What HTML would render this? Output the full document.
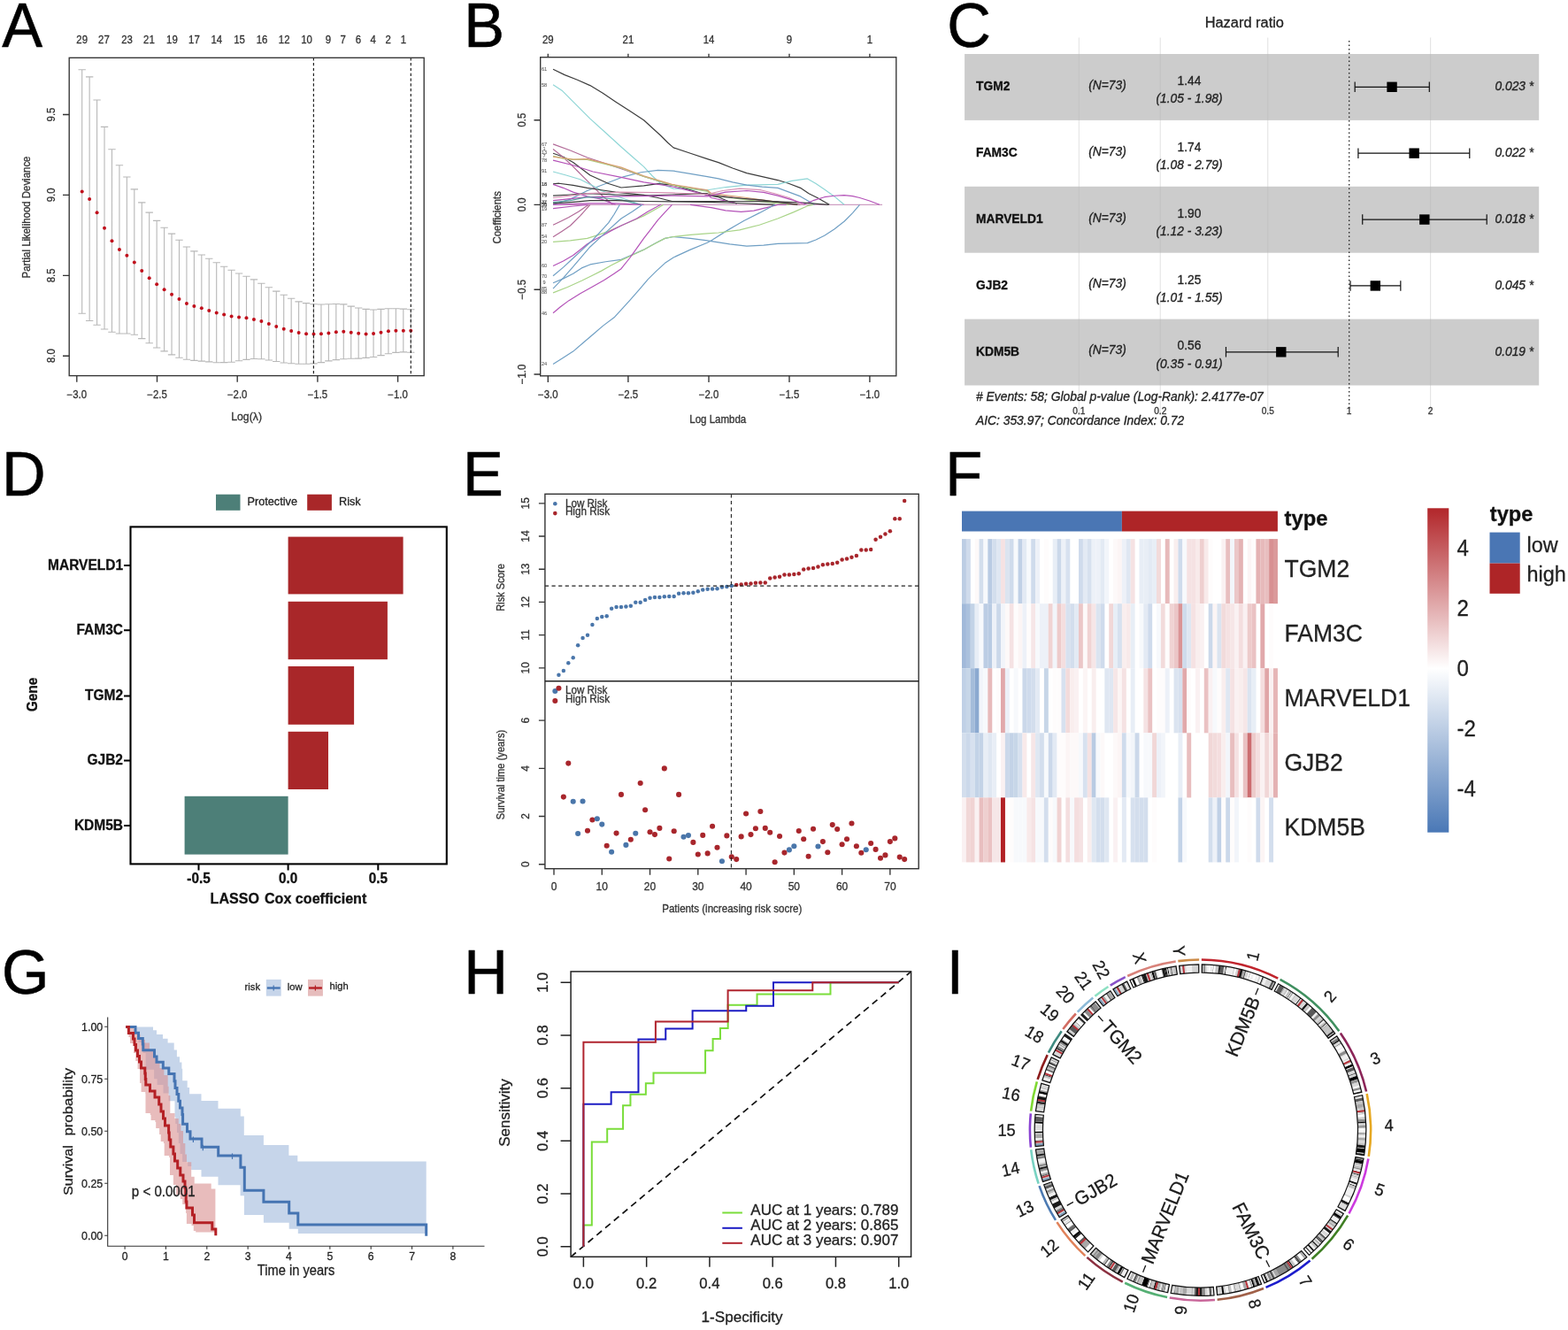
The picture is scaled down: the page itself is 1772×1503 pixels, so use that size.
<!DOCTYPE html>
<html lang="en">
<head>
<meta charset="utf-8">
<title>Figure: LASSO Cox risk model</title>
<style>
html,body{margin:0;padding:0;background:#fff;}
body{width:1772px;height:1503px;overflow:hidden;}
svg{display:block;font-family:'Liberation Sans', Arial, Helvetica, sans-serif;}
</style>
</head>
<body>
<svg width="1772" height="1503" viewBox="0 0 1772 1503">
<rect x="0" y="0" width="1772" height="1503" fill="#ffffff"/>
<g id="panel-a">
<text font-size="70.51" transform="translate(2.2 52.7) scale(0.975 1)" fill="#000" stroke="#000" stroke-width="0.5">A</text>
<path d="M92.7 78.8V354.3M88.5 78.8h8.4M88.5 354.3h8.4M101.15 86.9V362.5M96.95 86.9h8.4M96.95 362.5h8.4M109.59 113V367.3M105.39 113h8.4M105.39 367.3h8.4M118.03 143.4V372M113.83 143.4h8.4M113.83 372h8.4M126.48 168.7V375.2M122.28 168.7h8.4M122.28 375.2h8.4M134.93 186.8V377M130.73 186.8h8.4M130.73 377h8.4M143.37 200V377M139.17 200h8.4M139.17 377h8.4M151.81 213.9V378.3M147.62 213.9h8.4M147.62 378.3h8.4M160.26 228.9V382.6M156.06 228.9h8.4M156.06 382.6h8.4M168.7 240.1V387.8M164.5 240.1h8.4M164.5 387.8h8.4M177.15 249.4V393M172.95 249.4h8.4M172.95 393h8.4M185.6 257.3V396.9M181.4 257.3h8.4M181.4 396.9h8.4M194.04 264.1V400.9M189.84 264.1h8.4M189.84 400.9h8.4M202.49 271.2V404.2M198.29 271.2h8.4M198.29 404.2h8.4M210.93 279V406.3M206.73 279h8.4M206.73 406.3h8.4M219.38 283.9V407.4M215.18 283.9h8.4M215.18 407.4h8.4M227.82 288V408.1M223.62 288h8.4M223.62 408.1h8.4M236.26 292.3V408.9M232.06 292.3h8.4M232.06 408.9h8.4M244.71 296.7V409.8M240.51 296.7h8.4M240.51 409.8h8.4M253.16 301.2V409.6M248.96 301.2h8.4M248.96 409.6h8.4M261.6 305.3V409.2M257.4 305.3h8.4M257.4 409.2h8.4M270.05 309V407.7M265.85 309h8.4M265.85 407.7h8.4M278.49 312.2V406.4M274.29 312.2h8.4M274.29 406.4h8.4M286.94 315.9V405.5M282.74 315.9h8.4M282.74 405.5h8.4M295.38 320.2V405.7M291.18 320.2h8.4M291.18 405.7h8.4M303.82 324.7V407M299.62 324.7h8.4M299.62 407h8.4M312.27 329.1V408.5M308.07 329.1h8.4M308.07 408.5h8.4M320.72 333.2V410M316.52 333.2h8.4M316.52 410h8.4M329.16 337.3V410.7M324.96 337.3h8.4M324.96 410.7h8.4M337.61 340.9V411.3M333.41 340.9h8.4M333.41 411.3h8.4M346.05 342.6V411.3M341.85 342.6h8.4M341.85 411.3h8.4M354.5 343.7V410.9M350.3 343.7h8.4M350.3 410.9h8.4M362.94 344V409.6M358.74 344h8.4M358.74 409.6h8.4M371.38 343.7V407.9M367.19 343.7h8.4M367.19 407.9h8.4M379.83 343.5V406.6M375.63 343.5h8.4M375.63 406.6h8.4M388.27 343.9V405.7M384.07 343.9h8.4M384.07 405.7h8.4M396.72 346.1V405.3M392.52 346.1h8.4M392.52 405.3h8.4M405.17 348V405.1M400.97 348h8.4M400.97 405.1h8.4M413.61 349.4V404.4M409.41 349.4h8.4M409.41 404.4h8.4M422.06 350V403.5M417.86 350h8.4M417.86 403.5h8.4M430.5 349.4V401.6M426.3 349.4h8.4M426.3 401.6h8.4M438.94 348.7V399.7M434.75 348.7h8.4M434.75 399.7h8.4M447.39 348.7V398.4M443.19 348.7h8.4M443.19 398.4h8.4M455.83 349.1V397.9M451.63 349.1h8.4M451.63 397.9h8.4M464.28 349.8V398.2M460.08 349.8h8.4M460.08 398.2h8.4" fill="none" stroke="#b8b8b8" stroke-width="1.1" />
<circle cx="92.7" cy="216.6" r="2" fill="#c0101c"/>
<circle cx="101.15" cy="225" r="2" fill="#c0101c"/>
<circle cx="109.59" cy="240.3" r="2" fill="#c0101c"/>
<circle cx="118.03" cy="257.8" r="2" fill="#c0101c"/>
<circle cx="126.48" cy="272.2" r="2" fill="#c0101c"/>
<circle cx="134.93" cy="282" r="2" fill="#c0101c"/>
<circle cx="143.37" cy="288.7" r="2" fill="#c0101c"/>
<circle cx="151.81" cy="296.4" r="2" fill="#c0101c"/>
<circle cx="160.26" cy="306" r="2" fill="#c0101c"/>
<circle cx="168.7" cy="314.2" r="2" fill="#c0101c"/>
<circle cx="177.15" cy="321.3" r="2" fill="#c0101c"/>
<circle cx="185.6" cy="327.3" r="2" fill="#c0101c"/>
<circle cx="194.04" cy="332.7" r="2" fill="#c0101c"/>
<circle cx="202.49" cy="338.1" r="2" fill="#c0101c"/>
<circle cx="210.93" cy="342.9" r="2" fill="#c0101c"/>
<circle cx="219.38" cy="345.9" r="2" fill="#c0101c"/>
<circle cx="227.82" cy="348.3" r="2" fill="#c0101c"/>
<circle cx="236.26" cy="351.1" r="2" fill="#c0101c"/>
<circle cx="244.71" cy="353.5" r="2" fill="#c0101c"/>
<circle cx="253.16" cy="355.6" r="2" fill="#c0101c"/>
<circle cx="261.6" cy="357.5" r="2" fill="#c0101c"/>
<circle cx="270.05" cy="358.4" r="2" fill="#c0101c"/>
<circle cx="278.49" cy="359.3" r="2" fill="#c0101c"/>
<circle cx="286.94" cy="361" r="2" fill="#c0101c"/>
<circle cx="295.38" cy="363" r="2" fill="#c0101c"/>
<circle cx="303.82" cy="366" r="2" fill="#c0101c"/>
<circle cx="312.27" cy="369" r="2" fill="#c0101c"/>
<circle cx="320.72" cy="371.8" r="2" fill="#c0101c"/>
<circle cx="329.16" cy="374" r="2" fill="#c0101c"/>
<circle cx="337.61" cy="376.1" r="2" fill="#c0101c"/>
<circle cx="346.05" cy="377.2" r="2" fill="#c0101c"/>
<circle cx="354.5" cy="377.6" r="2" fill="#c0101c"/>
<circle cx="362.94" cy="377.2" r="2" fill="#c0101c"/>
<circle cx="371.38" cy="376.5" r="2" fill="#c0101c"/>
<circle cx="379.83" cy="375.3" r="2" fill="#c0101c"/>
<circle cx="388.27" cy="374.8" r="2" fill="#c0101c"/>
<circle cx="396.72" cy="375.7" r="2" fill="#c0101c"/>
<circle cx="405.17" cy="376.8" r="2" fill="#c0101c"/>
<circle cx="413.61" cy="377.4" r="2" fill="#c0101c"/>
<circle cx="422.06" cy="377" r="2" fill="#c0101c"/>
<circle cx="430.5" cy="375.7" r="2" fill="#c0101c"/>
<circle cx="438.94" cy="374.2" r="2" fill="#c0101c"/>
<circle cx="447.39" cy="373.8" r="2" fill="#c0101c"/>
<circle cx="455.83" cy="373.7" r="2" fill="#c0101c"/>
<circle cx="464.28" cy="373.8" r="2" fill="#c0101c"/>
<line x1="354.4" y1="65.3" x2="354.4" y2="424.6" stroke="#222" stroke-width="1.2" stroke-dasharray="3.2 2.6"/>
<line x1="464.3" y1="65.3" x2="464.3" y2="424.6" stroke="#222" stroke-width="1.2" stroke-dasharray="3.2 2.6"/>
<rect x="78.2" y="65.3" width="401" height="359.3" fill="none" stroke="#333" stroke-width="1.35"/>
<text font-size="11.86" transform="translate(86.8 449.68) scale(0.962 1)" text-anchor="middle" fill="#333" stroke="#333" stroke-width="0.3">−3.0</text>
<text font-size="11.86" transform="translate(177.5 449.68) scale(0.962 1)" text-anchor="middle" fill="#333" stroke="#333" stroke-width="0.3">−2.5</text>
<text font-size="11.86" transform="translate(268.2 449.68) scale(0.962 1)" text-anchor="middle" fill="#333" stroke="#333" stroke-width="0.3">−2.0</text>
<text font-size="11.86" transform="translate(358.9 449.68) scale(0.962 1)" text-anchor="middle" fill="#333" stroke="#333" stroke-width="0.3">−1.5</text>
<text font-size="11.86" transform="translate(449.6 449.68) scale(0.962 1)" text-anchor="middle" fill="#333" stroke="#333" stroke-width="0.3">−1.0</text>
<text font-size="11.86" transform="translate(61.78 129.5) rotate(-90) scale(0.962 1)" text-anchor="middle" fill="#333" stroke="#333" stroke-width="0.3">9.5</text>
<text font-size="11.86" transform="translate(61.78 220.4) rotate(-90) scale(0.962 1)" text-anchor="middle" fill="#333" stroke="#333" stroke-width="0.3">9.0</text>
<text font-size="11.86" transform="translate(61.78 311.3) rotate(-90) scale(0.962 1)" text-anchor="middle" fill="#333" stroke="#333" stroke-width="0.3">8.5</text>
<text font-size="11.86" transform="translate(61.78 402.2) rotate(-90) scale(0.962 1)" text-anchor="middle" fill="#333" stroke="#333" stroke-width="0.3">8.0</text>
<path d="M86.8 424.6v7.2M177.5 424.6v7.2M268.2 424.6v7.2M358.9 424.6v7.2M449.6 424.6v7.2M78.2 129.5h-7.2M78.2 220.4h-7.2M78.2 311.3h-7.2M78.2 402.2h-7.2" fill="none" stroke="#333" stroke-width="1.35" />
<text font-size="11.86" transform="translate(92.7 48.88) scale(0.962 1)" text-anchor="middle" fill="#333" stroke="#333" stroke-width="0.3">29</text>
<text font-size="11.86" transform="translate(117.4 48.88) scale(0.962 1)" text-anchor="middle" fill="#333" stroke="#333" stroke-width="0.3">27</text>
<text font-size="11.86" transform="translate(143.5 48.88) scale(0.962 1)" text-anchor="middle" fill="#333" stroke="#333" stroke-width="0.3">23</text>
<text font-size="11.86" transform="translate(168.4 48.88) scale(0.962 1)" text-anchor="middle" fill="#333" stroke="#333" stroke-width="0.3">21</text>
<text font-size="11.86" transform="translate(194.4 48.88) scale(0.962 1)" text-anchor="middle" fill="#333" stroke="#333" stroke-width="0.3">19</text>
<text font-size="11.86" transform="translate(219.4 48.88) scale(0.962 1)" text-anchor="middle" fill="#333" stroke="#333" stroke-width="0.3">17</text>
<text font-size="11.86" transform="translate(244.8 48.88) scale(0.962 1)" text-anchor="middle" fill="#333" stroke="#333" stroke-width="0.3">14</text>
<text font-size="11.86" transform="translate(270.6 48.88) scale(0.962 1)" text-anchor="middle" fill="#333" stroke="#333" stroke-width="0.3">15</text>
<text font-size="11.86" transform="translate(296 48.88) scale(0.962 1)" text-anchor="middle" fill="#333" stroke="#333" stroke-width="0.3">16</text>
<text font-size="11.86" transform="translate(321.2 48.88) scale(0.962 1)" text-anchor="middle" fill="#333" stroke="#333" stroke-width="0.3">12</text>
<text font-size="11.86" transform="translate(346.6 48.88) scale(0.962 1)" text-anchor="middle" fill="#333" stroke="#333" stroke-width="0.3">10</text>
<text font-size="11.86" transform="translate(371 48.88) scale(0.962 1)" text-anchor="middle" fill="#333" stroke="#333" stroke-width="0.3">9</text>
<text font-size="11.86" transform="translate(387.7 48.88) scale(0.962 1)" text-anchor="middle" fill="#333" stroke="#333" stroke-width="0.3">7</text>
<text font-size="11.86" transform="translate(404.8 48.88) scale(0.962 1)" text-anchor="middle" fill="#333" stroke="#333" stroke-width="0.3">6</text>
<text font-size="11.86" transform="translate(421.7 48.88) scale(0.962 1)" text-anchor="middle" fill="#333" stroke="#333" stroke-width="0.3">4</text>
<text font-size="11.86" transform="translate(438.6 48.88) scale(0.962 1)" text-anchor="middle" fill="#333" stroke="#333" stroke-width="0.3">2</text>
<text font-size="11.86" transform="translate(455.9 48.88) scale(0.962 1)" text-anchor="middle" fill="#333" stroke="#333" stroke-width="0.3">1</text>
<text font-size="11.86" transform="translate(278.6 475.08) scale(1.035 1)" text-anchor="middle" fill="#333" stroke="#333" stroke-width="0.3">Log(λ)</text>
<text font-size="11.86" transform="translate(33.88 245.5) rotate(-90) scale(0.965 1)" text-anchor="middle" fill="#333" stroke="#333" stroke-width="0.3">Partial Likelihood Deviance</text>
</g>
<g id="panel-b">
<text font-size="70.51" transform="translate(524.3 52.6) scale(0.975 1)" fill="#000" stroke="#000" stroke-width="0.5">B</text>
<line x1="625" y1="231.3" x2="997.1" y2="231.3" stroke="#c288b4" stroke-width="1" />
<path d="M625.04 78.22 L638.14 84.61 L652.5 90.2 L666.87 96.58 L681.24 105.36 L695.61 114.94 L711.57 125.32 L727.54 135.7 L737.11 144.48 L746.69 153.26 L754.67 161.24 L761.06 166.83 L780.22 173.21 L799.37 179.6 L811.93 183.59 L827.89 189.97 L843.86 195.56 L861.42 199.55 L878.98 203.54 L891.75 207.54 L904.52 212.32 L914.1 218.71 L923.68 223.5 L937.25 231.3" fill="none" stroke="#3c3c3c" stroke-width="1.2" stroke-linejoin="round"/>
<path d="M625.04 95.79 L634.94 102.17 L650.91 118.14 L666.87 134.1 L684.43 150.06 L701.99 166.03 L714.76 177.2 L727.54 188.38 L737.11 198.75 L746.69 207.54 L761.06 213.12 L780.22 213.92 L799.37 214.72 L819.91 211.53 L843.86 209.13 L878.98 208.33 L894.94 204.34 L912.5 201.95 L922.08 207.54 L931.66 213.92 L942.84 221.9 L954.01 231.3" fill="none" stroke="#8fd6d6" stroke-width="1.2" stroke-linejoin="round"/>
<path d="M625.04 231.3 L644.52 225.1 L663.68 215.52 L684.43 207.54 L705.19 199.55 L724.34 194.76 L743.5 192.37 L761.06 193.17 L780.22 196.36 L799.37 199.55 L811.93 201.95 L827.89 205.94 L843.86 209.13 L861.42 211.05 L878.98 212.32 L891.75 217.11 L904.52 221.9 L920.49 231.3" fill="none" stroke="#6f9fc4" stroke-width="1.2" stroke-linejoin="round"/>
<path d="M907.71 231.3 L918.89 226.69 L931.66 222.7 L942.84 221.26 L954.01 220.63 L963.59 221.58 L971.57 223.5 L982.75 227.01 L993.92 231.3" fill="none" stroke="#b452b8" stroke-width="1.2" stroke-linejoin="round"/>
<path d="M625.04 162.84 L644.52 170.02 L663.68 178 L682.84 184.39 L701.99 190.77 L727.54 199.55 L759.46 209.13 L799.37 215.52 L803.95 219.51 L843.86 225.1 L878.98 228.29 L904.52 231.3" fill="none" stroke="#b26a98" stroke-width="1.2" stroke-linejoin="round"/>
<path d="M625.04 173.21 L636.54 177.2 L647.71 183.59 L657.29 190.77 L666.87 197.96 L687.62 207.54 L701.99 212.01 L727.54 209.93 L743.5 207.54 L761.06 209.13 L780.22 214.72 L799.37 220.31 L811.93 222.7 L823.1 227.49 L832.68 229.89" fill="none" stroke="#3c3c3c" stroke-width="1.2" stroke-linejoin="round"/>
<path d="M625.04 168.42 L634.94 176.4 L644.52 185.19 L654.1 194.76 L663.68 204.34 L671.66 212.32 L679.64 220.31 L692.41 231.3" fill="none" stroke="#b26a98" stroke-width="1.2" stroke-linejoin="round"/>
<path d="M625.04 176.4 L636.54 179.12 L647.71 180.4 L663.68 180.4 L682.84 185.19 L701.99 189.97 L727.54 199.55 L759.46 209.13 L799.37 216.32 L803.95 220.31 L843.86 225.89 L891.75 231.3" fill="none" stroke="#a9d488" stroke-width="1.2" stroke-linejoin="round"/>
<path d="M625.04 177.2 L647.71 180.08 L663.68 179.6 L701.99 189.18 L727.54 198.75 L759.46 208.33 L799.37 214.72 L803.95 218.71 L843.86 223.5 L901.33 231.3" fill="none" stroke="#d8a070" stroke-width="1.2" stroke-linejoin="round"/>
<path d="M625.04 181.19 L647.71 186.78 L670.06 193.97 L701.99 200.35 L727.54 205.94 L759.46 210.73 L799.37 220.31 L803.95 223.5 L832.68 229.89" fill="none" stroke="#b452b8" stroke-width="1.2" stroke-linejoin="round"/>
<path d="M625.04 193.97 L639.73 197.96 L655.7 202.75 L668.47 209.13 L679.64 215.52 L701.99 223.5 L724.34 231.3" fill="none" stroke="#8fd6d6" stroke-width="1.2" stroke-linejoin="round"/>
<path d="M625.04 207.85 L631.75 207.22 L647.71 209.45 L663.68 212.32 L679.64 214.72 L695.61 217.11 L727.54 220.31 L743.5 223.5 L759.46 227.49 L799.37 227.49 L827.89 227.49 L878.98 227.97 L907.71 229.09 L936.45 231.3" fill="none" stroke="#3c3c3c" stroke-width="1.2" stroke-linejoin="round"/>
<path d="M625.04 208.33 L636.54 212.32 L647.71 217.11 L663.68 221.9 L679.64 225.1 L695.61 231.3" fill="none" stroke="#b452b8" stroke-width="1.2" stroke-linejoin="round"/>
<path d="M625.04 221.1 L644.52 219.99 L663.68 218.71 L695.61 219.99 L727.54 221.1 L759.46 219.99 L799.37 218.71 L803.95 221.1 L827.89 223.5 L859.82 225.89 L901.33 231.3" fill="none" stroke="#3c3c3c" stroke-width="1.2" stroke-linejoin="round"/>
<path d="M625.04 223.5 L644.52 221.1 L663.68 218.71 L701.99 217.11 L759.46 217.91 L799.37 219.51 L816.72 215.52 L835.87 213.12 L859.82 214.72 L875.79 218.71 L891.75 223.5 L907.71 231.3" fill="none" stroke="#d892b4" stroke-width="1.2" stroke-linejoin="round"/>
<path d="M625.04 226.69 L663.68 222.7 L701.99 221.9 L759.46 221.1 L799.37 221.9 L819.91 217.11 L843.86 215.52 L863.01 217.43 L878.98 221.1 L894.94 225.89 L907.71 229.89" fill="none" stroke="#b452b8" stroke-width="1.2" stroke-linejoin="round"/>
<path d="M625.04 228.61 L644.52 226.69 L663.68 222.7 L679.64 223.5 L701.99 225.89 L724.34 231.3" fill="none" stroke="#5aa0a0" stroke-width="1.2" stroke-linejoin="round"/>
<path d="M625.04 229.89 L647.71 228.29 L666.87 226.69 L695.61 226.69 L727.54 227.49 L759.46 227.97 L799.37 228.29 L827.89 229.25 L875.79 231.3" fill="none" stroke="#3c3c3c" stroke-width="1.2" stroke-linejoin="round"/>
<path d="M625.04 231.3 L663.68 229.89 L695.61 229.89 L727.54 231.3" fill="none" stroke="#b452b8" stroke-width="1.2" stroke-linejoin="round"/>
<path d="M780 231.3 L803.95 234.67 L819.91 237.87 L837.47 239.46 L851.84 238.19 L866.21 234.67 L878.98 231.3 L888.56 231.3" fill="none" stroke="#b452b8" stroke-width="1.2" stroke-linejoin="round"/>
<path d="M625.04 411.48 L636.54 404.3 L647.71 397.11 L658.89 387.54 L670.06 377.96 L681.24 368.38 L694.01 358.8 L703.59 348.42 L711.57 339.64 L722.75 326.87 L732.32 315.7 L741.9 306.12 L751.48 297.34 L761.06 290.95 L780.22 282.17 L799.37 274.19 L803.95 271.79 L821.51 260.62 L840.66 249.44 L858.22 240.66 L875.79 231.3" fill="none" stroke="#6f9fc4" stroke-width="1.2" stroke-linejoin="round"/>
<path d="M625.04 319.69 L636.54 314.9 L647.71 309.31 L657.29 302.92 L666.87 298.93 L684.43 295.74 L701.99 293.35 L714.76 287.76 L727.54 282.17 L740.31 274.99 L751.48 269.4 L761.06 267.48 L780.22 269.4 L799.37 271.79 L803.95 272.59 L824.7 275.79 L843.86 278.18 L863.01 277.06 L878.98 275.31 L912.5 274.67 L922.08 271 L931.66 266.21 L942.84 259.02 L954.01 250.24 L963.59 240.66 L971.57 231.3" fill="none" stroke="#6f9fc4" stroke-width="1.2" stroke-linejoin="round"/>
<path d="M625.04 330.86 L641.33 324.48 L657.29 317.29 L668.47 311.7 L679.64 306.12 L690.82 299.73 L701.99 294.14 L714.76 288.24 L727.54 282.17 L740.31 275.31 L751.48 269.4 L761.06 267.48 L780.22 265.41 L799.37 263.81 L811.93 263.01 L835.87 259.82 L858.22 254.23 L878.98 247.05 L896.54 239.87 L912.5 232.68 L918.89 231.3" fill="none" stroke="#a9d488" stroke-width="1.2" stroke-linejoin="round"/>
<path d="M625.04 273.39 L644.52 271.79 L663.68 269.4 L676.45 265.41 L687.62 261.42 L701.99 255.03 L714.76 249.44 L727.54 243.86 L743.5 235.08 L749.89 231.3" fill="none" stroke="#a9d488" stroke-width="1.2" stroke-linejoin="round"/>
<path d="M625.04 353.69 L633.35 346.83 L642.92 339.64 L655.7 331.66 L670.06 323.68 L682.84 316.49 L694.01 309.31 L701.99 303.72 L711.57 291.75 L719.55 280.57 L727.54 269.4 L735.52 259.02 L743.5 248.65 L751.48 239.87 L759.46 231.3" fill="none" stroke="#b452b8" stroke-width="1.2" stroke-linejoin="round"/>
<path d="M625.04 300.53 L636.54 294.94 L647.71 288.56 L655.7 282.17 L663.68 275.79 L671.66 271 L679.64 267.01 L690.82 260.62 L701.99 255.03 L719.55 247.05 L732.32 239.07 L746.69 231.3" fill="none" stroke="#b452b8" stroke-width="1.2" stroke-linejoin="round"/>
<path d="M625.04 311.7 L636.54 302.13 L647.71 291.75 L658.89 281.37 L670.06 271 L679.64 260.62 L687.62 251.84 L694.01 242.26 L700.4 231.3" fill="none" stroke="#6f9fc4" stroke-width="1.2" stroke-linejoin="round"/>
<path d="M625.04 326.07 L636.54 314.1 L647.71 301.33 L657.29 290.15 L666.87 278.98 L678.05 268.6 L687.62 259.82 L701.99 247.05 L714.76 239.07 L725.94 231.3" fill="none" stroke="#6f9fc4" stroke-width="1.2" stroke-linejoin="round"/>
<path d="M625.04 254.23 L634.94 249.44 L642.92 245.45 L654.1 239.07 L665.27 231.3" fill="none" stroke="#b26a98" stroke-width="1.2" stroke-linejoin="round"/>
<path d="M625.04 267.8 L634.94 261.42 L644.52 255.03 L655.7 243.86 L666.87 231.3" fill="none" stroke="#b26a98" stroke-width="1.2" stroke-linejoin="round"/>
<path d="M625.04 235.56 L647.71 233 L663.68 231.3" fill="none" stroke="#b452b8" stroke-width="1.2" stroke-linejoin="round"/>
<text font-size="5.82" transform="translate(614.99 80.23) scale(0.962 1)" text-anchor="middle" fill="#444">61</text>
<text font-size="5.82" transform="translate(614.99 97.79) scale(0.962 1)" text-anchor="middle" fill="#444">58</text>
<text font-size="5.82" transform="translate(614.99 164.84) scale(0.962 1)" text-anchor="middle" fill="#444">67</text>
<text font-size="5.82" transform="translate(614.99 169.63) scale(0.962 1)" text-anchor="middle" fill="#444">1</text>
<text font-size="5.82" transform="translate(614.99 174.1) scale(0.962 1)" text-anchor="middle" fill="#444">13</text>
<text font-size="5.82" transform="translate(614.99 178.41) scale(0.962 1)" text-anchor="middle" fill="#444">7</text>
<text font-size="5.82" transform="translate(614.99 183.2) scale(0.962 1)" text-anchor="middle" fill="#444">78</text>
<text font-size="5.82" transform="translate(614.99 195.49) scale(0.962 1)" text-anchor="middle" fill="#444">91</text>
<text font-size="5.82" transform="translate(614.99 209.54) scale(0.962 1)" text-anchor="middle" fill="#444">16</text>
<text font-size="5.82" transform="translate(614.99 210.18) scale(0.962 1)" text-anchor="middle" fill="#444">18</text>
<text font-size="5.82" transform="translate(614.99 222.31) scale(0.962 1)" text-anchor="middle" fill="#444">74</text>
<text font-size="5.82" transform="translate(614.99 223.27) scale(0.962 1)" text-anchor="middle" fill="#444">79</text>
<text font-size="5.82" transform="translate(614.99 229.5) scale(0.962 1)" text-anchor="middle" fill="#444">32</text>
<text font-size="5.82" transform="translate(614.99 231.41) scale(0.962 1)" text-anchor="middle" fill="#444">41</text>
<text font-size="5.82" transform="translate(614.99 232.85) scale(0.962 1)" text-anchor="middle" fill="#444">55</text>
<text font-size="5.82" transform="translate(614.99 233.81) scale(0.962 1)" text-anchor="middle" fill="#444">29</text>
<text font-size="5.82" transform="translate(614.99 237.56) scale(0.962 1)" text-anchor="middle" fill="#444">19</text>
<text font-size="5.82" transform="translate(614.99 255.92) scale(0.962 1)" text-anchor="middle" fill="#444">87</text>
<text font-size="5.82" transform="translate(614.99 269.49) scale(0.962 1)" text-anchor="middle" fill="#444">54</text>
<text font-size="5.82" transform="translate(614.99 275.08) scale(0.962 1)" text-anchor="middle" fill="#444">20</text>
<text font-size="5.82" transform="translate(614.99 302.22) scale(0.962 1)" text-anchor="middle" fill="#444">60</text>
<text font-size="5.82" transform="translate(614.99 313.71) scale(0.962 1)" text-anchor="middle" fill="#444">70</text>
<text font-size="5.82" transform="translate(614.99 321.37) scale(0.962 1)" text-anchor="middle" fill="#444">9</text>
<text font-size="5.82" transform="translate(614.99 327.6) scale(0.962 1)" text-anchor="middle" fill="#444">85</text>
<text font-size="5.82" transform="translate(614.99 332.39) scale(0.962 1)" text-anchor="middle" fill="#444">88</text>
<text font-size="5.82" transform="translate(614.99 355.54) scale(0.962 1)" text-anchor="middle" fill="#444">46</text>
<text font-size="5.82" transform="translate(614.99 413.49) scale(0.962 1)" text-anchor="middle" fill="#444">24</text>
<rect x="610.7" y="64.7" width="402.1" height="360.1" fill="none" stroke="#333" stroke-width="1.35"/>
<text font-size="11.86" transform="translate(619.3 48.68) scale(0.962 1)" text-anchor="middle" fill="#333" stroke="#333" stroke-width="0.3">29</text>
<text font-size="11.86" transform="translate(709.9 48.68) scale(0.962 1)" text-anchor="middle" fill="#333" stroke="#333" stroke-width="0.3">21</text>
<text font-size="11.86" transform="translate(801 48.68) scale(0.962 1)" text-anchor="middle" fill="#333" stroke="#333" stroke-width="0.3">14</text>
<text font-size="11.86" transform="translate(892 48.68) scale(0.962 1)" text-anchor="middle" fill="#333" stroke="#333" stroke-width="0.3">9</text>
<text font-size="11.86" transform="translate(982.9 48.68) scale(0.962 1)" text-anchor="middle" fill="#333" stroke="#333" stroke-width="0.3">1</text>
<text font-size="11.86" transform="translate(619.3 450.08) scale(0.962 1)" text-anchor="middle" fill="#333" stroke="#333" stroke-width="0.3">−3.0</text>
<text font-size="11.86" transform="translate(709.9 450.08) scale(0.962 1)" text-anchor="middle" fill="#333" stroke="#333" stroke-width="0.3">−2.5</text>
<text font-size="11.86" transform="translate(801 450.08) scale(0.962 1)" text-anchor="middle" fill="#333" stroke="#333" stroke-width="0.3">−2.0</text>
<text font-size="11.86" transform="translate(892 450.08) scale(0.962 1)" text-anchor="middle" fill="#333" stroke="#333" stroke-width="0.3">−1.5</text>
<text font-size="11.86" transform="translate(982.9 450.08) scale(0.962 1)" text-anchor="middle" fill="#333" stroke="#333" stroke-width="0.3">−1.0</text>
<text font-size="11.86" transform="translate(593.58 135.7) rotate(-90) scale(0.962 1)" text-anchor="middle" fill="#333" stroke="#333" stroke-width="0.3">0.5</text>
<text font-size="11.86" transform="translate(593.58 231.4) rotate(-90) scale(0.962 1)" text-anchor="middle" fill="#333" stroke="#333" stroke-width="0.3">0.0</text>
<text font-size="11.86" transform="translate(593.58 327.2) rotate(-90) scale(0.962 1)" text-anchor="middle" fill="#333" stroke="#333" stroke-width="0.3">−0.5</text>
<text font-size="11.86" transform="translate(593.58 423) rotate(-90) scale(0.962 1)" text-anchor="middle" fill="#333" stroke="#333" stroke-width="0.3">−1.0</text>
<path d="M619.3 64.7v-4M709.9 64.7v-4M801 64.7v-4M892 64.7v-4M982.9 64.7v-4M619.3 424.8v7.2M709.9 424.8v7.2M801 424.8v7.2M892 424.8v7.2M982.9 424.8v7.2M610.7 135.7h-7.2M610.7 231.4h-7.2M610.7 327.2h-7.2M610.7 423h-7.2" fill="none" stroke="#333" stroke-width="1.35" />
<text font-size="11.86" transform="translate(811.3 477.88) scale(0.971 1)" text-anchor="middle" fill="#333" stroke="#333" stroke-width="0.3">Log Lambda</text>
<text font-size="11.86" transform="translate(565.68 245.8) rotate(-90) scale(0.964 1)" text-anchor="middle" fill="#333" stroke="#333" stroke-width="0.3">Coefficients</text>
</g>
<g id="panel-c">
<text font-size="70.51" transform="translate(1070.3 52.7) scale(0.975 1)" fill="#000" stroke="#000" stroke-width="0.5">C</text>
<text font-size="17.06" transform="translate(1406.3 30.67) scale(0.962 1)" text-anchor="middle" fill="#222" stroke="#222" stroke-width="0.3">Hazard ratio</text>
<rect x="1090.1" y="61" width="649.1" height="74.9" fill="#cccccc"/>
<rect x="1090.1" y="210.8" width="649.1" height="74.9" fill="#cccccc"/>
<rect x="1090.1" y="360.6" width="649.1" height="74.9" fill="#cccccc"/>
<line x1="1219.3" y1="42.5" x2="1219.3" y2="469" stroke="#b5b5b5" stroke-width="0.7" stroke-opacity="0.6"/>
<line x1="1311.23" y1="42.5" x2="1311.23" y2="469" stroke="#b5b5b5" stroke-width="0.7" stroke-opacity="0.6"/>
<line x1="1432.77" y1="42.5" x2="1432.77" y2="469" stroke="#b5b5b5" stroke-width="0.7" stroke-opacity="0.6"/>
<line x1="1616.63" y1="42.5" x2="1616.63" y2="469" stroke="#b5b5b5" stroke-width="0.7" stroke-opacity="0.6"/>
<line x1="1524.7" y1="46" x2="1524.7" y2="462" stroke="#222" stroke-width="1.3" stroke-dasharray="1.4 3.1"/>
<text font-size="14.35" transform="translate(1103 102.04) scale(0.962 1)" font-weight="bold" fill="#111" stroke="#111" stroke-width="0.3">TGM2</text>
<text font-size="14.35" transform="translate(1230.2 100.84) scale(0.962 1)" font-style="italic" fill="#222" stroke="#222" stroke-width="0.3">(N=73)</text>
<text font-size="14.35" transform="translate(1344 95.94) scale(0.962 1)" text-anchor="middle" fill="#222" stroke="#222" stroke-width="0.3">1.44</text>
<text font-size="14.35" transform="translate(1344 116.24) scale(0.962 1)" text-anchor="middle" font-style="italic" fill="#222" stroke="#222" stroke-width="0.3">(1.05 - 1.98)</text>
<text font-size="14.35" transform="translate(1733.2 102.34) scale(0.962 1)" text-anchor="end" font-style="italic" fill="#222" stroke="#222" stroke-width="0.3">0.023 *</text>
<path d="M1531.17 98.3H1615.3M1531.17 92.5v11.6M1615.3 92.5v11.6" fill="none" stroke="#111" stroke-width="1.2" />
<rect x="1567.36" y="92.6" width="11.4" height="11.4" fill="#000"/>
<text font-size="14.35" transform="translate(1103 176.92) scale(0.962 1)" font-weight="bold" fill="#111" stroke="#111" stroke-width="0.3">FAM3C</text>
<text font-size="14.35" transform="translate(1230.2 175.72) scale(0.962 1)" font-style="italic" fill="#222" stroke="#222" stroke-width="0.3">(N=73)</text>
<text font-size="14.35" transform="translate(1344 170.82) scale(0.962 1)" text-anchor="middle" fill="#222" stroke="#222" stroke-width="0.3">1.74</text>
<text font-size="14.35" transform="translate(1344 191.12) scale(0.962 1)" text-anchor="middle" font-style="italic" fill="#222" stroke="#222" stroke-width="0.3">(1.08 - 2.79)</text>
<text font-size="14.35" transform="translate(1733.2 177.22) scale(0.962 1)" text-anchor="end" font-style="italic" fill="#222" stroke="#222" stroke-width="0.3">0.022 *</text>
<path d="M1534.91 173.18H1660.79M1534.91 167.38v11.6M1660.79 167.38v11.6" fill="none" stroke="#111" stroke-width="1.2" />
<rect x="1592.46" y="167.48" width="11.4" height="11.4" fill="#000"/>
<text font-size="14.35" transform="translate(1103 251.8) scale(0.962 1)" font-weight="bold" fill="#111" stroke="#111" stroke-width="0.3">MARVELD1</text>
<text font-size="14.35" transform="translate(1230.2 250.6) scale(0.962 1)" font-style="italic" fill="#222" stroke="#222" stroke-width="0.3">(N=73)</text>
<text font-size="14.35" transform="translate(1344 245.7) scale(0.962 1)" text-anchor="middle" fill="#222" stroke="#222" stroke-width="0.3">1.90</text>
<text font-size="14.35" transform="translate(1344 266) scale(0.962 1)" text-anchor="middle" font-style="italic" fill="#222" stroke="#222" stroke-width="0.3">(1.12 - 3.23)</text>
<text font-size="14.35" transform="translate(1733.2 252.1) scale(0.962 1)" text-anchor="end" font-style="italic" fill="#222" stroke="#222" stroke-width="0.3">0.018 *</text>
<path d="M1539.73 248.06H1680.21M1539.73 242.26v11.6M1680.21 242.26v11.6" fill="none" stroke="#111" stroke-width="1.2" />
<rect x="1604.13" y="242.36" width="11.4" height="11.4" fill="#000"/>
<text font-size="14.35" transform="translate(1103 326.68) scale(0.962 1)" font-weight="bold" fill="#111" stroke="#111" stroke-width="0.3">GJB2</text>
<text font-size="14.35" transform="translate(1230.2 325.48) scale(0.962 1)" font-style="italic" fill="#222" stroke="#222" stroke-width="0.3">(N=73)</text>
<text font-size="14.35" transform="translate(1344 320.58) scale(0.962 1)" text-anchor="middle" fill="#222" stroke="#222" stroke-width="0.3">1.25</text>
<text font-size="14.35" transform="translate(1344 340.88) scale(0.962 1)" text-anchor="middle" font-style="italic" fill="#222" stroke="#222" stroke-width="0.3">(1.01 - 1.55)</text>
<text font-size="14.35" transform="translate(1733.2 326.98) scale(0.962 1)" text-anchor="end" font-style="italic" fill="#222" stroke="#222" stroke-width="0.3">0.045 *</text>
<path d="M1526.02 322.94H1582.83M1526.02 317.14v11.6M1582.83 317.14v11.6" fill="none" stroke="#111" stroke-width="1.2" />
<rect x="1548.6" y="317.24" width="11.4" height="11.4" fill="#000"/>
<text font-size="14.35" transform="translate(1103 401.56) scale(0.962 1)" font-weight="bold" fill="#111" stroke="#111" stroke-width="0.3">KDM5B</text>
<text font-size="14.35" transform="translate(1230.2 400.36) scale(0.962 1)" font-style="italic" fill="#222" stroke="#222" stroke-width="0.3">(N=73)</text>
<text font-size="14.35" transform="translate(1344 395.46) scale(0.962 1)" text-anchor="middle" fill="#222" stroke="#222" stroke-width="0.3">0.56</text>
<text font-size="14.35" transform="translate(1344 415.76) scale(0.962 1)" text-anchor="middle" font-style="italic" fill="#222" stroke="#222" stroke-width="0.3">(0.35 - 0.91)</text>
<text font-size="14.35" transform="translate(1733.2 401.86) scale(0.962 1)" text-anchor="end" font-style="italic" fill="#222" stroke="#222" stroke-width="0.3">0.019 *</text>
<path d="M1385.46 397.82H1512.19M1385.46 392.02v11.6M1512.19 392.02v11.6" fill="none" stroke="#111" stroke-width="1.2" />
<rect x="1442.1" y="392.12" width="11.4" height="11.4" fill="#000"/>
<text font-size="10.61" transform="translate(1219.3 467.85) scale(0.962 1)" text-anchor="middle" fill="#333" stroke="#333" stroke-width="0.3">0.1</text>
<text font-size="10.61" transform="translate(1311.23 467.85) scale(0.962 1)" text-anchor="middle" fill="#333" stroke="#333" stroke-width="0.3">0.2</text>
<text font-size="10.61" transform="translate(1432.77 467.85) scale(0.962 1)" text-anchor="middle" fill="#333" stroke="#333" stroke-width="0.3">0.5</text>
<text font-size="10.61" transform="translate(1524.7 467.85) scale(0.962 1)" text-anchor="middle" fill="#333" stroke="#333" stroke-width="0.3">1</text>
<text font-size="10.61" transform="translate(1616.63 467.85) scale(0.962 1)" text-anchor="middle" fill="#333" stroke="#333" stroke-width="0.3">2</text>
<text font-size="14.25" transform="translate(1103 453.47) scale(0.972 1)" font-style="italic" fill="#222" stroke="#222" stroke-width="0.3"># Events: 58; Global p-value (Log-Rank): 2.4177e-07</text>
<text font-size="14.25" transform="translate(1103 480.37) scale(0.971 1)" font-style="italic" fill="#222" stroke="#222" stroke-width="0.3">AIC: 353.97; Concordance Index: 0.72</text>
</g>
<g id="panel-d">
<text font-size="70.51" transform="translate(2 560) scale(0.975 1)" fill="#000" stroke="#000" stroke-width="0.5">D</text>
<rect x="244" y="558.7" width="27.5" height="18.1" fill="#4d7f78"/>
<text font-size="13.21" transform="translate(279.5 570.75) scale(0.962 1)" fill="#222" stroke="#222" stroke-width="0.3">Protective</text>
<rect x="347.2" y="558.7" width="27.7" height="18.1" fill="#a92729"/>
<text font-size="13.21" transform="translate(383 570.75) scale(0.962 1)" fill="#222" stroke="#222" stroke-width="0.3">Risk</text>
<rect x="325.6" y="606.6" width="130" height="64.8" fill="#a92729"/>
<text font-size="16.12" transform="translate(139 643.65) scale(0.962 1)" text-anchor="end" font-weight="bold" fill="#111" stroke="#111" stroke-width="0.3">MARVELD1</text>
<rect x="325.6" y="679.8" width="112.3" height="65.4" fill="#a92729"/>
<text font-size="16.12" transform="translate(139 716.95) scale(0.962 1)" text-anchor="end" font-weight="bold" fill="#111" stroke="#111" stroke-width="0.3">FAM3C</text>
<rect x="325.6" y="753" width="74.5" height="65.8" fill="#a92729"/>
<text font-size="16.12" transform="translate(139 791.15) scale(0.962 1)" text-anchor="end" font-weight="bold" fill="#111" stroke="#111" stroke-width="0.3">TGM2</text>
<rect x="325.6" y="826.8" width="45.4" height="65.2" fill="#a92729"/>
<text font-size="16.12" transform="translate(139 864.15) scale(0.962 1)" text-anchor="end" font-weight="bold" fill="#111" stroke="#111" stroke-width="0.3">GJB2</text>
<rect x="208.6" y="899.8" width="117" height="65.8" fill="#4d7f78"/>
<text font-size="16.12" transform="translate(139 937.75) scale(0.962 1)" text-anchor="end" font-weight="bold" fill="#111" stroke="#111" stroke-width="0.3">KDM5B</text>
<text font-size="15.91" transform="translate(224.5 998.28) scale(0.962 1)" text-anchor="middle" font-weight="bold" fill="#111" stroke="#111" stroke-width="0.3">-0.5</text>
<text font-size="15.91" transform="translate(325.6 998.28) scale(0.962 1)" text-anchor="middle" font-weight="bold" fill="#111" stroke="#111" stroke-width="0.3">0.0</text>
<text font-size="15.91" transform="translate(427.3 998.28) scale(0.962 1)" text-anchor="middle" font-weight="bold" fill="#111" stroke="#111" stroke-width="0.3">0.5</text>
<path d="M147.5 638.9h-7.5M147.5 712.2h-7.5M147.5 786.4h-7.5M147.5 859.4h-7.5M147.5 933h-7.5M224.5 976.4v7M325.6 976.4v7M427.3 976.4v7" fill="none" stroke="#000" stroke-width="2" />
<rect x="147.5" y="595.4" width="357.3" height="381" fill="none" stroke="#000" stroke-width="2.1"/>
<text font-size="16.74" transform="translate(237.6 1021.26) scale(0.962 1)" font-weight="bold" fill="#111" stroke="#111" stroke-width="0.3">LASSO</text>
<text font-size="16.74" transform="translate(299 1021.26) scale(0.962 1)" font-weight="bold" fill="#111" stroke="#111" stroke-width="0.3">Cox coefficient</text>
<text font-size="16.12" transform="translate(41.85 785) rotate(-90) scale(0.962 1)" text-anchor="middle" font-weight="bold" fill="#111" stroke="#111" stroke-width="0.3">Gene</text>
</g>
<g id="panel-e">
<text font-size="70.51" transform="translate(523 560) scale(0.975 1)" fill="#000" stroke="#000" stroke-width="0.5">E</text>
<circle cx="631.43" cy="762.7" r="2.25" fill="#4a76aa"/>
<circle cx="636.85" cy="758" r="2.25" fill="#4a76aa"/>
<circle cx="642.28" cy="749.3" r="2.25" fill="#4a76aa"/>
<circle cx="647.71" cy="743.3" r="2.25" fill="#4a76aa"/>
<circle cx="653.13" cy="729.3" r="2.25" fill="#4a76aa"/>
<circle cx="658.56" cy="721.1" r="2.25" fill="#4a76aa"/>
<circle cx="663.99" cy="717.8" r="2.25" fill="#4a76aa"/>
<circle cx="669.41" cy="706" r="2.25" fill="#4a76aa"/>
<circle cx="674.84" cy="699.1" r="2.25" fill="#4a76aa"/>
<circle cx="680.27" cy="696.9" r="2.25" fill="#4a76aa"/>
<circle cx="685.69" cy="696.2" r="2.25" fill="#4a76aa"/>
<circle cx="691.12" cy="687.8" r="2.25" fill="#4a76aa"/>
<circle cx="696.55" cy="685.9" r="2.25" fill="#4a76aa"/>
<circle cx="701.97" cy="685.9" r="2.25" fill="#4a76aa"/>
<circle cx="707.4" cy="685.5" r="2.25" fill="#4a76aa"/>
<circle cx="712.83" cy="684.8" r="2.25" fill="#4a76aa"/>
<circle cx="718.25" cy="680.7" r="2.25" fill="#4a76aa"/>
<circle cx="723.68" cy="680.7" r="2.25" fill="#4a76aa"/>
<circle cx="729.11" cy="677.9" r="2.25" fill="#4a76aa"/>
<circle cx="734.53" cy="675.7" r="2.25" fill="#4a76aa"/>
<circle cx="739.96" cy="675.1" r="2.25" fill="#4a76aa"/>
<circle cx="745.39" cy="674.9" r="2.25" fill="#4a76aa"/>
<circle cx="750.81" cy="674.2" r="2.25" fill="#4a76aa"/>
<circle cx="756.24" cy="674" r="2.25" fill="#4a76aa"/>
<circle cx="761.67" cy="674" r="2.25" fill="#4a76aa"/>
<circle cx="767.09" cy="670.8" r="2.25" fill="#4a76aa"/>
<circle cx="772.52" cy="670.3" r="2.25" fill="#4a76aa"/>
<circle cx="777.95" cy="670.3" r="2.25" fill="#4a76aa"/>
<circle cx="783.37" cy="669.7" r="2.25" fill="#4a76aa"/>
<circle cx="788.8" cy="668.2" r="2.25" fill="#4a76aa"/>
<circle cx="794.23" cy="666.6" r="2.25" fill="#4a76aa"/>
<circle cx="799.65" cy="665.8" r="2.25" fill="#4a76aa"/>
<circle cx="805.08" cy="665.4" r="2.25" fill="#4a76aa"/>
<circle cx="810.51" cy="665.2" r="2.25" fill="#4a76aa"/>
<circle cx="815.93" cy="663.4" r="2.25" fill="#4a76aa"/>
<circle cx="821.36" cy="663" r="2.25" fill="#4a76aa"/>
<circle cx="826.79" cy="662.1" r="2.25" fill="#4a76aa"/>
<circle cx="832.21" cy="661" r="2.25" fill="#a8262c"/>
<circle cx="837.64" cy="660.4" r="2.25" fill="#a8262c"/>
<circle cx="843.07" cy="659.8" r="2.25" fill="#a8262c"/>
<circle cx="848.49" cy="659.6" r="2.25" fill="#a8262c"/>
<circle cx="853.92" cy="658.7" r="2.25" fill="#a8262c"/>
<circle cx="859.35" cy="658.5" r="2.25" fill="#a8262c"/>
<circle cx="864.77" cy="658.5" r="2.25" fill="#a8262c"/>
<circle cx="870.2" cy="653.5" r="2.25" fill="#a8262c"/>
<circle cx="875.63" cy="652.6" r="2.25" fill="#a8262c"/>
<circle cx="881.05" cy="651.8" r="2.25" fill="#a8262c"/>
<circle cx="886.48" cy="649.6" r="2.25" fill="#a8262c"/>
<circle cx="891.91" cy="649.4" r="2.25" fill="#a8262c"/>
<circle cx="897.34" cy="649" r="2.25" fill="#a8262c"/>
<circle cx="902.76" cy="648.3" r="2.25" fill="#a8262c"/>
<circle cx="908.19" cy="643.6" r="2.25" fill="#a8262c"/>
<circle cx="913.62" cy="642.5" r="2.25" fill="#a8262c"/>
<circle cx="919.04" cy="641.9" r="2.25" fill="#a8262c"/>
<circle cx="924.47" cy="640.6" r="2.25" fill="#a8262c"/>
<circle cx="929.9" cy="638.2" r="2.25" fill="#a8262c"/>
<circle cx="935.32" cy="637.5" r="2.25" fill="#a8262c"/>
<circle cx="940.75" cy="637.1" r="2.25" fill="#a8262c"/>
<circle cx="946.18" cy="635.8" r="2.25" fill="#a8262c"/>
<circle cx="951.6" cy="632.6" r="2.25" fill="#a8262c"/>
<circle cx="957.03" cy="631.5" r="2.25" fill="#a8262c"/>
<circle cx="962.46" cy="629.8" r="2.25" fill="#a8262c"/>
<circle cx="967.88" cy="628" r="2.25" fill="#a8262c"/>
<circle cx="973.31" cy="621.6" r="2.25" fill="#a8262c"/>
<circle cx="978.74" cy="621.6" r="2.25" fill="#a8262c"/>
<circle cx="984.16" cy="620.9" r="2.25" fill="#a8262c"/>
<circle cx="989.59" cy="609.7" r="2.25" fill="#a8262c"/>
<circle cx="995.02" cy="606.7" r="2.25" fill="#a8262c"/>
<circle cx="1000.44" cy="603.6" r="2.25" fill="#a8262c"/>
<circle cx="1005.87" cy="600.2" r="2.25" fill="#a8262c"/>
<circle cx="1011.3" cy="586.3" r="2.25" fill="#a8262c"/>
<circle cx="1016.72" cy="586.3" r="2.25" fill="#a8262c"/>
<circle cx="1022.15" cy="566.1" r="2.25" fill="#a8262c"/>
<circle cx="627.3" cy="569.3" r="2.3" fill="#4a76aa"/>
<circle cx="627.3" cy="580.1" r="2.3" fill="#a8262c"/>
<text font-size="12.17" transform="translate(638.9 572.59) scale(0.962 1)" fill="#333" stroke="#333" stroke-width="0.3">Low Risk</text>
<text font-size="12.17" transform="translate(638.9 582.39) scale(0.962 1)" fill="#333" stroke="#333" stroke-width="0.3">High Risk</text>
<circle cx="627.3" cy="780.9" r="3" fill="#4a76aa"/>
<circle cx="627.3" cy="792" r="3" fill="#a8262c"/>
<text font-size="12.17" transform="translate(638.9 784.09) scale(0.962 1)" fill="#333" stroke="#333" stroke-width="0.3">Low Risk</text>
<text font-size="12.17" transform="translate(638.9 793.99) scale(0.962 1)" fill="#333" stroke="#333" stroke-width="0.3">High Risk</text>
<circle cx="631.43" cy="777.7" r="3.05" fill="#a8262c"/>
<circle cx="636.85" cy="900.6" r="3.05" fill="#a8262c"/>
<circle cx="642.28" cy="862.6" r="3.05" fill="#a8262c"/>
<circle cx="647.71" cy="905.7" r="3.05" fill="#4a76aa"/>
<circle cx="653.13" cy="942" r="3.05" fill="#4a76aa"/>
<circle cx="658.56" cy="905.5" r="3.05" fill="#4a76aa"/>
<circle cx="663.99" cy="938.8" r="3.05" fill="#a8262c"/>
<circle cx="669.41" cy="926.5" r="3.05" fill="#a8262c"/>
<circle cx="674.84" cy="925.2" r="3.05" fill="#4a76aa"/>
<circle cx="680.27" cy="931.6" r="3.05" fill="#4a76aa"/>
<circle cx="685.69" cy="955.8" r="3.05" fill="#a8262c"/>
<circle cx="691.12" cy="962.7" r="3.05" fill="#4a76aa"/>
<circle cx="696.55" cy="941.6" r="3.05" fill="#a8262c"/>
<circle cx="701.97" cy="897.9" r="3.05" fill="#a8262c"/>
<circle cx="707.4" cy="954.9" r="3.05" fill="#4a76aa"/>
<circle cx="712.83" cy="948.7" r="3.05" fill="#a8262c"/>
<circle cx="718.25" cy="941.8" r="3.05" fill="#4a76aa"/>
<circle cx="723.68" cy="885" r="3.05" fill="#a8262c"/>
<circle cx="729.11" cy="915.2" r="3.05" fill="#a8262c"/>
<circle cx="734.53" cy="940.3" r="3.05" fill="#a8262c"/>
<circle cx="739.96" cy="943.1" r="3.05" fill="#a8262c"/>
<circle cx="745.39" cy="935.9" r="3.05" fill="#a8262c"/>
<circle cx="750.81" cy="868.4" r="3.05" fill="#a8262c"/>
<circle cx="756.24" cy="970.5" r="3.05" fill="#a8262c"/>
<circle cx="761.67" cy="939.2" r="3.05" fill="#a8262c"/>
<circle cx="767.09" cy="897.9" r="3.05" fill="#a8262c"/>
<circle cx="772.52" cy="945.7" r="3.05" fill="#4a76aa"/>
<circle cx="777.95" cy="944.1" r="3.05" fill="#4a76aa"/>
<circle cx="783.37" cy="951.9" r="3.05" fill="#a8262c"/>
<circle cx="788.8" cy="965.5" r="3.05" fill="#a8262c"/>
<circle cx="794.23" cy="943.9" r="3.05" fill="#a8262c"/>
<circle cx="799.65" cy="964.4" r="3.05" fill="#a8262c"/>
<circle cx="805.08" cy="933.8" r="3.05" fill="#a8262c"/>
<circle cx="810.51" cy="957.7" r="3.05" fill="#a8262c"/>
<circle cx="815.93" cy="973.3" r="3.05" fill="#4a76aa"/>
<circle cx="821.36" cy="944.4" r="3.05" fill="#a8262c"/>
<circle cx="826.79" cy="968.3" r="3.05" fill="#a8262c"/>
<circle cx="832.21" cy="971.1" r="3.05" fill="#a8262c"/>
<circle cx="837.64" cy="945.4" r="3.05" fill="#a8262c"/>
<circle cx="843.07" cy="919.5" r="3.05" fill="#a8262c"/>
<circle cx="848.49" cy="943.1" r="3.05" fill="#a8262c"/>
<circle cx="853.92" cy="936.2" r="3.05" fill="#a8262c"/>
<circle cx="859.35" cy="917" r="3.05" fill="#a8262c"/>
<circle cx="864.77" cy="935.9" r="3.05" fill="#a8262c"/>
<circle cx="870.2" cy="940.7" r="3.05" fill="#a8262c"/>
<circle cx="875.63" cy="974.2" r="3.05" fill="#a8262c"/>
<circle cx="881.05" cy="945" r="3.05" fill="#a8262c"/>
<circle cx="886.48" cy="963.6" r="3.05" fill="#a8262c"/>
<circle cx="891.91" cy="960.4" r="3.05" fill="#4a76aa"/>
<circle cx="897.34" cy="956.3" r="3.05" fill="#4a76aa"/>
<circle cx="902.76" cy="939" r="3.05" fill="#a8262c"/>
<circle cx="908.19" cy="948.2" r="3.05" fill="#a8262c"/>
<circle cx="913.62" cy="967.7" r="3.05" fill="#a8262c"/>
<circle cx="919.04" cy="936.8" r="3.05" fill="#a8262c"/>
<circle cx="924.47" cy="956.5" r="3.05" fill="#4a76aa"/>
<circle cx="929.9" cy="951.1" r="3.05" fill="#a8262c"/>
<circle cx="935.32" cy="963.2" r="3.05" fill="#a8262c"/>
<circle cx="940.75" cy="932.1" r="3.05" fill="#a8262c"/>
<circle cx="946.18" cy="937" r="3.05" fill="#a8262c"/>
<circle cx="951.6" cy="954.3" r="3.05" fill="#a8262c"/>
<circle cx="957.03" cy="948.2" r="3.05" fill="#a8262c"/>
<circle cx="962.46" cy="930.5" r="3.05" fill="#a8262c"/>
<circle cx="967.88" cy="956.3" r="3.05" fill="#a8262c"/>
<circle cx="973.31" cy="963.8" r="3.05" fill="#a8262c"/>
<circle cx="978.74" cy="960.3" r="3.05" fill="#4a76aa"/>
<circle cx="984.16" cy="953" r="3.05" fill="#a8262c"/>
<circle cx="989.59" cy="959.9" r="3.05" fill="#a8262c"/>
<circle cx="995.02" cy="969.8" r="3.05" fill="#a8262c"/>
<circle cx="1000.44" cy="966.4" r="3.05" fill="#a8262c"/>
<circle cx="1005.87" cy="951.1" r="3.05" fill="#a8262c"/>
<circle cx="1011.3" cy="947.4" r="3.05" fill="#a8262c"/>
<circle cx="1016.72" cy="968.6" r="3.05" fill="#a8262c"/>
<circle cx="1022.15" cy="971.1" r="3.05" fill="#a8262c"/>
<line x1="615.9" y1="662.1" x2="1038.2" y2="662.1" stroke="#222" stroke-width="1.1" stroke-dasharray="4.2 3.4"/>
<line x1="826.4" y1="558.3" x2="826.4" y2="981.7" stroke="#222" stroke-width="1.1" stroke-dasharray="4.2 3.4"/>
<rect x="615.9" y="558.3" width="422.3" height="423.4" fill="none" stroke="#333" stroke-width="1.4"/>
<line x1="615.9" y1="769.7" x2="1038.2" y2="769.7" stroke="#222" stroke-width="1.5" />
<text font-size="12.48" transform="translate(598.4 754.8) rotate(-90) scale(0.962 1)" text-anchor="middle" fill="#333" stroke="#333" stroke-width="0.3">10</text>
<text font-size="12.48" transform="translate(598.4 717.6) rotate(-90) scale(0.962 1)" text-anchor="middle" fill="#333" stroke="#333" stroke-width="0.3">11</text>
<text font-size="12.48" transform="translate(598.4 680.4) rotate(-90) scale(0.962 1)" text-anchor="middle" fill="#333" stroke="#333" stroke-width="0.3">12</text>
<text font-size="12.48" transform="translate(598.4 643.2) rotate(-90) scale(0.962 1)" text-anchor="middle" fill="#333" stroke="#333" stroke-width="0.3">13</text>
<text font-size="12.48" transform="translate(598.4 606) rotate(-90) scale(0.962 1)" text-anchor="middle" fill="#333" stroke="#333" stroke-width="0.3">14</text>
<text font-size="12.48" transform="translate(598.4 568.8) rotate(-90) scale(0.962 1)" text-anchor="middle" fill="#333" stroke="#333" stroke-width="0.3">15</text>
<text font-size="12.48" transform="translate(598.4 976.7) rotate(-90) scale(0.962 1)" text-anchor="middle" fill="#333" stroke="#333" stroke-width="0.3">0</text>
<text font-size="12.48" transform="translate(598.4 922.5) rotate(-90) scale(0.962 1)" text-anchor="middle" fill="#333" stroke="#333" stroke-width="0.3">2</text>
<text font-size="12.48" transform="translate(598.4 868.3) rotate(-90) scale(0.962 1)" text-anchor="middle" fill="#333" stroke="#333" stroke-width="0.3">4</text>
<text font-size="12.48" transform="translate(598.4 814.1) rotate(-90) scale(0.962 1)" text-anchor="middle" fill="#333" stroke="#333" stroke-width="0.3">6</text>
<text font-size="12.48" transform="translate(626 1005.5) scale(0.962 1)" text-anchor="middle" fill="#333" stroke="#333" stroke-width="0.3">0</text>
<text font-size="12.48" transform="translate(680.27 1005.5) scale(0.962 1)" text-anchor="middle" fill="#333" stroke="#333" stroke-width="0.3">10</text>
<text font-size="12.48" transform="translate(734.53 1005.5) scale(0.962 1)" text-anchor="middle" fill="#333" stroke="#333" stroke-width="0.3">20</text>
<text font-size="12.48" transform="translate(788.8 1005.5) scale(0.962 1)" text-anchor="middle" fill="#333" stroke="#333" stroke-width="0.3">30</text>
<text font-size="12.48" transform="translate(843.07 1005.5) scale(0.962 1)" text-anchor="middle" fill="#333" stroke="#333" stroke-width="0.3">40</text>
<text font-size="12.48" transform="translate(897.34 1005.5) scale(0.962 1)" text-anchor="middle" fill="#333" stroke="#333" stroke-width="0.3">50</text>
<text font-size="12.48" transform="translate(951.6 1005.5) scale(0.962 1)" text-anchor="middle" fill="#333" stroke="#333" stroke-width="0.3">60</text>
<text font-size="12.48" transform="translate(1005.87 1005.5) scale(0.962 1)" text-anchor="middle" fill="#333" stroke="#333" stroke-width="0.3">70</text>
<path d="M615.9 754.8h-7M615.9 717.6h-7M615.9 680.4h-7M615.9 643.2h-7M615.9 606h-7M615.9 568.8h-7M615.9 976.7h-7M615.9 922.5h-7M615.9 868.3h-7M615.9 814.1h-7M626 981.7v7M680.27 981.7v7M734.53 981.7v7M788.8 981.7v7M843.07 981.7v7M897.34 981.7v7M951.6 981.7v7M1005.87 981.7v7" fill="none" stroke="#333" stroke-width="1.35" />
<text font-size="12.06" transform="translate(569.95 664) rotate(-90) scale(0.921 1)" text-anchor="middle" fill="#333" stroke="#333" stroke-width="0.3">Risk Score</text>
<text font-size="12.06" transform="translate(569.95 875.5) rotate(-90) scale(0.925 1)" text-anchor="middle" fill="#333" stroke="#333" stroke-width="0.3">Survival time (years)</text>
<text font-size="12.06" transform="translate(827.3 1031.15) scale(0.960 1)" text-anchor="middle" fill="#333" stroke="#333" stroke-width="0.3">Patients (increasing risk socre)</text>
</g>
<g id="panel-f">
<text font-size="70.51" transform="translate(1068.2 560.1) scale(0.975 1)" fill="#000" stroke="#000" stroke-width="0.5">F</text>
<rect x="1087" y="577.6" width="180.89" height="22.9" fill="#4a76b4"/>
<rect x="1267.89" y="577.6" width="176.01" height="22.9" fill="#ae2527"/>
<text font-size="24.75" transform="translate(1451.5 594.14) scale(0.962 1)" font-weight="bold" fill="#111" stroke="#111" stroke-width="0.3">type</text>
<rect x="1087" y="609.1" width="4.94" height="73.11" fill="#bccde4"/>
<rect x="1091.89" y="609.1" width="4.94" height="73.11" fill="#cfdbec"/>
<rect x="1101.67" y="609.1" width="4.94" height="73.11" fill="#fdf9f9"/>
<rect x="1106.56" y="609.1" width="4.94" height="73.11" fill="#d3deed"/>
<rect x="1111.45" y="609.1" width="4.94" height="73.11" fill="#f7f9fc"/>
<rect x="1116.33" y="609.1" width="4.94" height="73.11" fill="#b9cbe3"/>
<rect x="1121.22" y="609.1" width="4.94" height="73.11" fill="#d3deed"/>
<rect x="1126.11" y="609.1" width="4.94" height="73.11" fill="#dfe7f2"/>
<rect x="1131" y="609.1" width="4.94" height="73.11" fill="#f5e2e3"/>
<rect x="1135.89" y="609.1" width="4.94" height="73.11" fill="#dbe4f0"/>
<rect x="1140.78" y="609.1" width="4.94" height="73.11" fill="#cfdbec"/>
<rect x="1145.67" y="609.1" width="4.94" height="73.11" fill="#f7f9fc"/>
<rect x="1150.56" y="609.1" width="4.94" height="73.11" fill="#c0d0e6"/>
<rect x="1155.45" y="609.1" width="4.94" height="73.11" fill="#e3eaf4"/>
<rect x="1160.34" y="609.1" width="4.94" height="73.11" fill="#f7f9fc"/>
<rect x="1165.22" y="609.1" width="4.94" height="73.11" fill="#cfdbec"/>
<rect x="1170.11" y="609.1" width="4.94" height="73.11" fill="#edf1f8"/>
<rect x="1179.89" y="609.1" width="4.94" height="73.11" fill="#fefcfc"/>
<rect x="1189.67" y="609.1" width="4.94" height="73.11" fill="#e8eef6"/>
<rect x="1194.56" y="609.1" width="4.94" height="73.11" fill="#cbd8ea"/>
<rect x="1199.45" y="609.1" width="4.94" height="73.11" fill="#edf1f8"/>
<rect x="1204.34" y="609.1" width="4.94" height="73.11" fill="#d7e1ef"/>
<rect x="1219" y="609.1" width="4.94" height="73.11" fill="#cfdbec"/>
<rect x="1223.89" y="609.1" width="4.94" height="73.11" fill="#e3eaf4"/>
<rect x="1228.78" y="609.1" width="4.94" height="73.11" fill="#d7e1ef"/>
<rect x="1233.67" y="609.1" width="4.94" height="73.11" fill="#edf1f8"/>
<rect x="1238.56" y="609.1" width="4.94" height="73.11" fill="#edf1f8"/>
<rect x="1243.45" y="609.1" width="4.94" height="73.11" fill="#e3eaf4"/>
<rect x="1248.34" y="609.1" width="4.94" height="73.11" fill="#f2f5fa"/>
<rect x="1258.12" y="609.1" width="4.94" height="73.11" fill="#fdf9f9"/>
<rect x="1263.01" y="609.1" width="4.94" height="73.11" fill="#fcf5f5"/>
<rect x="1267.89" y="609.1" width="4.94" height="73.11" fill="#edf1f8"/>
<rect x="1272.78" y="609.1" width="4.94" height="73.11" fill="#dfe7f2"/>
<rect x="1277.67" y="609.1" width="4.94" height="73.11" fill="#f5e2e3"/>
<rect x="1287.45" y="609.1" width="4.94" height="73.11" fill="#e8eef6"/>
<rect x="1292.34" y="609.1" width="4.94" height="73.11" fill="#e8eef6"/>
<rect x="1297.23" y="609.1" width="4.94" height="73.11" fill="#e3eaf4"/>
<rect x="1302.12" y="609.1" width="4.94" height="73.11" fill="#e8eef6"/>
<rect x="1307.01" y="609.1" width="4.94" height="73.11" fill="#f2dbdb"/>
<rect x="1316.78" y="609.1" width="4.94" height="73.11" fill="#e7babb"/>
<rect x="1326.56" y="609.1" width="4.94" height="73.11" fill="#f9eeee"/>
<rect x="1331.45" y="609.1" width="4.94" height="73.11" fill="#cfdbec"/>
<rect x="1336.34" y="609.1" width="4.94" height="73.11" fill="#f7f9fc"/>
<rect x="1341.23" y="609.1" width="4.94" height="73.11" fill="#f5e2e3"/>
<rect x="1346.12" y="609.1" width="4.94" height="73.11" fill="#f5e2e3"/>
<rect x="1351.01" y="609.1" width="4.94" height="73.11" fill="#f8eaea"/>
<rect x="1355.9" y="609.1" width="4.94" height="73.11" fill="#eecfcf"/>
<rect x="1360.79" y="609.1" width="4.94" height="73.11" fill="#f8eaea"/>
<rect x="1365.68" y="609.1" width="4.94" height="73.11" fill="#fefcfc"/>
<rect x="1380.34" y="609.1" width="4.94" height="73.11" fill="#faf1f2"/>
<rect x="1385.23" y="609.1" width="4.94" height="73.11" fill="#e8bebf"/>
<rect x="1390.12" y="609.1" width="4.94" height="73.11" fill="#f2f5fa"/>
<rect x="1395.01" y="609.1" width="4.94" height="73.11" fill="#ebc6c7"/>
<rect x="1399.9" y="609.1" width="4.94" height="73.11" fill="#e4b2b3"/>
<rect x="1409.68" y="609.1" width="4.94" height="73.11" fill="#fcf5f5"/>
<rect x="1414.57" y="609.1" width="4.94" height="73.11" fill="#fefcfc"/>
<rect x="1419.45" y="609.1" width="4.94" height="73.11" fill="#e4b2b3"/>
<rect x="1424.34" y="609.1" width="4.94" height="73.11" fill="#e7babb"/>
<rect x="1429.23" y="609.1" width="4.94" height="73.11" fill="#e8bebf"/>
<rect x="1434.12" y="609.1" width="4.94" height="73.11" fill="#d89092"/>
<rect x="1439.01" y="609.1" width="4.94" height="73.11" fill="#db999a"/>
<text font-size="27.56" transform="translate(1451.5 651.92) scale(0.962 1)" fill="#222" stroke="#222" stroke-width="0.3">TGM2</text>
<rect x="1087" y="682.16" width="4.94" height="73.11" fill="#a1b9d9"/>
<rect x="1091.89" y="682.16" width="4.94" height="73.11" fill="#abc1dd"/>
<rect x="1096.78" y="682.16" width="4.94" height="73.11" fill="#c3d3e7"/>
<rect x="1101.67" y="682.16" width="4.94" height="73.11" fill="#e8eef6"/>
<rect x="1106.56" y="682.16" width="4.94" height="73.11" fill="#f7f9fc"/>
<rect x="1111.45" y="682.16" width="4.94" height="73.11" fill="#bccde4"/>
<rect x="1116.33" y="682.16" width="4.94" height="73.11" fill="#b9cbe3"/>
<rect x="1121.22" y="682.16" width="4.94" height="73.11" fill="#edf1f8"/>
<rect x="1126.11" y="682.16" width="4.94" height="73.11" fill="#cbd8ea"/>
<rect x="1131" y="682.16" width="4.94" height="73.11" fill="#f2f5fa"/>
<rect x="1135.89" y="682.16" width="4.94" height="73.11" fill="#fdf9f9"/>
<rect x="1140.78" y="682.16" width="4.94" height="73.11" fill="#f5e2e3"/>
<rect x="1145.67" y="682.16" width="4.94" height="73.11" fill="#fefcfc"/>
<rect x="1150.56" y="682.16" width="4.94" height="73.11" fill="#fcf5f5"/>
<rect x="1155.45" y="682.16" width="4.94" height="73.11" fill="#edf1f8"/>
<rect x="1160.34" y="682.16" width="4.94" height="73.11" fill="#fefcfc"/>
<rect x="1165.22" y="682.16" width="4.94" height="73.11" fill="#f6e6e7"/>
<rect x="1170.11" y="682.16" width="4.94" height="73.11" fill="#f7f9fc"/>
<rect x="1175" y="682.16" width="4.94" height="73.11" fill="#edf1f8"/>
<rect x="1179.89" y="682.16" width="4.94" height="73.11" fill="#edf1f8"/>
<rect x="1184.78" y="682.16" width="4.94" height="73.11" fill="#f0d3d3"/>
<rect x="1189.67" y="682.16" width="4.94" height="73.11" fill="#f2f5fa"/>
<rect x="1194.56" y="682.16" width="4.94" height="73.11" fill="#edcbcb"/>
<rect x="1199.45" y="682.16" width="4.94" height="73.11" fill="#f4dedf"/>
<rect x="1204.34" y="682.16" width="4.94" height="73.11" fill="#d7e1ef"/>
<rect x="1209.23" y="682.16" width="4.94" height="73.11" fill="#d3deed"/>
<rect x="1214.12" y="682.16" width="4.94" height="73.11" fill="#e3eaf4"/>
<rect x="1219" y="682.16" width="4.94" height="73.11" fill="#ebc6c7"/>
<rect x="1223.89" y="682.16" width="4.94" height="73.11" fill="#fdf9f9"/>
<rect x="1228.78" y="682.16" width="4.94" height="73.11" fill="#f0d3d3"/>
<rect x="1233.67" y="682.16" width="4.94" height="73.11" fill="#f6e6e7"/>
<rect x="1238.56" y="682.16" width="4.94" height="73.11" fill="#dbe4f0"/>
<rect x="1243.45" y="682.16" width="4.94" height="73.11" fill="#cfdbec"/>
<rect x="1253.23" y="682.16" width="4.94" height="73.11" fill="#f1d7d7"/>
<rect x="1258.12" y="682.16" width="4.94" height="73.11" fill="#e8eef6"/>
<rect x="1263.01" y="682.16" width="4.94" height="73.11" fill="#d7e1ef"/>
<rect x="1267.89" y="682.16" width="4.94" height="73.11" fill="#f9eeee"/>
<rect x="1272.78" y="682.16" width="4.94" height="73.11" fill="#f8eaea"/>
<rect x="1277.67" y="682.16" width="4.94" height="73.11" fill="#e8eef6"/>
<rect x="1287.45" y="682.16" width="4.94" height="73.11" fill="#f7f9fc"/>
<rect x="1292.34" y="682.16" width="4.94" height="73.11" fill="#e3eaf4"/>
<rect x="1297.23" y="682.16" width="4.94" height="73.11" fill="#cfdbec"/>
<rect x="1307.01" y="682.16" width="4.94" height="73.11" fill="#f7f9fc"/>
<rect x="1311.9" y="682.16" width="4.94" height="73.11" fill="#f2dbdb"/>
<rect x="1316.78" y="682.16" width="4.94" height="73.11" fill="#fefcfc"/>
<rect x="1321.67" y="682.16" width="4.94" height="73.11" fill="#f0d3d3"/>
<rect x="1326.56" y="682.16" width="4.94" height="73.11" fill="#ebc6c7"/>
<rect x="1331.45" y="682.16" width="4.94" height="73.11" fill="#da9496"/>
<rect x="1336.34" y="682.16" width="4.94" height="73.11" fill="#cfdbec"/>
<rect x="1341.23" y="682.16" width="4.94" height="73.11" fill="#dfe7f2"/>
<rect x="1346.12" y="682.16" width="4.94" height="73.11" fill="#f5e2e3"/>
<rect x="1351.01" y="682.16" width="4.94" height="73.11" fill="#f9eeee"/>
<rect x="1355.9" y="682.16" width="4.94" height="73.11" fill="#faf1f2"/>
<rect x="1365.68" y="682.16" width="4.94" height="73.11" fill="#cbd8ea"/>
<rect x="1370.56" y="682.16" width="4.94" height="73.11" fill="#fcf5f5"/>
<rect x="1375.45" y="682.16" width="4.94" height="73.11" fill="#dbe4f0"/>
<rect x="1380.34" y="682.16" width="4.94" height="73.11" fill="#f2dbdb"/>
<rect x="1385.23" y="682.16" width="4.94" height="73.11" fill="#f5e2e3"/>
<rect x="1390.12" y="682.16" width="4.94" height="73.11" fill="#f6e6e7"/>
<rect x="1395.01" y="682.16" width="4.94" height="73.11" fill="#faf1f2"/>
<rect x="1399.9" y="682.16" width="4.94" height="73.11" fill="#f4dedf"/>
<rect x="1404.79" y="682.16" width="4.94" height="73.11" fill="#faf1f2"/>
<rect x="1409.68" y="682.16" width="4.94" height="73.11" fill="#edcbcb"/>
<rect x="1414.57" y="682.16" width="4.94" height="73.11" fill="#eac2c3"/>
<rect x="1424.34" y="682.16" width="4.94" height="73.11" fill="#e1a9ab"/>
<rect x="1434.12" y="682.16" width="4.94" height="73.11" fill="#fefcfc"/>
<text font-size="27.56" transform="translate(1451.5 724.98) scale(0.962 1)" fill="#222" stroke="#222" stroke-width="0.3">FAM3C</text>
<rect x="1087" y="755.22" width="4.94" height="73.11" fill="#c0d0e6"/>
<rect x="1091.89" y="755.22" width="4.94" height="73.11" fill="#c7d6e8"/>
<rect x="1096.78" y="755.22" width="4.94" height="73.11" fill="#a4bcda"/>
<rect x="1101.67" y="755.22" width="4.94" height="73.11" fill="#8ba9d0"/>
<rect x="1106.56" y="755.22" width="4.94" height="73.11" fill="#f2f5fa"/>
<rect x="1111.45" y="755.22" width="4.94" height="73.11" fill="#f7f9fc"/>
<rect x="1116.33" y="755.22" width="4.94" height="73.11" fill="#e7babb"/>
<rect x="1126.11" y="755.22" width="4.94" height="73.11" fill="#fefcfc"/>
<rect x="1131" y="755.22" width="4.94" height="73.11" fill="#e1a9ab"/>
<rect x="1135.89" y="755.22" width="4.94" height="73.11" fill="#edf1f8"/>
<rect x="1145.67" y="755.22" width="4.94" height="73.11" fill="#f7f9fc"/>
<rect x="1155.45" y="755.22" width="4.94" height="73.11" fill="#cbd8ea"/>
<rect x="1160.34" y="755.22" width="4.94" height="73.11" fill="#cfdbec"/>
<rect x="1165.22" y="755.22" width="4.94" height="73.11" fill="#d3deed"/>
<rect x="1170.11" y="755.22" width="4.94" height="73.11" fill="#e3eaf4"/>
<rect x="1179.89" y="755.22" width="4.94" height="73.11" fill="#c7d6e8"/>
<rect x="1189.67" y="755.22" width="4.94" height="73.11" fill="#fefcfc"/>
<rect x="1194.56" y="755.22" width="4.94" height="73.11" fill="#fefcfc"/>
<rect x="1199.45" y="755.22" width="4.94" height="73.11" fill="#d7e1ef"/>
<rect x="1204.34" y="755.22" width="4.94" height="73.11" fill="#f2dbdb"/>
<rect x="1209.23" y="755.22" width="4.94" height="73.11" fill="#f9eeee"/>
<rect x="1214.12" y="755.22" width="4.94" height="73.11" fill="#faf1f2"/>
<rect x="1223.89" y="755.22" width="4.94" height="73.11" fill="#fcf5f5"/>
<rect x="1233.67" y="755.22" width="4.94" height="73.11" fill="#f9eeee"/>
<rect x="1248.34" y="755.22" width="4.94" height="73.11" fill="#dfe7f2"/>
<rect x="1253.23" y="755.22" width="4.94" height="73.11" fill="#dfe7f2"/>
<rect x="1258.12" y="755.22" width="4.94" height="73.11" fill="#f6e6e7"/>
<rect x="1263.01" y="755.22" width="4.94" height="73.11" fill="#fcf5f5"/>
<rect x="1267.89" y="755.22" width="4.94" height="73.11" fill="#f5e2e3"/>
<rect x="1277.67" y="755.22" width="4.94" height="73.11" fill="#e8eef6"/>
<rect x="1292.34" y="755.22" width="4.94" height="73.11" fill="#f5e2e3"/>
<rect x="1297.23" y="755.22" width="4.94" height="73.11" fill="#eac2c3"/>
<rect x="1307.01" y="755.22" width="4.94" height="73.11" fill="#fefcfc"/>
<rect x="1311.9" y="755.22" width="4.94" height="73.11" fill="#fefcfc"/>
<rect x="1316.78" y="755.22" width="4.94" height="73.11" fill="#edf1f8"/>
<rect x="1326.56" y="755.22" width="4.94" height="73.11" fill="#dbe4f0"/>
<rect x="1331.45" y="755.22" width="4.94" height="73.11" fill="#d7e1ef"/>
<rect x="1336.34" y="755.22" width="4.94" height="73.11" fill="#e1a9ab"/>
<rect x="1341.23" y="755.22" width="4.94" height="73.11" fill="#fefcfc"/>
<rect x="1351.01" y="755.22" width="4.94" height="73.11" fill="#faf1f2"/>
<rect x="1360.79" y="755.22" width="4.94" height="73.11" fill="#eac2c3"/>
<rect x="1365.68" y="755.22" width="4.94" height="73.11" fill="#faf1f2"/>
<rect x="1370.56" y="755.22" width="4.94" height="73.11" fill="#f7f9fc"/>
<rect x="1375.45" y="755.22" width="4.94" height="73.11" fill="#fefcfc"/>
<rect x="1380.34" y="755.22" width="4.94" height="73.11" fill="#f9eeee"/>
<rect x="1385.23" y="755.22" width="4.94" height="73.11" fill="#dfe7f2"/>
<rect x="1390.12" y="755.22" width="4.94" height="73.11" fill="#f5e2e3"/>
<rect x="1395.01" y="755.22" width="4.94" height="73.11" fill="#faf1f2"/>
<rect x="1399.9" y="755.22" width="4.94" height="73.11" fill="#f9eeee"/>
<rect x="1404.79" y="755.22" width="4.94" height="73.11" fill="#f6e6e7"/>
<rect x="1409.68" y="755.22" width="4.94" height="73.11" fill="#dbe4f0"/>
<rect x="1414.57" y="755.22" width="4.94" height="73.11" fill="#e8eef6"/>
<rect x="1424.34" y="755.22" width="4.94" height="73.11" fill="#f4dedf"/>
<rect x="1429.23" y="755.22" width="4.94" height="73.11" fill="#e0a5a7"/>
<rect x="1434.12" y="755.22" width="4.94" height="73.11" fill="#faf1f2"/>
<rect x="1439.01" y="755.22" width="4.94" height="73.11" fill="#e6b6b7"/>
<text font-size="27.56" transform="translate(1451.5 798.04) scale(0.962 1)" fill="#222" stroke="#222" stroke-width="0.3">MARVELD1</text>
<rect x="1087" y="828.28" width="4.94" height="73.11" fill="#d3deed"/>
<rect x="1091.89" y="828.28" width="4.94" height="73.11" fill="#cbd8ea"/>
<rect x="1096.78" y="828.28" width="4.94" height="73.11" fill="#d7e1ef"/>
<rect x="1101.67" y="828.28" width="4.94" height="73.11" fill="#c3d3e7"/>
<rect x="1106.56" y="828.28" width="4.94" height="73.11" fill="#c3d3e7"/>
<rect x="1111.45" y="828.28" width="4.94" height="73.11" fill="#e8eef6"/>
<rect x="1116.33" y="828.28" width="4.94" height="73.11" fill="#dfe7f2"/>
<rect x="1121.22" y="828.28" width="4.94" height="73.11" fill="#e8eef6"/>
<rect x="1131" y="828.28" width="4.94" height="73.11" fill="#faf1f2"/>
<rect x="1135.89" y="828.28" width="4.94" height="73.11" fill="#cbd8ea"/>
<rect x="1140.78" y="828.28" width="4.94" height="73.11" fill="#c3d3e7"/>
<rect x="1145.67" y="828.28" width="4.94" height="73.11" fill="#c7d6e8"/>
<rect x="1150.56" y="828.28" width="4.94" height="73.11" fill="#d7e1ef"/>
<rect x="1155.45" y="828.28" width="4.94" height="73.11" fill="#f8eaea"/>
<rect x="1165.22" y="828.28" width="4.94" height="73.11" fill="#f6e6e7"/>
<rect x="1170.11" y="828.28" width="4.94" height="73.11" fill="#dfe7f2"/>
<rect x="1175" y="828.28" width="4.94" height="73.11" fill="#d3deed"/>
<rect x="1179.89" y="828.28" width="4.94" height="73.11" fill="#f7f9fc"/>
<rect x="1184.78" y="828.28" width="4.94" height="73.11" fill="#cbd8ea"/>
<rect x="1189.67" y="828.28" width="4.94" height="73.11" fill="#e3eaf4"/>
<rect x="1194.56" y="828.28" width="4.94" height="73.11" fill="#fefcfc"/>
<rect x="1199.45" y="828.28" width="4.94" height="73.11" fill="#fefcfc"/>
<rect x="1204.34" y="828.28" width="4.94" height="73.11" fill="#fcf5f5"/>
<rect x="1209.23" y="828.28" width="4.94" height="73.11" fill="#fdf9f9"/>
<rect x="1214.12" y="828.28" width="4.94" height="73.11" fill="#fdf9f9"/>
<rect x="1219" y="828.28" width="4.94" height="73.11" fill="#f7f9fc"/>
<rect x="1223.89" y="828.28" width="4.94" height="73.11" fill="#d7e1ef"/>
<rect x="1228.78" y="828.28" width="4.94" height="73.11" fill="#f5e2e3"/>
<rect x="1233.67" y="828.28" width="4.94" height="73.11" fill="#b9cbe3"/>
<rect x="1238.56" y="828.28" width="4.94" height="73.11" fill="#f7f9fc"/>
<rect x="1243.45" y="828.28" width="4.94" height="73.11" fill="#fdf9f9"/>
<rect x="1258.12" y="828.28" width="4.94" height="73.11" fill="#fdf9f9"/>
<rect x="1263.01" y="828.28" width="4.94" height="73.11" fill="#fcf5f5"/>
<rect x="1267.89" y="828.28" width="4.94" height="73.11" fill="#cfdbec"/>
<rect x="1272.78" y="828.28" width="4.94" height="73.11" fill="#f7f9fc"/>
<rect x="1277.67" y="828.28" width="4.94" height="73.11" fill="#f2f5fa"/>
<rect x="1282.56" y="828.28" width="4.94" height="73.11" fill="#cbd8ea"/>
<rect x="1292.34" y="828.28" width="4.94" height="73.11" fill="#f7f9fc"/>
<rect x="1297.23" y="828.28" width="4.94" height="73.11" fill="#f7f9fc"/>
<rect x="1302.12" y="828.28" width="4.94" height="73.11" fill="#f1d7d7"/>
<rect x="1307.01" y="828.28" width="4.94" height="73.11" fill="#edf1f8"/>
<rect x="1311.9" y="828.28" width="4.94" height="73.11" fill="#f2f5fa"/>
<rect x="1331.45" y="828.28" width="4.94" height="73.11" fill="#e8eef6"/>
<rect x="1341.23" y="828.28" width="4.94" height="73.11" fill="#e8bebf"/>
<rect x="1365.68" y="828.28" width="4.94" height="73.11" fill="#f1d7d7"/>
<rect x="1370.56" y="828.28" width="4.94" height="73.11" fill="#f2dbdb"/>
<rect x="1375.45" y="828.28" width="4.94" height="73.11" fill="#f4dedf"/>
<rect x="1380.34" y="828.28" width="4.94" height="73.11" fill="#f9eeee"/>
<rect x="1385.23" y="828.28" width="4.94" height="73.11" fill="#f2f5fa"/>
<rect x="1390.12" y="828.28" width="4.94" height="73.11" fill="#e8bebf"/>
<rect x="1395.01" y="828.28" width="4.94" height="73.11" fill="#f5e2e3"/>
<rect x="1399.9" y="828.28" width="4.94" height="73.11" fill="#fdf9f9"/>
<rect x="1404.79" y="828.28" width="4.94" height="73.11" fill="#eac2c3"/>
<rect x="1409.68" y="828.28" width="4.94" height="73.11" fill="#cc6d70"/>
<rect x="1414.57" y="828.28" width="4.94" height="73.11" fill="#edcbcb"/>
<rect x="1419.45" y="828.28" width="4.94" height="73.11" fill="#f4dedf"/>
<rect x="1424.34" y="828.28" width="4.94" height="73.11" fill="#faf1f2"/>
<rect x="1429.23" y="828.28" width="4.94" height="73.11" fill="#f1d7d7"/>
<rect x="1434.12" y="828.28" width="4.94" height="73.11" fill="#f9eeee"/>
<rect x="1439.01" y="828.28" width="4.94" height="73.11" fill="#e4b2b3"/>
<text font-size="27.56" transform="translate(1451.5 871.1) scale(0.962 1)" fill="#222" stroke="#222" stroke-width="0.3">GJB2</text>
<rect x="1087" y="901.34" width="4.94" height="73.11" fill="#faf1f2"/>
<rect x="1091.89" y="901.34" width="4.94" height="73.11" fill="#f1d7d7"/>
<rect x="1096.78" y="901.34" width="4.94" height="73.11" fill="#f0d3d3"/>
<rect x="1101.67" y="901.34" width="4.94" height="73.11" fill="#faf1f2"/>
<rect x="1106.56" y="901.34" width="4.94" height="73.11" fill="#e8bebf"/>
<rect x="1111.45" y="901.34" width="4.94" height="73.11" fill="#eecfcf"/>
<rect x="1116.33" y="901.34" width="4.94" height="73.11" fill="#eac2c3"/>
<rect x="1121.22" y="901.34" width="4.94" height="73.11" fill="#f6e6e7"/>
<rect x="1126.11" y="901.34" width="4.94" height="73.11" fill="#f6e6e7"/>
<rect x="1131" y="901.34" width="4.94" height="73.11" fill="#b22226"/>
<rect x="1140.78" y="901.34" width="4.94" height="73.11" fill="#fefcfc"/>
<rect x="1145.67" y="901.34" width="4.94" height="73.11" fill="#f7f9fc"/>
<rect x="1150.56" y="901.34" width="4.94" height="73.11" fill="#f7f9fc"/>
<rect x="1155.45" y="901.34" width="4.94" height="73.11" fill="#f7f9fc"/>
<rect x="1160.34" y="901.34" width="4.94" height="73.11" fill="#f8eaea"/>
<rect x="1165.22" y="901.34" width="4.94" height="73.11" fill="#f5e2e3"/>
<rect x="1170.11" y="901.34" width="4.94" height="73.11" fill="#f7f9fc"/>
<rect x="1175" y="901.34" width="4.94" height="73.11" fill="#f7f9fc"/>
<rect x="1179.89" y="901.34" width="4.94" height="73.11" fill="#d3deed"/>
<rect x="1184.78" y="901.34" width="4.94" height="73.11" fill="#fefcfc"/>
<rect x="1189.67" y="901.34" width="4.94" height="73.11" fill="#f7f9fc"/>
<rect x="1194.56" y="901.34" width="4.94" height="73.11" fill="#f0d3d3"/>
<rect x="1204.34" y="901.34" width="4.94" height="73.11" fill="#f4dedf"/>
<rect x="1209.23" y="901.34" width="4.94" height="73.11" fill="#f7f9fc"/>
<rect x="1214.12" y="901.34" width="4.94" height="73.11" fill="#f4dedf"/>
<rect x="1219" y="901.34" width="4.94" height="73.11" fill="#f5e2e3"/>
<rect x="1228.78" y="901.34" width="4.94" height="73.11" fill="#f9eeee"/>
<rect x="1233.67" y="901.34" width="4.94" height="73.11" fill="#dfe7f2"/>
<rect x="1238.56" y="901.34" width="4.94" height="73.11" fill="#d3deed"/>
<rect x="1243.45" y="901.34" width="4.94" height="73.11" fill="#d3deed"/>
<rect x="1248.34" y="901.34" width="4.94" height="73.11" fill="#dfe7f2"/>
<rect x="1258.12" y="901.34" width="4.94" height="73.11" fill="#faf1f2"/>
<rect x="1267.89" y="901.34" width="4.94" height="73.11" fill="#e3eaf4"/>
<rect x="1277.67" y="901.34" width="4.94" height="73.11" fill="#d7e1ef"/>
<rect x="1282.56" y="901.34" width="4.94" height="73.11" fill="#d3deed"/>
<rect x="1287.45" y="901.34" width="4.94" height="73.11" fill="#d3deed"/>
<rect x="1292.34" y="901.34" width="4.94" height="73.11" fill="#d3deed"/>
<rect x="1302.12" y="901.34" width="4.94" height="73.11" fill="#fefcfc"/>
<rect x="1331.45" y="901.34" width="4.94" height="73.11" fill="#c3d3e7"/>
<rect x="1336.34" y="901.34" width="4.94" height="73.11" fill="#f7f9fc"/>
<rect x="1365.68" y="901.34" width="4.94" height="73.11" fill="#d3deed"/>
<rect x="1370.56" y="901.34" width="4.94" height="73.11" fill="#edf1f8"/>
<rect x="1375.45" y="901.34" width="4.94" height="73.11" fill="#c0d0e6"/>
<rect x="1380.34" y="901.34" width="4.94" height="73.11" fill="#fefcfc"/>
<rect x="1385.23" y="901.34" width="4.94" height="73.11" fill="#cbd8ea"/>
<rect x="1390.12" y="901.34" width="4.94" height="73.11" fill="#fefcfc"/>
<rect x="1395.01" y="901.34" width="4.94" height="73.11" fill="#f2f5fa"/>
<rect x="1409.68" y="901.34" width="4.94" height="73.11" fill="#fefcfc"/>
<rect x="1419.45" y="901.34" width="4.94" height="73.11" fill="#cfdbec"/>
<rect x="1424.34" y="901.34" width="4.94" height="73.11" fill="#fcf5f5"/>
<rect x="1434.12" y="901.34" width="4.94" height="73.11" fill="#d3deed"/>
<text font-size="27.56" transform="translate(1451.5 944.16) scale(0.962 1)" fill="#222" stroke="#222" stroke-width="0.3">KDM5B</text>
<defs><linearGradient id="cb" x1="0" y1="0" x2="0" y2="1"><stop offset="0" stop-color="#b2262a"/><stop offset="0.494" stop-color="#ffffff"/><stop offset="1" stop-color="#4a78b6"/></linearGradient></defs>
<rect x="1613.2" y="574.3" width="24.1" height="366.4" fill="url(#cb)"/>
<text font-size="24.96" transform="translate(1646.5 628.29) scale(0.962 1)" fill="#222" stroke="#222" stroke-width="0.3">4</text>
<text font-size="24.96" transform="translate(1646.5 696.19) scale(0.962 1)" fill="#222" stroke="#222" stroke-width="0.3">2</text>
<text font-size="24.96" transform="translate(1646.5 763.69) scale(0.962 1)" fill="#222" stroke="#222" stroke-width="0.3">0</text>
<text font-size="24.96" transform="translate(1646.5 831.99) scale(0.962 1)" fill="#222" stroke="#222" stroke-width="0.3">-2</text>
<text font-size="24.96" transform="translate(1646.5 900.29) scale(0.962 1)" fill="#222" stroke="#222" stroke-width="0.3">-4</text>
<text font-size="24.54" transform="translate(1683.8 588.88) scale(0.962 1)" font-weight="bold" fill="#111" stroke="#111" stroke-width="0.3">type</text>
<rect x="1683.5" y="601.6" width="34.2" height="35" fill="#4a76b4"/>
<rect x="1683.5" y="636.6" width="34.2" height="34.2" fill="#ae2527"/>
<text font-size="24.34" transform="translate(1725.6 624.32) scale(0.962 1)" fill="#222" stroke="#222" stroke-width="0.3">low</text>
<text font-size="24.34" transform="translate(1725.6 657.32) scale(0.962 1)" fill="#222" stroke="#222" stroke-width="0.3">high</text>
</g>
<g id="panel-g">
<text font-size="70.51" transform="translate(2 1122.9) scale(0.975 1)" fill="#000" stroke="#000" stroke-width="0.5">G</text>
<text font-size="11.65" transform="translate(276.6 1118.96) scale(0.962 1)" fill="#222" stroke="#222" stroke-width="0.3">risk</text>
<rect x="300.8" y="1106.9" width="16.9" height="18.7" fill="#c6d5ea"/>
<path d="M301.8 1116.5h14.9" fill="none" stroke="#4574b2" stroke-width="2.4" />
<path d="M309.2 1113.6v5.8" fill="none" stroke="#4574b2" stroke-width="1.2" />
<text font-size="11.65" transform="translate(324.8 1118.96) scale(0.962 1)" fill="#222" stroke="#222" stroke-width="0.3">low</text>
<rect x="348" y="1106.9" width="16.9" height="18.7" fill="#e6bcbc"/>
<path d="M349 1116.5h14.9" fill="none" stroke="#b42025" stroke-width="2.4" />
<path d="M356.4 1113.6v5.8" fill="none" stroke="#b42025" stroke-width="1.2" />
<text font-size="11.65" transform="translate(372.5 1118.16) scale(0.962 1)" fill="#222" stroke="#222" stroke-width="0.3">high</text>
<path d="M153 1160.6 L173 1160.6 L173 1164.3 L177 1164.3 L177 1169 L184 1169 L184 1173.8 L189.6 1173.8 L189.6 1178.5 L196.7 1178.5 L196.7 1186.4 L199.9 1186.4 L199.9 1194.3 L203 1194.3 L203 1200.6 L205.4 1200.6 L205.4 1207.7 L206.2 1207.7 L206.2 1221.2 L211.7 1221.2 L211.7 1229.1 L214.1 1229.1 L214.1 1236.2 L227.5 1236.2 L227.5 1244.1 L246.5 1244.1 L246.5 1252.8 L271.8 1252.8 L271.8 1261.5 L275.8 1261.5 L275.8 1282.9 L297.9 1282.9 L297.9 1294 L326.4 1294 L326.4 1305.8 L336.3 1305.8 L336.3 1312.6 L481.7 1312.6 L481.7 1312.6 L481.7 1394 L481.7 1394 L336.8 1394 L336.8 1388.8 L326.7 1388.8 L326.7 1381.7 L297.9 1381.7 L297.9 1372.9 L275.9 1372.9 L275.9 1351.3 L271.6 1351.3 L271.6 1339.2 L246.5 1339.2 L246.5 1329.7 L227.5 1329.7 L227.5 1321.9 L216.2 1321.9 L216.2 1318 L212.2 1318 L212.2 1313 L206.1 1313 L206.1 1304 L203.5 1304 L203.5 1292 L201.8 1292 L201.8 1280 L200 1280 L200 1270 L198.3 1270 L198.3 1262 L197.5 1262 L197.5 1244.3 L190.6 1244.3 L190.6 1235.6 L184.5 1235.6 L184.5 1226.1 L177.6 1226.1 L177.6 1219.2 L174.1 1219.2 L174.1 1208.8 L164.6 1208.8 L164.6 1190 L161.5 1190 L161.5 1178 L156.5 1178 L156.5 1168 L153 1168 L153 1160.6 L153 1160.6" fill="#c6d5ea" stroke="none" stroke-width="0" fill-opacity="1"/>
<path d="M145.4 1160.6 L151 1160.6 L151 1163 L153.4 1163 L153.4 1166 L156 1166 L156 1169 L158.5 1169 L158.5 1172 L161 1172 L161 1175 L164 1175 L164 1178.5 L169 1178.5 L169 1186 L173.3 1186 L173.3 1193.3 L177 1193.3 L177 1200 L180.5 1200 L180.5 1207 L185.4 1207 L185.4 1214.9 L189.7 1214.9 L189.7 1227.8 L190.6 1227.8 L190.6 1238 L192.3 1238 L192.3 1258 L197.5 1258 L197.5 1264 L201.8 1264 L201.8 1270 L204.4 1270 L204.4 1278 L207 1278 L207 1292 L209.3 1292 L209.3 1304.6 L211 1304.6 L211 1313.3 L216.2 1313.3 L216.2 1329.7 L219.7 1329.7 L219.7 1337.5 L238.7 1337.5 L238.7 1343.5 L243.4 1343.5 L243.4 1343.5 L243.4 1392.5 L243.4 1392.5 L221.2 1392.5 L221.2 1391 L218.8 1391 L218.8 1385 L216.5 1385 L216.5 1383 L210.9 1383 L210.9 1371 L210.1 1371 L210.1 1361 L206.2 1361 L206.2 1355 L203.8 1355 L203.8 1350 L199.1 1350 L199.1 1339 L195.9 1339 L195.9 1328 L192 1328 L192 1308 L191.2 1308 L191.2 1306 L185.7 1306 L185.7 1292 L184.9 1292 L184.9 1290 L181.7 1290 L181.7 1282 L180.1 1282 L180.1 1275 L176.2 1275 L176.2 1268 L175.4 1268 L175.4 1266 L170.6 1266 L170.6 1260 L169.8 1260 L169.8 1258 L164.5 1258 L164.5 1236 L164.3 1236 L164.3 1234 L159.6 1234 L159.6 1224 L158 1224 L158 1208 L155.6 1208 L155.6 1199 L153.3 1199 L153.3 1190 L151 1190 L151 1179 L147 1179 L147 1172 L145.4 1172 L145.4 1160.6 L145.4 1160.6" fill="#d88f8f" stroke="none" stroke-width="0" fill-opacity="0.6"/>
<path d="M142.2 1160.6 L153 1160.6 L153 1167.3 L156.5 1167.3 L156.5 1173.4 L161.3 1173.4 L161.3 1180 L161.8 1180 L161.8 1186.8 L174.5 1186.8 L174.5 1194 L177 1194 L177 1200.2 L184.3 1200.2 L184.3 1207.1 L190.8 1207.1 L190.8 1213.5 L197 1213.5 L197 1221.8 L198 1221.8 L198 1229.6 L200 1229.6 L200 1236.5 L201.8 1236.5 L201.8 1244.3 L203.5 1244.3 L203.5 1252.1 L206 1252.1 L206 1259.5 L206.6 1259.5 L206.6 1270.2 L211.5 1270.2 L211.5 1278.7 L215 1278.7 L215 1286.9 L228 1286.9 L228 1296.3 L246.7 1296.3 L246.7 1306.1 L271.9 1306.1 L271.9 1319.3 L276.3 1319.3 L276.3 1345.3 L297.9 1345.3 L297.9 1358.3 L326.7 1358.3 L326.7 1371.1 L336.8 1371.1 L336.8 1384 L481.7 1384 L481.7 1396.7" fill="none" stroke="#4574b2" stroke-width="3" stroke-linejoin="miter"/>
<path d="M142.2 1160.6 L145.4 1160.6 L145.4 1167.4 L150.5 1167.4 L150.5 1174 L152 1174 L152 1180.5 L153.5 1180.5 L153.5 1187 L155.5 1187 L155.5 1193.5 L157.5 1193.5 L157.5 1200 L159.5 1200 L159.5 1206.9 L163.8 1206.9 L163.8 1213 L164.3 1213 L164.3 1219.5 L164.8 1219.5 L164.8 1226 L169.5 1226 L169.5 1233 L175 1233 L175 1240 L179.7 1240 L179.7 1248 L182 1248 L182 1256 L184.5 1256 L184.5 1264 L186.5 1264 L186.5 1272 L190.6 1272 L190.6 1280 L191.2 1280 L191.2 1288 L192.8 1288 L192.8 1296 L195.9 1296 L195.9 1304 L197.5 1304 L197.5 1312 L200.7 1312 L200.7 1320 L203.8 1320 L203.8 1328 L207 1328 L207 1335 L209 1335 L209 1342 L209.8 1342 L209.8 1350 L210.2 1350 L210.2 1358 L210.9 1358 L210.9 1365.1 L217.5 1365.1 L217.5 1373 L219.5 1373 L219.5 1381.7 L239.8 1381.7 L239.8 1389 L243.8 1389 L243.8 1396.2" fill="none" stroke="#b42025" stroke-width="3" stroke-linejoin="miter"/>
<line x1="218.4" y1="1284.4" x2="218.4" y2="1290.9" stroke="#4574b2" stroke-width="1.2" />
<line x1="229.3" y1="1293.8" x2="229.3" y2="1300.3" stroke="#4574b2" stroke-width="1.2" />
<line x1="262.5" y1="1303.4" x2="262.5" y2="1309.9" stroke="#4574b2" stroke-width="1.2" />
<text font-size="13.62" transform="translate(116.3 1400.89) scale(0.916 1)" text-anchor="end" fill="#222" stroke="#222" stroke-width="0.3">0.00</text>
<text font-size="13.62" transform="translate(116.3 1341.89) scale(0.916 1)" text-anchor="end" fill="#222" stroke="#222" stroke-width="0.3">0.25</text>
<text font-size="13.62" transform="translate(116.3 1282.89) scale(0.916 1)" text-anchor="end" fill="#222" stroke="#222" stroke-width="0.3">0.50</text>
<text font-size="13.62" transform="translate(116.3 1223.89) scale(0.916 1)" text-anchor="end" fill="#222" stroke="#222" stroke-width="0.3">0.75</text>
<text font-size="13.62" transform="translate(116.3 1164.89) scale(0.916 1)" text-anchor="end" fill="#222" stroke="#222" stroke-width="0.3">1.00</text>
<text font-size="13.62" transform="translate(141.1 1424.09) scale(0.897 1)" text-anchor="middle" fill="#222" stroke="#222" stroke-width="0.3">0</text>
<text font-size="13.62" transform="translate(187.45 1424.09) scale(0.897 1)" text-anchor="middle" fill="#222" stroke="#222" stroke-width="0.3">1</text>
<text font-size="13.62" transform="translate(233.8 1424.09) scale(0.897 1)" text-anchor="middle" fill="#222" stroke="#222" stroke-width="0.3">2</text>
<text font-size="13.62" transform="translate(280.15 1424.09) scale(0.897 1)" text-anchor="middle" fill="#222" stroke="#222" stroke-width="0.3">3</text>
<text font-size="13.62" transform="translate(326.5 1424.09) scale(0.897 1)" text-anchor="middle" fill="#222" stroke="#222" stroke-width="0.3">4</text>
<text font-size="13.62" transform="translate(372.85 1424.09) scale(0.897 1)" text-anchor="middle" fill="#222" stroke="#222" stroke-width="0.3">5</text>
<text font-size="13.62" transform="translate(419.2 1424.09) scale(0.897 1)" text-anchor="middle" fill="#222" stroke="#222" stroke-width="0.3">6</text>
<text font-size="13.62" transform="translate(465.55 1424.09) scale(0.897 1)" text-anchor="middle" fill="#222" stroke="#222" stroke-width="0.3">7</text>
<text font-size="13.62" transform="translate(511.9 1424.09) scale(0.897 1)" text-anchor="middle" fill="#222" stroke="#222" stroke-width="0.3">8</text>
<path d="M121.7 1149.5V1408.2H547.5M121.7 1396.2h-3.5M121.7 1337.2h-3.5M121.7 1278.2h-3.5M121.7 1219.2h-3.5M121.7 1160.2h-3.5M141.1 1408.2v3.5M187.45 1408.2v3.5M233.8 1408.2v3.5M280.15 1408.2v3.5M326.5 1408.2v3.5M372.85 1408.2v3.5M419.2 1408.2v3.5M465.55 1408.2v3.5M511.9 1408.2v3.5" fill="none" stroke="#333" stroke-width="1.1" />
<text font-size="15.81" transform="translate(290.8 1440.96) scale(0.928 1)" fill="#222" stroke="#222" stroke-width="0.3">Time in years</text>
<text font-size="15.18" transform="translate(82.23 1350.8) rotate(-90) scale(1.048 1)" fill="#222" stroke="#222" stroke-width="0.3">Survival</text>
<text font-size="15.18" transform="translate(82.23 1283.6) rotate(-90) scale(1.110 1)" fill="#222" stroke="#222" stroke-width="0.3">probability</text>
<text font-size="16.64" transform="translate(148.8 1351.7) scale(0.908 1)" fill="#222" stroke="#222" stroke-width="0.3">p &lt; 0.0001</text>
</g>
<g id="panel-h">
<text font-size="70.51" transform="translate(524.3 1123) scale(0.975 1)" fill="#000" stroke="#000" stroke-width="0.5">H</text>
<line x1="645.1" y1="1420.3" x2="1029.6" y2="1097.9" stroke="#111" stroke-width="1.7" stroke-dasharray="7.5 5.2"/>
<path d="M659.4 1408.8 L659.4 1384.61 L668.81 1384.61 L668.81 1290.61 L686.19 1290.61 L686.19 1275.71 L704.08 1275.71 L704.08 1249.35 L712.45 1249.35 L712.45 1236.66 L729.84 1236.66 L729.84 1224.32 L738.5 1224.32 L738.5 1212.47 L797.07 1212.47 L797.07 1187.24 L805.59 1187.24 L805.59 1174.1 L813.96 1174.1 L813.96 1161.92 L822.66 1161.92 L822.66 1135.85 L855.54 1135.85 L855.54 1123.52 L938.49 1123.52 L938.49 1110.2 L1015.7 1110.2" fill="none" stroke="#7add3a" stroke-width="2" stroke-linejoin="miter"/>
<path d="M659.4 1408.8 L659.4 1247.71 L690.65 1247.71 L690.65 1234.27 L721.47 1234.27 L721.47 1174.58 L752.25 1174.58 L752.25 1162.4 L782.61 1162.4 L782.61 1142.15 L843.25 1142.15 L843.25 1136.63 L874 1136.63 L874 1110.2 L1015.7 1110.2" fill="none" stroke="#1c1cc4" stroke-width="2" stroke-linejoin="miter"/>
<path d="M659.4 1408.8 L659.4 1177.68 L740.89 1177.68 L740.89 1154.48 L822.59 1154.48 L822.59 1119.28 L918.29 1119.28 L918.29 1110.2 L1015.7 1110.2" fill="none" stroke="#b0242e" stroke-width="2" stroke-linejoin="miter"/>
<rect x="645.1" y="1097.9" width="384.5" height="322.4" fill="none" stroke="#222" stroke-width="1.5"/>
<text font-size="16.33" transform="translate(659.4 1456.42) scale(1.018 1)" text-anchor="middle" fill="#222" stroke="#222" stroke-width="0.3">0.0</text>
<text font-size="16.33" transform="translate(618.92 1408.8) rotate(-90) scale(1.018 1)" text-anchor="middle" fill="#222" stroke="#222" stroke-width="0.3">0.0</text>
<text font-size="16.33" transform="translate(730.66 1456.42) scale(1.018 1)" text-anchor="middle" fill="#222" stroke="#222" stroke-width="0.3">0.2</text>
<text font-size="16.33" transform="translate(618.92 1349.08) rotate(-90) scale(1.018 1)" text-anchor="middle" fill="#222" stroke="#222" stroke-width="0.3">0.2</text>
<text font-size="16.33" transform="translate(801.92 1456.42) scale(1.018 1)" text-anchor="middle" fill="#222" stroke="#222" stroke-width="0.3">0.4</text>
<text font-size="16.33" transform="translate(618.92 1289.36) rotate(-90) scale(1.018 1)" text-anchor="middle" fill="#222" stroke="#222" stroke-width="0.3">0.4</text>
<text font-size="16.33" transform="translate(873.18 1456.42) scale(1.018 1)" text-anchor="middle" fill="#222" stroke="#222" stroke-width="0.3">0.6</text>
<text font-size="16.33" transform="translate(618.92 1229.64) rotate(-90) scale(1.018 1)" text-anchor="middle" fill="#222" stroke="#222" stroke-width="0.3">0.6</text>
<text font-size="16.33" transform="translate(944.44 1456.42) scale(1.018 1)" text-anchor="middle" fill="#222" stroke="#222" stroke-width="0.3">0.8</text>
<text font-size="16.33" transform="translate(618.92 1169.92) rotate(-90) scale(1.018 1)" text-anchor="middle" fill="#222" stroke="#222" stroke-width="0.3">0.8</text>
<text font-size="16.33" transform="translate(1015.7 1456.42) scale(1.018 1)" text-anchor="middle" fill="#222" stroke="#222" stroke-width="0.3">1.0</text>
<text font-size="16.33" transform="translate(618.92 1110.2) rotate(-90) scale(1.018 1)" text-anchor="middle" fill="#222" stroke="#222" stroke-width="0.3">1.0</text>
<path d="M659.4 1420.3v11.5M645.1 1408.8h-11.5M730.66 1420.3v11.5M645.1 1349.08h-11.5M801.92 1420.3v11.5M645.1 1289.36h-11.5M873.18 1420.3v11.5M645.1 1229.64h-11.5M944.44 1420.3v11.5M645.1 1169.92h-11.5M1015.7 1420.3v11.5M645.1 1110.2h-11.5" fill="none" stroke="#222" stroke-width="1.5" />
<text font-size="16.43" transform="translate(838.6 1493.86) scale(1.039 1)" text-anchor="middle" fill="#222" stroke="#222" stroke-width="0.3">1-Specificity</text>
<text font-size="16.43" transform="translate(576.26 1257.5) rotate(-90) scale(1.034 1)" text-anchor="middle" fill="#222" stroke="#222" stroke-width="0.3">Sensitivity</text>
<line x1="816.3" y1="1370.5" x2="838.9" y2="1370.5" stroke="#7add3a" stroke-width="2" />
<text font-size="16.43" transform="translate(848.3 1373.26) scale(1.034 1)" fill="#222" stroke="#222" stroke-width="0.3">AUC at 1 years: 0.789</text>
<line x1="816.3" y1="1387.8" x2="838.9" y2="1387.8" stroke="#1c1cc4" stroke-width="2" />
<text font-size="16.43" transform="translate(848.3 1390.16) scale(1.034 1)" fill="#222" stroke="#222" stroke-width="0.3">AUC at 2 years: 0.865</text>
<line x1="816.3" y1="1404.8" x2="838.9" y2="1404.8" stroke="#b0242e" stroke-width="2" />
<text font-size="16.43" transform="translate(848.3 1406.86) scale(1.034 1)" fill="#222" stroke="#222" stroke-width="0.3">AUC at 3 years: 0.907</text>
</g>
<g id="panel-i">
<text font-size="70.51" transform="translate(1069.7 1122.8) scale(0.975 1)" fill="#000" stroke="#000" stroke-width="0.5">I</text>
<path d="M1357.84 1084.5A192.6 192.6 0 0 1 1444.24 1105.65" fill="none" stroke="#c0242c" stroke-width="2.6" />
<path d="M1358.3 1089.81A187.3 187.3 0 0 1 1361.63 1089.87L1361.38 1099.17A178 178 0 0 0 1358.21 1099.11ZM1363.44 1089.93A187.3 187.3 0 0 1 1363.63 1089.94L1363.28 1099.23A178 178 0 0 0 1363.1 1099.22ZM1401.64 1095.32A187.3 187.3 0 0 1 1403.22 1095.72L1400.9 1104.73A178 178 0 0 0 1399.4 1104.35ZM1404.02 1095.93A187.3 187.3 0 0 1 1405.1 1096.22L1402.69 1105.2A178 178 0 0 0 1401.66 1104.92ZM1405.01 1096.19A187.3 187.3 0 0 1 1407.21 1096.79L1404.69 1105.75A178 178 0 0 0 1402.6 1105.17ZM1412.56 1098.39A187.3 187.3 0 0 1 1413.65 1098.73L1410.81 1107.59A178 178 0 0 0 1409.78 1107.26ZM1427.81 1103.91A187.3 187.3 0 0 1 1428.95 1104.38L1425.35 1112.95A178 178 0 0 0 1424.27 1112.51Z" fill="#a8a8a8"/>
<path d="M1361.53 1089.87A187.3 187.3 0 0 1 1361.78 1089.87L1361.52 1099.17A178 178 0 0 0 1361.28 1099.16ZM1385.29 1092.03A187.3 187.3 0 0 1 1386.22 1092.17L1384.74 1101.35A178 178 0 0 0 1383.86 1101.22ZM1400.09 1094.94A187.3 187.3 0 0 1 1401.74 1095.34L1399.49 1104.37A178 178 0 0 0 1397.93 1103.99ZM1439.56 1109.22A187.3 187.3 0 0 1 1439.95 1109.42L1435.8 1117.74A178 178 0 0 0 1435.43 1117.56Z" fill="#000000"/>
<path d="M1361.68 1089.87A187.3 187.3 0 0 1 1362.42 1089.89L1362.12 1099.19A178 178 0 0 0 1361.42 1099.17ZM1379.31 1091.19A187.3 187.3 0 0 1 1383.15 1091.71L1381.83 1100.91A178 178 0 0 0 1378.17 1100.42ZM1407.45 1096.86A187.3 187.3 0 0 1 1407.78 1096.96L1405.23 1105.9A178 178 0 0 0 1404.92 1105.81ZM1407.83 1096.97A187.3 187.3 0 0 1 1408.25 1097.09L1405.68 1106.03A178 178 0 0 0 1405.28 1105.91ZM1437.34 1108.14A187.3 187.3 0 0 1 1439.64 1109.27L1435.51 1117.6A178 178 0 0 0 1433.33 1116.53Z" fill="#5a5a5a"/>
<path d="M1362.32 1089.89A187.3 187.3 0 0 1 1363.4 1089.93L1363.06 1099.22A178 178 0 0 0 1362.03 1099.19ZM1363.3 1089.92A187.3 187.3 0 0 1 1363.54 1089.93L1363.19 1099.23A178 178 0 0 0 1362.96 1099.22ZM1370.73 1090.34A187.3 187.3 0 0 1 1371.4 1090.39L1370.66 1099.66A178 178 0 0 0 1370.03 1099.61ZM1383.2 1091.71A187.3 187.3 0 0 1 1384.16 1091.85L1382.79 1101.05A178 178 0 0 0 1381.87 1100.92ZM1384.07 1091.84A187.3 187.3 0 0 1 1384.91 1091.97L1383.5 1101.16A178 178 0 0 0 1382.7 1101.04ZM1384.81 1091.95A187.3 187.3 0 0 1 1385.36 1092.04L1383.92 1101.23A178 178 0 0 0 1383.41 1101.15ZM1394.93 1093.78A187.3 187.3 0 0 1 1395.53 1093.91L1393.59 1103.01A178 178 0 0 0 1393.02 1102.89ZM1397.08 1094.25A187.3 187.3 0 0 1 1397.43 1094.33L1395.4 1103.4A178 178 0 0 0 1395.07 1103.33ZM1397.34 1094.31A187.3 187.3 0 0 1 1398.94 1094.67L1396.83 1103.73A178 178 0 0 0 1395.31 1103.38ZM1408.15 1097.06A187.3 187.3 0 0 1 1408.98 1097.3L1406.37 1106.23A178 178 0 0 0 1405.59 1106ZM1408.88 1097.27A187.3 187.3 0 0 1 1411.71 1098.12L1408.97 1107.01A178 178 0 0 0 1406.28 1106.2ZM1417.19 1099.9A187.3 187.3 0 0 1 1417.58 1100.04L1414.55 1108.83A178 178 0 0 0 1414.17 1108.7ZM1422.81 1101.93A187.3 187.3 0 0 1 1425.3 1102.89L1421.89 1111.54A178 178 0 0 0 1419.52 1110.63ZM1431.65 1105.54A187.3 187.3 0 0 1 1431.76 1105.59L1428.03 1114.1A178 178 0 0 0 1427.91 1114.05ZM1431.67 1105.55A187.3 187.3 0 0 1 1437.19 1108.07L1433.19 1116.47A178 178 0 0 0 1427.94 1114.07Z" fill="#d8d8d8"/>
<path d="M1363.53 1089.93A187.3 187.3 0 0 1 1363.81 1089.94L1363.45 1099.24A178 178 0 0 0 1363.18 1099.23ZM1366.12 1090.05A187.3 187.3 0 0 1 1368.55 1090.19L1367.95 1099.47A178 178 0 0 0 1365.64 1099.34ZM1371.4 1090.39A187.3 187.3 0 0 1 1373.97 1090.62L1373.1 1099.88A178 178 0 0 0 1370.66 1099.66ZM1395.44 1093.89A187.3 187.3 0 0 1 1397.18 1094.27L1395.16 1103.35A178 178 0 0 0 1393.5 1102.99ZM1407.11 1096.77A187.3 187.3 0 0 1 1407.32 1096.83L1404.8 1105.78A178 178 0 0 0 1404.6 1105.72ZM1411.62 1098.09A187.3 187.3 0 0 1 1412.66 1098.42L1409.87 1107.29A178 178 0 0 0 1408.88 1106.98ZM1413.55 1098.7A187.3 187.3 0 0 1 1414.73 1099.08L1411.84 1107.92A178 178 0 0 0 1410.72 1107.56ZM1414.64 1099.05A187.3 187.3 0 0 1 1415.07 1099.19L1412.16 1108.03A178 178 0 0 0 1411.75 1107.89ZM1417.49 1100.01A187.3 187.3 0 0 1 1417.79 1100.11L1414.74 1108.9A178 178 0 0 0 1414.46 1108.8ZM1417.69 1100.08A187.3 187.3 0 0 1 1420.06 1100.91L1416.9 1109.66A178 178 0 0 0 1414.65 1108.87ZM1422.21 1101.71A187.3 187.3 0 0 1 1422.9 1101.97L1419.61 1110.66A178 178 0 0 0 1418.95 1110.41ZM1425.21 1102.86A187.3 187.3 0 0 1 1427.04 1103.59L1423.54 1112.21A178 178 0 0 0 1421.8 1111.51Z" fill="#ffffff"/>
<path d="M1363.71 1089.94A187.3 187.3 0 0 1 1364.42 1089.97L1364.03 1099.26A178 178 0 0 0 1363.36 1099.23ZM1373.87 1090.61A187.3 187.3 0 0 1 1376.13 1090.83L1375.16 1100.08A178 178 0 0 0 1373.01 1099.87ZM1376.04 1090.82A187.3 187.3 0 0 1 1377.62 1090.99L1376.57 1100.23A178 178 0 0 0 1375.07 1100.07ZM1394.12 1093.62A187.3 187.3 0 0 1 1394.76 1093.75L1392.86 1102.85A178 178 0 0 0 1392.26 1102.73ZM1394.67 1093.73A187.3 187.3 0 0 1 1395.02 1093.8L1393.11 1102.91A178 178 0 0 0 1392.77 1102.83ZM1398.84 1094.65A187.3 187.3 0 0 1 1400.19 1094.97L1398.02 1104.01A178 178 0 0 0 1396.74 1103.71ZM1403.13 1095.7A187.3 187.3 0 0 1 1404.12 1095.95L1401.75 1104.95A178 178 0 0 0 1400.81 1104.7ZM1439.86 1109.37A187.3 187.3 0 0 1 1441.47 1110.18L1437.25 1118.47A178 178 0 0 0 1435.72 1117.7Z" fill="#c4c4c4"/>
<path d="M1364.32 1089.96A187.3 187.3 0 0 1 1364.64 1089.98L1364.24 1099.27A178 178 0 0 0 1363.94 1099.26ZM1364.55 1089.97A187.3 187.3 0 0 1 1366.22 1090.05L1365.74 1099.34A178 178 0 0 0 1364.15 1099.26ZM1368.48 1090.18A187.3 187.3 0 0 1 1369.07 1090.22L1368.45 1099.5A178 178 0 0 0 1367.88 1099.46ZM1368.97 1090.22A187.3 187.3 0 0 1 1370.83 1090.35L1370.12 1099.62A178 178 0 0 0 1368.35 1099.5ZM1386.12 1092.16A187.3 187.3 0 0 1 1389.78 1092.78L1388.13 1101.93A178 178 0 0 0 1384.65 1101.34ZM1389.68 1092.76A187.3 187.3 0 0 1 1390.35 1092.88L1388.67 1102.03A178 178 0 0 0 1388.03 1101.92ZM1390.25 1092.87A187.3 187.3 0 0 1 1392.41 1093.27L1390.62 1102.4A178 178 0 0 0 1388.58 1102.01ZM1392.31 1093.26A187.3 187.3 0 0 1 1394.22 1093.64L1392.35 1102.75A178 178 0 0 0 1390.53 1102.38ZM1414.97 1099.16A187.3 187.3 0 0 1 1416.06 1099.52L1413.11 1108.34A178 178 0 0 0 1412.07 1108ZM1415.97 1099.49A187.3 187.3 0 0 1 1417.28 1099.94L1414.26 1108.73A178 178 0 0 0 1413.02 1108.31ZM1419.97 1100.88A187.3 187.3 0 0 1 1422.3 1101.74L1419.04 1110.45A178 178 0 0 0 1416.82 1109.63ZM1428.86 1104.34A187.3 187.3 0 0 1 1430.42 1105L1426.75 1113.55A178 178 0 0 0 1425.26 1112.92ZM1430.33 1104.96A187.3 187.3 0 0 1 1431.74 1105.57L1428 1114.09A178 178 0 0 0 1426.66 1113.51ZM1437.1 1108.03A187.3 187.3 0 0 1 1437.43 1108.19L1433.41 1116.57A178 178 0 0 0 1433.1 1116.43Z" fill="#f0f0f0"/>
<path d="M1368.46 1090.18A187.3 187.3 0 0 1 1368.58 1090.19L1367.98 1099.47A178 178 0 0 0 1367.86 1099.46Z" fill="#8c8c8c"/>
<path d="M1371.3 1090.39A187.3 187.3 0 0 1 1371.5 1090.4L1370.75 1099.67A178 178 0 0 0 1370.57 1099.66ZM1377.52 1090.98A187.3 187.3 0 0 1 1379.4 1091.21L1378.27 1100.44A178 178 0 0 0 1376.48 1100.22ZM1383.06 1091.69A187.3 187.3 0 0 1 1383.3 1091.73L1381.97 1100.93A178 178 0 0 0 1381.74 1100.9ZM1385.26 1092.02A187.3 187.3 0 0 1 1385.39 1092.04L1383.96 1101.23A178 178 0 0 0 1383.83 1101.21ZM1407.23 1096.8A187.3 187.3 0 0 1 1407.55 1096.89L1405.01 1105.84A178 178 0 0 0 1404.71 1105.75ZM1407.68 1096.93A187.3 187.3 0 0 1 1407.92 1097L1405.37 1105.94A178 178 0 0 0 1405.14 1105.88ZM1426.95 1103.56A187.3 187.3 0 0 1 1427.9 1103.94L1424.36 1112.54A178 178 0 0 0 1423.46 1112.17Z" fill="#1a1a1a"/>
<path d="M1400 1094.92A187.3 187.3 0 0 1 1402.03 1095.42L1399.77 1104.44A178 178 0 0 0 1397.84 1103.97Z" fill="#b8323a"/>
<path d="M1402.03 1095.42A187.3 187.3 0 0 1 1404.5 1096.06L1402.12 1105.05A178 178 0 0 0 1399.77 1104.44Z" fill="#111"/>
<path d="M1358.3 1089.81A187.3 187.3 0 0 1 1441.39 1110.14L1437.17 1118.43A178 178 0 0 0 1358.21 1099.11Z" fill="none" stroke="#111" stroke-width="1.25" stroke-linejoin="miter"/>
<text font-size="18.93" transform="translate(1422.2 1082.02) rotate(-76.25) scale(0.962 1)" text-anchor="middle" fill="#1a1a1a" stroke="#1a1a1a" stroke-width="0.3">1</text>
<path d="M1446.62 1106.89A192.6 192.6 0 0 1 1513.3 1165.26" fill="none" stroke="#3f8f5f" stroke-width="2.6" />
<path d="M1444.58 1111.8A187.3 187.3 0 0 1 1446.41 1112.79L1441.95 1120.95A178 178 0 0 0 1440.2 1120.01ZM1446.69 1112.94A187.3 187.3 0 0 1 1446.85 1113.03L1442.37 1121.18A178 178 0 0 0 1442.21 1121.09ZM1455.49 1118.1A187.3 187.3 0 0 1 1456.66 1118.83L1451.68 1126.69A178 178 0 0 0 1450.58 1125.99ZM1461.27 1121.85A187.3 187.3 0 0 1 1461.36 1121.91L1456.15 1129.61A178 178 0 0 0 1456.07 1129.55ZM1461.28 1121.85A187.3 187.3 0 0 1 1463.65 1123.48L1458.33 1131.11A178 178 0 0 0 1456.08 1129.56ZM1463.71 1123.52A187.3 187.3 0 0 1 1464.05 1123.75L1458.71 1131.37A178 178 0 0 0 1458.39 1131.14ZM1468.68 1127.11A187.3 187.3 0 0 1 1469.46 1127.7L1463.85 1135.11A178 178 0 0 0 1463.11 1134.56ZM1481.69 1137.78A187.3 187.3 0 0 1 1482.04 1138.1L1475.81 1145A178 178 0 0 0 1475.47 1144.7ZM1487.69 1143.42A187.3 187.3 0 0 1 1489.53 1145.25L1482.92 1151.79A178 178 0 0 0 1481.18 1150.06ZM1497.05 1153.3A187.3 187.3 0 0 1 1497.5 1153.81L1490.5 1159.93A178 178 0 0 0 1490.07 1159.44Z" fill="#f0f0f0"/>
<path d="M1446.32 1112.74A187.3 187.3 0 0 1 1446.71 1112.95L1442.23 1121.1A178 178 0 0 0 1441.86 1120.9ZM1460.82 1121.54A187.3 187.3 0 0 1 1461.09 1121.72L1455.9 1129.44A178 178 0 0 0 1455.64 1129.27ZM1469.38 1127.64A187.3 187.3 0 0 1 1470.34 1128.37L1464.69 1135.75A178 178 0 0 0 1463.78 1135.06ZM1473 1130.44A187.3 187.3 0 0 1 1473.45 1130.8L1467.64 1138.06A178 178 0 0 0 1467.21 1137.72ZM1476.42 1133.23A187.3 187.3 0 0 1 1478.52 1135L1472.46 1142.06A178 178 0 0 0 1470.47 1140.37ZM1499.08 1155.64A187.3 187.3 0 0 1 1499.73 1156.4L1492.61 1162.4A178 178 0 0 0 1492 1161.67ZM1506.49 1164.92A187.3 187.3 0 0 1 1507.32 1166.04L1499.83 1171.56A178 178 0 0 0 1499.04 1170.49Z" fill="#1a1a1a"/>
<path d="M1446.62 1112.91A187.3 187.3 0 0 1 1446.77 1112.99L1442.29 1121.14A178 178 0 0 0 1442.15 1121.06ZM1446.77 1112.99A187.3 187.3 0 0 1 1451.03 1115.4L1446.33 1123.43A178 178 0 0 0 1442.29 1121.14ZM1461.01 1121.67A187.3 187.3 0 0 1 1461.35 1121.9L1456.15 1129.61A178 178 0 0 0 1455.82 1129.39ZM1482.64 1138.65A187.3 187.3 0 0 1 1487.76 1143.49L1481.25 1150.13A178 178 0 0 0 1476.38 1145.52ZM1495.21 1151.24A187.3 187.3 0 0 1 1496.52 1152.7L1489.57 1158.88A178 178 0 0 0 1488.32 1157.48Z" fill="#5a5a5a"/>
<path d="M1450.94 1115.35A187.3 187.3 0 0 1 1451.11 1115.45L1446.41 1123.48A178 178 0 0 0 1446.25 1123.38ZM1456.98 1119.03A187.3 187.3 0 0 1 1457.28 1119.22L1452.27 1127.06A178 178 0 0 0 1451.99 1126.88ZM1459.12 1120.42A187.3 187.3 0 0 1 1459.76 1120.83L1454.63 1128.59A178 178 0 0 0 1454.03 1128.2ZM1506.2 1164.54A187.3 187.3 0 0 1 1506.47 1164.89L1499.02 1170.47A178 178 0 0 0 1498.77 1170.13ZM1507.27 1165.96A187.3 187.3 0 0 1 1507.67 1166.52L1500.17 1172.01A178 178 0 0 0 1499.78 1171.48ZM1508.1 1167.1A187.3 187.3 0 0 1 1508.76 1168.02L1501.2 1173.43A178 178 0 0 0 1500.57 1172.56Z" fill="#000000"/>
<path d="M1451.02 1115.4A187.3 187.3 0 0 1 1452.31 1116.16L1447.56 1124.15A178 178 0 0 0 1446.33 1123.43ZM1457.19 1119.17A187.3 187.3 0 0 1 1457.89 1119.62L1452.86 1127.44A178 178 0 0 0 1452.19 1127.01ZM1500.3 1157.09A187.3 187.3 0 0 1 1501.03 1157.97L1493.86 1163.89A178 178 0 0 0 1493.16 1163.05ZM1503.55 1161.09A187.3 187.3 0 0 1 1504.11 1161.8L1496.78 1167.53A178 178 0 0 0 1496.24 1166.85ZM1506.41 1164.82A187.3 187.3 0 0 1 1506.55 1165L1499.1 1170.56A178 178 0 0 0 1498.97 1170.39Z" fill="#a8a8a8"/>
<path d="M1452.23 1116.11A187.3 187.3 0 0 1 1454.14 1117.27L1449.3 1125.2A178 178 0 0 0 1447.48 1124.11ZM1459.67 1120.78A187.3 187.3 0 0 1 1460.91 1121.6L1455.72 1129.32A178 178 0 0 0 1454.55 1128.54ZM1463.57 1123.42A187.3 187.3 0 0 1 1463.79 1123.57L1458.46 1131.2A178 178 0 0 0 1458.26 1131.05ZM1465 1124.42A187.3 187.3 0 0 1 1468.57 1127.03L1463 1134.48A178 178 0 0 0 1459.61 1132ZM1468.49 1126.97A187.3 187.3 0 0 1 1468.76 1127.17L1463.19 1134.62A178 178 0 0 0 1462.93 1134.42ZM1470.26 1128.31A187.3 187.3 0 0 1 1470.96 1128.84L1465.28 1136.21A178 178 0 0 0 1464.62 1135.7ZM1473.37 1130.73A187.3 187.3 0 0 1 1476.5 1133.29L1470.54 1140.43A178 178 0 0 0 1467.57 1138ZM1481.68 1137.78A187.3 187.3 0 0 1 1481.76 1137.85L1475.54 1144.76A178 178 0 0 0 1475.46 1144.69ZM1492.05 1147.84A187.3 187.3 0 0 1 1493.8 1149.7L1486.98 1156.03A178 178 0 0 0 1485.32 1154.26ZM1497.44 1153.74A187.3 187.3 0 0 1 1498.09 1154.49L1491.06 1160.58A178 178 0 0 0 1490.44 1159.86ZM1499.66 1156.33A187.3 187.3 0 0 1 1500.36 1157.17L1493.22 1163.12A178 178 0 0 0 1492.55 1162.32ZM1507.61 1166.44A187.3 187.3 0 0 1 1508 1166.96L1500.47 1172.43A178 178 0 0 0 1500.11 1171.93Z" fill="#d8d8d8"/>
<path d="M1454.06 1117.21A187.3 187.3 0 0 1 1455.58 1118.15L1450.66 1126.04A178 178 0 0 0 1449.22 1125.15ZM1457.81 1119.56A187.3 187.3 0 0 1 1459.2 1120.47L1454.1 1128.25A178 178 0 0 0 1452.78 1127.39ZM1463.97 1123.7A187.3 187.3 0 0 1 1465.08 1124.48L1459.68 1132.06A178 178 0 0 0 1458.63 1131.31ZM1470.88 1128.78A187.3 187.3 0 0 1 1471.1 1128.95L1465.41 1136.31A178 178 0 0 0 1465.2 1136.15ZM1471.02 1128.89A187.3 187.3 0 0 1 1473.07 1130.5L1467.28 1137.78A178 178 0 0 0 1465.34 1136.25ZM1478.45 1134.94A187.3 187.3 0 0 1 1478.61 1135.08L1472.55 1142.13A178 178 0 0 0 1472.39 1141.99ZM1478.54 1135.02A187.3 187.3 0 0 1 1478.9 1135.33L1472.82 1142.36A178 178 0 0 0 1472.48 1142.07ZM1478.82 1135.26A187.3 187.3 0 0 1 1481.08 1137.24L1474.9 1144.19A178 178 0 0 0 1472.75 1142.3ZM1489.46 1145.18A187.3 187.3 0 0 1 1489.98 1145.71L1483.36 1152.23A178 178 0 0 0 1482.85 1151.73ZM1491.83 1147.61A187.3 187.3 0 0 1 1492.11 1147.91L1485.38 1154.33A178 178 0 0 0 1485.11 1154.04ZM1493.73 1149.63A187.3 187.3 0 0 1 1494.68 1150.66L1487.82 1156.93A178 178 0 0 0 1486.92 1155.96ZM1494.61 1150.58A187.3 187.3 0 0 1 1495.27 1151.31L1488.38 1157.55A178 178 0 0 0 1487.75 1156.86ZM1496.86 1153.09A187.3 187.3 0 0 1 1497.11 1153.37L1490.13 1159.51A178 178 0 0 0 1489.89 1159.24ZM1498.1 1154.5A187.3 187.3 0 0 1 1498.46 1154.91L1491.41 1160.98A178 178 0 0 0 1491.07 1160.58ZM1498.39 1154.84A187.3 187.3 0 0 1 1498.76 1155.27L1491.7 1161.32A178 178 0 0 0 1491.35 1160.91ZM1500.97 1157.9A187.3 187.3 0 0 1 1501.62 1158.68L1494.41 1164.56A178 178 0 0 0 1493.8 1163.82ZM1501.56 1158.61A187.3 187.3 0 0 1 1503.61 1161.16L1496.3 1166.92A178 178 0 0 0 1494.35 1164.49ZM1504.05 1161.73A187.3 187.3 0 0 1 1505.54 1163.66L1498.14 1169.29A178 178 0 0 0 1496.72 1167.46ZM1505.48 1163.58A187.3 187.3 0 0 1 1506.05 1164.33L1498.62 1169.93A178 178 0 0 0 1498.08 1169.22ZM1505.99 1164.25A187.3 187.3 0 0 1 1506.26 1164.62L1498.83 1170.2A178 178 0 0 0 1498.57 1169.85ZM1507.94 1166.89A187.3 187.3 0 0 1 1508.15 1167.18L1500.62 1172.64A178 178 0 0 0 1500.42 1172.36Z" fill="#c4c4c4"/>
<path d="M1456.57 1118.78A187.3 187.3 0 0 1 1457.06 1119.09L1452.07 1126.93A178 178 0 0 0 1451.6 1126.64ZM1481.01 1137.18A187.3 187.3 0 0 1 1481.75 1137.84L1475.53 1144.76A178 178 0 0 0 1474.83 1144.12ZM1481.97 1138.03A187.3 187.3 0 0 1 1482.71 1138.71L1476.45 1145.58A178 178 0 0 0 1475.74 1144.94ZM1496.46 1152.63A187.3 187.3 0 0 1 1496.93 1153.16L1489.96 1159.31A178 178 0 0 0 1489.51 1158.81Z" fill="#ffffff"/>
<path d="M1489.92 1145.64A187.3 187.3 0 0 1 1491.9 1147.68L1485.17 1154.11A178 178 0 0 0 1483.29 1152.17ZM1498.03 1154.42A187.3 187.3 0 0 1 1498.16 1154.57L1491.13 1160.65A178 178 0 0 0 1491 1160.51ZM1498.7 1155.19A187.3 187.3 0 0 1 1499.14 1155.71L1492.06 1161.74A178 178 0 0 0 1491.64 1161.25Z" fill="#8c8c8c"/>
<path d="M1471.44 1129.22A187.3 187.3 0 0 1 1473.09 1130.51L1467.3 1137.79A178 178 0 0 0 1465.73 1136.56Z" fill="#b8323a"/>
<path d="M1444.58 1111.8A187.3 187.3 0 0 1 1508.7 1167.94L1501.14 1173.36A178 178 0 0 0 1440.2 1120.01Z" fill="none" stroke="#111" stroke-width="1.25" stroke-linejoin="miter"/>
<text font-size="18.93" transform="translate(1507.89 1130.23) rotate(-48.8) scale(0.962 1)" text-anchor="middle" fill="#1a1a1a" stroke="#1a1a1a" stroke-width="0.3">2</text>
<path d="M1514.84 1167.46A192.6 192.6 0 0 1 1544.09 1233.45" fill="none" stroke="#8b2558" stroke-width="2.6" />
<path d="M1510.77 1170.88A187.3 187.3 0 0 1 1511.53 1172L1503.83 1177.22A178 178 0 0 0 1503.11 1176.15ZM1513 1174.2A187.3 187.3 0 0 1 1513.31 1174.68L1505.53 1179.76A178 178 0 0 0 1505.23 1179.31ZM1513.57 1175.08A187.3 187.3 0 0 1 1513.65 1175.19L1505.85 1180.25A178 178 0 0 0 1505.78 1180.14ZM1516.86 1180.32A187.3 187.3 0 0 1 1518.13 1182.46L1510.1 1187.16A178 178 0 0 0 1508.9 1185.13ZM1518.91 1183.81A187.3 187.3 0 0 1 1519.69 1185.17L1511.58 1189.73A178 178 0 0 0 1510.85 1188.44ZM1525.48 1196.3A187.3 187.3 0 0 1 1525.61 1196.58L1517.21 1200.58A178 178 0 0 0 1517.09 1200.31ZM1525.75 1196.88A187.3 187.3 0 0 1 1526.06 1197.53L1517.64 1201.48A178 178 0 0 0 1517.35 1200.87ZM1529.23 1204.67A187.3 187.3 0 0 1 1529.71 1205.83L1521.11 1209.37A178 178 0 0 0 1520.65 1208.27ZM1536.77 1226.27A187.3 187.3 0 0 1 1537.06 1227.32L1528.1 1229.79A178 178 0 0 0 1527.82 1228.8ZM1537.3 1228.19A187.3 187.3 0 0 1 1537.47 1228.81L1528.48 1231.21A178 178 0 0 0 1528.32 1230.62ZM1538.35 1232.25A187.3 187.3 0 0 1 1538.6 1233.26L1529.55 1235.43A178 178 0 0 0 1529.32 1234.48Z" fill="#ffffff"/>
<path d="M1511.48 1171.92A187.3 187.3 0 0 1 1511.59 1172.08L1503.89 1177.29A178 178 0 0 0 1503.78 1177.14ZM1515.7 1178.43A187.3 187.3 0 0 1 1516.03 1178.96L1508.11 1183.83A178 178 0 0 0 1507.8 1183.33ZM1528.18 1202.21A187.3 187.3 0 0 1 1529.27 1204.76L1520.69 1208.36A178 178 0 0 0 1519.65 1205.93ZM1533.42 1215.6A187.3 187.3 0 0 1 1534.71 1219.45L1525.86 1222.31A178 178 0 0 0 1524.63 1218.66Z" fill="#000000"/>
<path d="M1511.53 1172A187.3 187.3 0 0 1 1512.37 1173.24L1504.63 1178.4A178 178 0 0 0 1503.83 1177.22ZM1533.28 1215.21A187.3 187.3 0 0 1 1533.45 1215.69L1524.66 1218.74A178 178 0 0 0 1524.5 1218.28ZM1535.51 1222.01A187.3 187.3 0 0 1 1535.82 1223L1526.91 1225.69A178 178 0 0 0 1526.63 1224.74Z" fill="#a8a8a8"/>
<path d="M1512.31 1173.16A187.3 187.3 0 0 1 1513.06 1174.28L1505.28 1179.39A178 178 0 0 0 1504.58 1178.32ZM1529.67 1205.74A187.3 187.3 0 0 1 1531.09 1209.28L1522.42 1212.64A178 178 0 0 0 1521.07 1209.28ZM1532.18 1212.15A187.3 187.3 0 0 1 1532.66 1213.47L1523.91 1216.63A178 178 0 0 0 1523.45 1215.37ZM1534.78 1219.68A187.3 187.3 0 0 1 1534.91 1220.07L1526.05 1222.9A178 178 0 0 0 1525.93 1222.53ZM1538.57 1233.16A187.3 187.3 0 0 1 1538.67 1233.58L1529.63 1235.74A178 178 0 0 0 1529.53 1235.34Z" fill="#5a5a5a"/>
<path d="M1513.26 1174.59A187.3 187.3 0 0 1 1513.63 1175.16L1505.83 1180.22A178 178 0 0 0 1505.48 1179.68ZM1513.6 1175.11A187.3 187.3 0 0 1 1514.27 1176.15L1506.43 1181.16A178 178 0 0 0 1505.8 1180.17ZM1538.65 1233.48A187.3 187.3 0 0 1 1538.84 1234.27L1529.78 1236.39A178 178 0 0 0 1529.61 1235.65Z" fill="#1a1a1a"/>
<path d="M1514.21 1176.07A187.3 187.3 0 0 1 1514.84 1177.05L1506.98 1182.02A178 178 0 0 0 1506.38 1181.08ZM1515.41 1177.96A187.3 187.3 0 0 1 1515.75 1178.51L1507.85 1183.41A178 178 0 0 0 1507.52 1182.88ZM1516.42 1179.6A187.3 187.3 0 0 1 1516.66 1179.99L1508.71 1184.81A178 178 0 0 0 1508.48 1184.44ZM1522.65 1190.65A187.3 187.3 0 0 1 1522.94 1191.2L1514.68 1195.47A178 178 0 0 0 1514.4 1194.94ZM1526.07 1197.55A187.3 187.3 0 0 1 1527.42 1200.5L1518.93 1204.3A178 178 0 0 0 1517.65 1201.5ZM1528.08 1202A187.3 187.3 0 0 1 1528.22 1202.3L1519.69 1206.02A178 178 0 0 0 1519.56 1205.73ZM1531.95 1211.55A187.3 187.3 0 0 1 1532.21 1212.24L1523.49 1215.46A178 178 0 0 0 1523.24 1214.8ZM1532.91 1214.17A187.3 187.3 0 0 1 1533.31 1215.3L1524.53 1218.37A178 178 0 0 0 1524.15 1217.3Z" fill="#c4c4c4"/>
<path d="M1514.79 1176.97A187.3 187.3 0 0 1 1515.46 1178.04L1507.57 1182.96A178 178 0 0 0 1506.93 1181.94ZM1515.98 1178.88A187.3 187.3 0 0 1 1516.24 1179.31L1508.31 1184.16A178 178 0 0 0 1508.06 1183.75ZM1520.25 1186.18A187.3 187.3 0 0 1 1520.53 1186.69L1512.39 1191.18A178 178 0 0 0 1512.12 1190.69ZM1520.48 1186.6A187.3 187.3 0 0 1 1520.7 1186.98L1512.54 1191.46A178 178 0 0 0 1512.34 1191.09ZM1522.23 1189.85A187.3 187.3 0 0 1 1522.7 1190.73L1514.45 1195.02A178 178 0 0 0 1514.01 1194.18ZM1524.75 1194.8A187.3 187.3 0 0 1 1525.52 1196.39L1517.13 1200.4A178 178 0 0 0 1516.39 1198.88ZM1531.05 1209.18A187.3 187.3 0 0 1 1531.99 1211.64L1523.27 1214.89A178 178 0 0 0 1522.39 1212.56ZM1532.63 1213.37A187.3 187.3 0 0 1 1532.95 1214.27L1524.19 1217.39A178 178 0 0 0 1523.88 1216.54ZM1534.68 1219.35A187.3 187.3 0 0 1 1534.81 1219.77L1525.96 1222.62A178 178 0 0 0 1525.83 1222.22ZM1535.79 1222.91A187.3 187.3 0 0 1 1535.97 1223.5L1527.06 1226.16A178 178 0 0 0 1526.89 1225.6ZM1535.94 1223.41A187.3 187.3 0 0 1 1536.8 1226.37L1527.85 1228.89A178 178 0 0 0 1527.03 1226.07Z" fill="#d8d8d8"/>
<path d="M1516.19 1179.22A187.3 187.3 0 0 1 1516.47 1179.69L1508.53 1184.52A178 178 0 0 0 1508.26 1184.08ZM1516.61 1179.91A187.3 187.3 0 0 1 1516.91 1180.41L1508.95 1185.21A178 178 0 0 0 1508.66 1184.73ZM1518.08 1182.37A187.3 187.3 0 0 1 1518.96 1183.9L1510.9 1188.52A178 178 0 0 0 1510.06 1187.08ZM1519.64 1185.08A187.3 187.3 0 0 1 1520.3 1186.26L1512.16 1190.77A178 178 0 0 0 1511.54 1189.65ZM1522.9 1191.12A187.3 187.3 0 0 1 1524.79 1194.88L1516.43 1198.97A178 178 0 0 0 1514.64 1195.39ZM1525.57 1196.49A187.3 187.3 0 0 1 1525.79 1196.97L1517.39 1200.95A178 178 0 0 0 1517.17 1200.49ZM1527.38 1200.41A187.3 187.3 0 0 1 1528.12 1202.09L1519.6 1205.81A178 178 0 0 0 1518.89 1204.21ZM1537.04 1227.22A187.3 187.3 0 0 1 1537.33 1228.29L1528.35 1230.71A178 178 0 0 0 1528.07 1229.7ZM1538.03 1230.96A187.3 187.3 0 0 1 1538.31 1232.07L1529.28 1234.31A178 178 0 0 0 1529.01 1233.25ZM1538.28 1231.97A187.3 187.3 0 0 1 1538.38 1232.35L1529.34 1234.57A178 178 0 0 0 1529.26 1234.21Z" fill="#f0f0f0"/>
<path d="M1520.65 1186.9A187.3 187.3 0 0 1 1522.28 1189.93L1514.05 1194.26A178 178 0 0 0 1512.5 1191.38ZM1526.02 1197.45A187.3 187.3 0 0 1 1526.11 1197.64L1517.69 1201.58A178 178 0 0 0 1517.6 1201.4ZM1534.88 1219.97A187.3 187.3 0 0 1 1535.54 1222.1L1526.65 1224.83A178 178 0 0 0 1526.02 1222.81ZM1537.44 1228.71A187.3 187.3 0 0 1 1538.05 1231.05L1529.04 1233.34A178 178 0 0 0 1528.46 1231.12Z" fill="#8c8c8c"/>
<path d="M1526.15 1197.73A187.3 187.3 0 0 1 1527.03 1199.63L1518.56 1203.48A178 178 0 0 0 1517.73 1201.67Z" fill="#b8323a"/>
<path d="M1510.77 1170.88A187.3 187.3 0 0 1 1538.81 1234.17L1529.76 1236.3A178 178 0 0 0 1503.11 1176.15Z" fill="none" stroke="#111" stroke-width="1.25" stroke-linejoin="miter"/>
<text font-size="18.93" transform="translate(1556.76 1202.01) rotate(-23.9) scale(0.962 1)" text-anchor="middle" fill="#1a1a1a" stroke="#1a1a1a" stroke-width="0.3">3</text>
<path d="M1544.68 1236.07A192.6 192.6 0 0 1 1546.78 1306.9" fill="none" stroke="#e6a822" stroke-width="2.6" />
<path d="M1539.6 1237.68A187.3 187.3 0 0 1 1539.64 1237.85L1530.55 1239.8A178 178 0 0 0 1530.51 1239.64ZM1539.68 1238.01A187.3 187.3 0 0 1 1539.94 1239.28L1530.83 1241.16A178 178 0 0 0 1530.58 1239.95ZM1542.88 1258.56A187.3 187.3 0 0 1 1543 1259.79L1533.74 1260.65A178 178 0 0 0 1533.63 1259.48ZM1543.34 1264A187.3 187.3 0 0 1 1543.39 1264.78L1534.11 1265.4A178 178 0 0 0 1534.06 1264.66ZM1543.8 1277.29A187.3 187.3 0 0 1 1543.8 1277.49L1534.5 1277.47A178 178 0 0 0 1534.5 1277.28ZM1543.8 1277.39A187.3 187.3 0 0 1 1543.77 1280.34L1534.47 1280.18A178 178 0 0 0 1534.5 1277.38ZM1543 1294.4A187.3 187.3 0 0 1 1542.99 1294.52L1533.73 1293.66A178 178 0 0 0 1533.74 1293.54ZM1542.7 1297.4A187.3 187.3 0 0 1 1542.59 1298.37L1533.35 1297.32A178 178 0 0 0 1533.45 1296.39Z" fill="#f0f0f0"/>
<path d="M1539.62 1237.75A187.3 187.3 0 0 1 1539.7 1238.11L1530.6 1240.04A178 178 0 0 0 1530.53 1239.7ZM1540.18 1240.47A187.3 187.3 0 0 1 1540.23 1240.7L1531.11 1242.51A178 178 0 0 0 1531.06 1242.29ZM1542.29 1253.35A187.3 187.3 0 0 1 1542.38 1254.09L1533.15 1255.23A178 178 0 0 0 1533.06 1254.53ZM1542.77 1257.44A187.3 187.3 0 0 1 1542.85 1258.3L1533.6 1259.23A178 178 0 0 0 1533.52 1258.42ZM1542.99 1259.69A187.3 187.3 0 0 1 1543.18 1261.86L1533.91 1262.62A178 178 0 0 0 1533.73 1260.55ZM1543.79 1274.76A187.3 187.3 0 0 1 1543.8 1277.38L1534.5 1277.37A178 178 0 0 0 1534.49 1274.88ZM1543.7 1283.19A187.3 187.3 0 0 1 1543.67 1284.13L1534.37 1283.79A178 178 0 0 0 1534.41 1282.89ZM1543.67 1284.04A187.3 187.3 0 0 1 1543.64 1284.85L1534.35 1284.46A178 178 0 0 0 1534.38 1283.69ZM1542 1303.01A187.3 187.3 0 0 1 1541.95 1303.37L1532.74 1302.06A178 178 0 0 0 1532.79 1301.72Z" fill="#ffffff"/>
<path d="M1539.92 1239.18A187.3 187.3 0 0 1 1540.2 1240.56L1531.08 1242.38A178 178 0 0 0 1530.81 1241.07ZM1543.17 1261.76A187.3 187.3 0 0 1 1543.31 1263.57L1534.03 1264.24A178 178 0 0 0 1533.9 1262.52ZM1543.66 1269.81A187.3 187.3 0 0 1 1543.73 1271.83L1534.43 1272.09A178 178 0 0 0 1534.37 1270.17ZM1543.75 1281.33A187.3 187.3 0 0 1 1543.72 1282.4L1534.43 1282.14A178 178 0 0 0 1534.45 1281.12ZM1543.64 1284.75A187.3 187.3 0 0 1 1543.57 1286.39L1534.28 1285.93A178 178 0 0 0 1534.35 1284.37ZM1543.44 1288.65A187.3 187.3 0 0 1 1543.17 1292.44L1533.9 1291.68A178 178 0 0 0 1534.16 1288.08Z" fill="#d8d8d8"/>
<path d="M1540.21 1240.61A187.3 187.3 0 0 1 1540.81 1243.79L1531.66 1245.44A178 178 0 0 0 1531.09 1242.42ZM1542.37 1253.99A187.3 187.3 0 0 1 1542.4 1254.24L1533.17 1255.37A178 178 0 0 0 1533.14 1255.14ZM1541.9 1303.74A187.3 187.3 0 0 1 1541.76 1304.66L1532.56 1303.29A178 178 0 0 0 1532.69 1302.42Z" fill="#5a5a5a"/>
<path d="M1540.8 1243.69A187.3 187.3 0 0 1 1541.39 1247.13L1532.21 1248.62A178 178 0 0 0 1531.65 1245.35ZM1542 1251.2A187.3 187.3 0 0 1 1542.3 1253.45L1533.08 1254.62A178 178 0 0 0 1532.79 1252.48ZM1542.54 1255.42A187.3 187.3 0 0 1 1542.56 1255.58L1533.32 1256.64A178 178 0 0 0 1533.3 1256.49ZM1542.55 1255.48A187.3 187.3 0 0 1 1542.69 1256.78L1533.45 1257.79A178 178 0 0 0 1533.31 1256.55ZM1543.61 1268.78A187.3 187.3 0 0 1 1543.66 1269.91L1534.37 1270.27A178 178 0 0 0 1534.32 1269.19ZM1543.72 1271.73A187.3 187.3 0 0 1 1543.73 1271.94L1534.43 1272.2A178 178 0 0 0 1534.43 1272ZM1543.73 1282.31A187.3 187.3 0 0 1 1543.7 1283.29L1534.4 1282.98A178 178 0 0 0 1534.43 1282.05ZM1543.18 1292.34A187.3 187.3 0 0 1 1543.13 1292.95L1533.86 1292.17A178 178 0 0 0 1533.91 1291.59ZM1543.14 1292.86A187.3 187.3 0 0 1 1543.04 1293.92L1533.78 1293.08A178 178 0 0 0 1533.87 1292.07ZM1543.05 1293.82A187.3 187.3 0 0 1 1542.99 1294.5L1533.73 1293.64A178 178 0 0 0 1533.79 1292.99ZM1541.96 1303.27A187.3 187.3 0 0 1 1541.88 1303.84L1532.68 1302.51A178 178 0 0 0 1532.75 1301.97Z" fill="#c4c4c4"/>
<path d="M1541.37 1247.03A187.3 187.3 0 0 1 1541.5 1247.81L1532.31 1249.27A178 178 0 0 0 1532.19 1248.52ZM1541.48 1247.72A187.3 187.3 0 0 1 1541.58 1248.36L1532.39 1249.78A178 178 0 0 0 1532.3 1249.17ZM1541.57 1248.26A187.3 187.3 0 0 1 1542.01 1251.29L1532.8 1252.57A178 178 0 0 0 1532.38 1249.69ZM1542.68 1256.68A187.3 187.3 0 0 1 1542.78 1257.54L1533.53 1258.51A178 178 0 0 0 1533.44 1257.7ZM1543.73 1271.84A187.3 187.3 0 0 1 1543.73 1271.96L1534.43 1272.22A178 178 0 0 0 1534.43 1272.1ZM1543.76 1273.17A187.3 187.3 0 0 1 1543.77 1273.64L1534.47 1273.81A178 178 0 0 0 1534.46 1273.36ZM1543.77 1273.54A187.3 187.3 0 0 1 1543.79 1274.86L1534.49 1274.97A178 178 0 0 0 1534.47 1273.71ZM1543.57 1286.3A187.3 187.3 0 0 1 1543.54 1286.95L1534.25 1286.46A178 178 0 0 0 1534.29 1285.84ZM1543.55 1286.85A187.3 187.3 0 0 1 1543.5 1287.61L1534.22 1287.09A178 178 0 0 0 1534.26 1286.37ZM1543.51 1287.51A187.3 187.3 0 0 1 1543.44 1288.75L1534.16 1288.17A178 178 0 0 0 1534.22 1287Z" fill="#a8a8a8"/>
<path d="M1542.39 1254.14A187.3 187.3 0 0 1 1542.55 1255.51L1533.31 1256.58A178 178 0 0 0 1533.16 1255.28ZM1542.84 1258.2A187.3 187.3 0 0 1 1542.89 1258.66L1533.64 1259.57A178 178 0 0 0 1533.59 1259.14ZM1543.3 1263.47A187.3 187.3 0 0 1 1543.35 1264.1L1534.07 1264.75A178 178 0 0 0 1534.03 1264.14ZM1543.39 1264.69A187.3 187.3 0 0 1 1543.58 1267.94L1534.29 1268.4A178 178 0 0 0 1534.11 1265.3ZM1543.73 1271.87A187.3 187.3 0 0 1 1543.76 1273.26L1534.46 1273.45A178 178 0 0 0 1534.43 1272.13ZM1543.77 1280.24A187.3 187.3 0 0 1 1543.75 1281.43L1534.45 1281.21A178 178 0 0 0 1534.47 1280.09Z" fill="#8c8c8c"/>
<path d="M1543.57 1267.85A187.3 187.3 0 0 1 1543.62 1268.87L1534.33 1269.28A178 178 0 0 0 1534.28 1268.3ZM1542.6 1298.28A187.3 187.3 0 0 1 1542.58 1298.43L1533.34 1297.37A178 178 0 0 0 1533.36 1297.22ZM1542.59 1298.34A187.3 187.3 0 0 1 1541.99 1303.11L1532.78 1301.82A178 178 0 0 0 1533.35 1297.28ZM1541.78 1304.56A187.3 187.3 0 0 1 1541.61 1305.69L1532.41 1304.27A178 178 0 0 0 1532.58 1303.2Z" fill="#000000"/>
<path d="M1543 1294.43A187.3 187.3 0 0 1 1542.69 1297.5L1533.44 1296.49A178 178 0 0 0 1533.74 1293.57Z" fill="#1a1a1a"/>
<path d="M1542.39 1254.16A187.3 187.3 0 0 1 1542.63 1256.23L1533.39 1257.27A178 178 0 0 0 1533.16 1255.3Z" fill="#b8323a"/>
<path d="M1539.6 1237.68A187.3 187.3 0 0 1 1541.62 1305.59L1532.43 1304.18A178 178 0 0 0 1530.51 1239.64Z" fill="none" stroke="#111" stroke-width="1.25" stroke-linejoin="miter"/>
<text font-size="18.93" transform="translate(1569.72 1278.03) rotate(-1.7) scale(0.962 1)" text-anchor="middle" fill="#1a1a1a" stroke="#1a1a1a" stroke-width="0.3">4</text>
<path d="M1546.35 1309.55A192.6 192.6 0 0 1 1524.46 1371.36" fill="none" stroke="#cc3ade" stroke-width="2.6" />
<path d="M1541.04 1309.14A187.3 187.3 0 0 1 1541 1309.35L1531.84 1307.75A178 178 0 0 0 1531.88 1307.55ZM1540.76 1310.68A187.3 187.3 0 0 1 1540.48 1312.23L1531.34 1310.49A178 178 0 0 0 1531.62 1309.02ZM1534.07 1336.69A187.3 187.3 0 0 1 1533.31 1338.89L1524.54 1335.82A178 178 0 0 0 1525.25 1333.73ZM1532.87 1340.14A187.3 187.3 0 0 1 1532.79 1340.37L1524.04 1337.22A178 178 0 0 0 1524.11 1337.01ZM1524.75 1359.4A187.3 187.3 0 0 1 1523.39 1362.12L1515.1 1357.9A178 178 0 0 0 1516.39 1355.32Z" fill="#1a1a1a"/>
<path d="M1541.02 1309.25A187.3 187.3 0 0 1 1540.98 1309.46L1531.82 1307.85A178 178 0 0 0 1531.86 1307.65Z" fill="#5a5a5a"/>
<path d="M1541 1309.36A187.3 187.3 0 0 1 1540.75 1310.78L1531.6 1309.11A178 178 0 0 0 1531.84 1307.76ZM1538.32 1322.09A187.3 187.3 0 0 1 1538.28 1322.24L1529.25 1320A178 178 0 0 0 1529.29 1319.86ZM1536.1 1330.26A187.3 187.3 0 0 1 1535.77 1331.37L1526.87 1328.67A178 178 0 0 0 1527.18 1327.62Z" fill="#a8a8a8"/>
<path d="M1540.49 1312.14A187.3 187.3 0 0 1 1539.81 1315.54L1530.71 1313.63A178 178 0 0 0 1531.36 1310.4ZM1537.7 1324.51A187.3 187.3 0 0 1 1537.41 1325.6L1528.43 1323.2A178 178 0 0 0 1528.7 1322.15ZM1536.83 1327.71A187.3 187.3 0 0 1 1536.56 1328.66L1527.62 1326.1A178 178 0 0 0 1527.88 1325.2ZM1532.82 1340.27A187.3 187.3 0 0 1 1532.51 1341.14L1523.77 1337.96A178 178 0 0 0 1524.07 1337.14ZM1520.12 1368.27A187.3 187.3 0 0 1 1520.03 1368.42L1511.91 1363.88A178 178 0 0 0 1511.99 1363.74Z" fill="#000000"/>
<path d="M1539.83 1315.44A187.3 187.3 0 0 1 1539.57 1316.67L1530.48 1314.71A178 178 0 0 0 1530.73 1313.54ZM1539.3 1317.91A187.3 187.3 0 0 1 1538.59 1320.96L1529.55 1318.79A178 178 0 0 0 1530.22 1315.89ZM1537.39 1325.69A187.3 187.3 0 0 1 1537.26 1326.18L1528.28 1323.74A178 178 0 0 0 1528.41 1323.28ZM1535.58 1331.97A187.3 187.3 0 0 1 1535.53 1332.13L1526.64 1329.4A178 178 0 0 0 1526.69 1329.24ZM1533.35 1338.8A187.3 187.3 0 0 1 1533.2 1339.22L1524.42 1336.14A178 178 0 0 0 1524.57 1335.73ZM1532.54 1341.05A187.3 187.3 0 0 1 1531.24 1344.53L1522.56 1341.19A178 178 0 0 0 1523.8 1337.88ZM1524.78 1359.34A187.3 187.3 0 0 1 1524.71 1359.49L1516.35 1355.4A178 178 0 0 0 1516.42 1355.26ZM1522.29 1364.25A187.3 187.3 0 0 1 1521.97 1364.85L1513.76 1360.49A178 178 0 0 0 1514.06 1359.92Z" fill="#c4c4c4"/>
<path d="M1539.59 1316.58A187.3 187.3 0 0 1 1539.4 1317.45L1530.32 1315.44A178 178 0 0 0 1530.5 1314.61ZM1539.31 1317.85A187.3 187.3 0 0 1 1539.28 1318.01L1530.2 1315.98A178 178 0 0 0 1530.24 1315.83ZM1538.61 1320.87A187.3 187.3 0 0 1 1538.29 1322.19L1529.27 1319.95A178 178 0 0 0 1529.57 1318.7ZM1537.04 1326.98A187.3 187.3 0 0 1 1536.81 1327.81L1527.85 1325.29A178 178 0 0 0 1528.07 1324.5ZM1523.44 1362.03A187.3 187.3 0 0 1 1523.08 1362.73L1514.81 1358.48A178 178 0 0 0 1515.15 1357.82Z" fill="#8c8c8c"/>
<path d="M1539.42 1317.35A187.3 187.3 0 0 1 1539.29 1317.94L1530.22 1315.92A178 178 0 0 0 1530.34 1315.35ZM1537.98 1323.41A187.3 187.3 0 0 1 1537.68 1324.6L1528.68 1322.24A178 178 0 0 0 1528.97 1321.11ZM1528.36 1351.56A187.3 187.3 0 0 1 1528.08 1352.21L1519.56 1348.48A178 178 0 0 0 1519.83 1347.86ZM1527.15 1354.29A187.3 187.3 0 0 1 1525.26 1358.35L1516.88 1354.32A178 178 0 0 0 1518.68 1350.46ZM1521.51 1365.72A187.3 187.3 0 0 1 1521.36 1365.99L1513.17 1361.58A178 178 0 0 0 1513.32 1361.32Z" fill="#ffffff"/>
<path d="M1538.3 1322.15A187.3 187.3 0 0 1 1537.96 1323.51L1528.95 1321.2A178 178 0 0 0 1529.28 1319.91ZM1537.28 1326.08A187.3 187.3 0 0 1 1537.08 1326.82L1528.12 1324.35A178 178 0 0 0 1528.31 1323.65ZM1537.11 1326.72A187.3 187.3 0 0 1 1537.01 1327.07L1528.05 1324.59A178 178 0 0 0 1528.14 1324.26ZM1536.59 1328.57A187.3 187.3 0 0 1 1536.07 1330.35L1527.15 1327.71A178 178 0 0 0 1527.65 1326.02ZM1535.79 1331.27A187.3 187.3 0 0 1 1535.55 1332.06L1526.66 1329.33A178 178 0 0 0 1526.89 1328.58ZM1535.56 1332.04A187.3 187.3 0 0 1 1535.17 1333.31L1526.3 1330.52A178 178 0 0 0 1526.67 1329.31ZM1528.12 1352.12A187.3 187.3 0 0 1 1527.11 1354.38L1518.64 1350.55A178 178 0 0 0 1519.6 1348.39ZM1523.12 1362.64A187.3 187.3 0 0 1 1522.97 1362.95L1514.7 1358.69A178 178 0 0 0 1514.85 1358.4ZM1523.01 1362.86A187.3 187.3 0 0 1 1522.24 1364.34L1514.01 1360.01A178 178 0 0 0 1514.74 1358.6ZM1522.02 1364.76A187.3 187.3 0 0 1 1521.68 1365.41L1513.47 1361.02A178 178 0 0 0 1513.8 1360.41ZM1521.72 1365.32A187.3 187.3 0 0 1 1521.46 1365.8L1513.27 1361.4A178 178 0 0 0 1513.52 1360.94ZM1521.41 1365.91A187.3 187.3 0 0 1 1520.07 1368.35L1511.95 1363.82A178 178 0 0 0 1513.22 1361.5Z" fill="#d8d8d8"/>
<path d="M1537.44 1325.51A187.3 187.3 0 0 1 1537.36 1325.78L1528.38 1323.37A178 178 0 0 0 1528.45 1323.11ZM1535.2 1333.21A187.3 187.3 0 0 1 1534.49 1335.42L1525.65 1332.52A178 178 0 0 0 1526.32 1330.43ZM1534.52 1335.33A187.3 187.3 0 0 1 1534.06 1336.7L1525.25 1333.74A178 178 0 0 0 1525.68 1332.43ZM1534.1 1336.61A187.3 187.3 0 0 1 1534.04 1336.78L1525.22 1333.81A178 178 0 0 0 1525.28 1333.65ZM1533.23 1339.13A187.3 187.3 0 0 1 1532.84 1340.23L1524.08 1337.1A178 178 0 0 0 1524.46 1336.05ZM1531.27 1344.44A187.3 187.3 0 0 1 1531.06 1344.99L1522.4 1341.62A178 178 0 0 0 1522.6 1341.1ZM1531.1 1344.9A187.3 187.3 0 0 1 1528.32 1351.65L1519.79 1347.95A178 178 0 0 0 1522.43 1341.53ZM1525.3 1358.27A187.3 187.3 0 0 1 1524.86 1359.18L1516.5 1355.1A178 178 0 0 0 1516.92 1354.24ZM1524.9 1359.09A187.3 187.3 0 0 1 1524.74 1359.43L1516.38 1355.34A178 178 0 0 0 1516.54 1355.02Z" fill="#f0f0f0"/>
<path d="M1537.64 1324.76A187.3 187.3 0 0 1 1537.09 1326.78L1528.12 1324.31A178 178 0 0 0 1528.64 1322.39Z" fill="#b8323a"/>
<path d="M1541.04 1309.14A187.3 187.3 0 0 1 1520.08 1368.33L1511.96 1363.8A178 178 0 0 0 1531.88 1307.55Z" fill="none" stroke="#111" stroke-width="1.25" stroke-linejoin="miter"/>
<text font-size="18.93" transform="translate(1557.1 1350.7) rotate(19.5) scale(0.962 1)" text-anchor="middle" fill="#1a1a1a" stroke="#1a1a1a" stroke-width="0.3">5</text>
<path d="M1523.13 1373.69A192.6 192.6 0 0 1 1482.6 1422.68" fill="none" stroke="#3f7f24" stroke-width="2.6" />
<path d="M1518.3 1371.46A187.3 187.3 0 0 1 1518.24 1371.55L1510.21 1366.86A178 178 0 0 0 1510.26 1366.77ZM1514.22 1378.13A187.3 187.3 0 0 1 1513.29 1379.57L1505.5 1374.48A178 178 0 0 0 1506.38 1373.11ZM1513.34 1379.49A187.3 187.3 0 0 1 1511.19 1382.7L1503.51 1377.46A178 178 0 0 0 1505.55 1374.4ZM1505.08 1391.14A187.3 187.3 0 0 1 1504.89 1391.38L1497.52 1385.71A178 178 0 0 0 1497.7 1385.48ZM1502.9 1393.92A187.3 187.3 0 0 1 1502.4 1394.54L1495.16 1388.71A178 178 0 0 0 1495.63 1388.12ZM1499.86 1397.64A187.3 187.3 0 0 1 1498.73 1398.97L1491.66 1392.92A178 178 0 0 0 1492.74 1391.65ZM1495.64 1402.49A187.3 187.3 0 0 1 1495.3 1402.86L1488.41 1396.62A178 178 0 0 0 1488.73 1396.26ZM1493.47 1404.85A187.3 187.3 0 0 1 1492.71 1405.66L1485.95 1399.27A178 178 0 0 0 1486.67 1398.51ZM1492.78 1405.59A187.3 187.3 0 0 1 1492.25 1406.14L1485.51 1399.73A178 178 0 0 0 1486.01 1399.21ZM1487.34 1411.12A187.3 187.3 0 0 1 1486.26 1412.17L1479.81 1405.47A178 178 0 0 0 1480.84 1404.47ZM1486.33 1412.11A187.3 187.3 0 0 1 1485.96 1412.46L1479.53 1405.74A178 178 0 0 0 1479.88 1405.4ZM1484.24 1414.08A187.3 187.3 0 0 1 1483.08 1415.15L1476.8 1408.3A178 178 0 0 0 1477.9 1407.28ZM1482.84 1415.37A187.3 187.3 0 0 1 1482.11 1416.04L1475.87 1409.14A178 178 0 0 0 1476.57 1408.51ZM1481.61 1416.48A187.3 187.3 0 0 1 1480.7 1417.29L1474.54 1410.33A178 178 0 0 0 1475.4 1409.56Z" fill="#f0f0f0"/>
<path d="M1518.29 1371.47A187.3 187.3 0 0 1 1517.57 1372.69L1509.57 1367.94A178 178 0 0 0 1510.26 1366.78ZM1514.84 1377.15A187.3 187.3 0 0 1 1514.68 1377.4L1506.83 1372.42A178 178 0 0 0 1506.97 1372.19ZM1509.33 1385.38A187.3 187.3 0 0 1 1508.1 1387.09L1500.58 1381.63A178 178 0 0 0 1501.74 1380ZM1504.95 1391.31A187.3 187.3 0 0 1 1504.59 1391.78L1497.23 1386.09A178 178 0 0 0 1497.58 1385.64ZM1499.94 1397.54A187.3 187.3 0 0 1 1499.8 1397.71L1492.68 1391.72A178 178 0 0 0 1492.82 1391.56ZM1485.7 1412.7A187.3 187.3 0 0 1 1485.18 1413.19L1478.79 1406.44A178 178 0 0 0 1479.28 1405.97Z" fill="#a8a8a8"/>
<path d="M1517.62 1372.61A187.3 187.3 0 0 1 1517.24 1373.24L1509.26 1368.46A178 178 0 0 0 1509.62 1367.86ZM1510.12 1384.25A187.3 187.3 0 0 1 1509.95 1384.5L1502.33 1379.17A178 178 0 0 0 1502.49 1378.93ZM1502.47 1394.47A187.3 187.3 0 0 1 1501.79 1395.3L1494.58 1389.43A178 178 0 0 0 1495.22 1388.64ZM1480.78 1417.23A187.3 187.3 0 0 1 1479.43 1418.41L1473.33 1411.4A178 178 0 0 0 1474.61 1410.27Z" fill="#ffffff"/>
<path d="M1517.29 1373.15A187.3 187.3 0 0 1 1517.01 1373.62L1509.04 1368.83A178 178 0 0 0 1509.31 1368.38ZM1510.12 1384.25A187.3 187.3 0 0 1 1510.07 1384.33L1502.44 1379.01A178 178 0 0 0 1502.49 1378.93ZM1508.16 1387.01A187.3 187.3 0 0 1 1505.02 1391.22L1497.65 1385.55A178 178 0 0 0 1500.63 1381.55ZM1501.85 1395.23A187.3 187.3 0 0 1 1500.62 1396.72L1493.47 1390.79A178 178 0 0 0 1494.64 1389.36ZM1500.68 1396.65A187.3 187.3 0 0 1 1499.88 1397.61L1492.76 1391.63A178 178 0 0 0 1493.53 1390.71ZM1494.99 1403.21A187.3 187.3 0 0 1 1494.84 1403.36L1487.98 1397.09A178 178 0 0 0 1488.11 1396.94ZM1491.81 1406.61A187.3 187.3 0 0 1 1489.9 1408.57L1483.28 1402.04A178 178 0 0 0 1485.09 1400.18ZM1486.03 1412.39A187.3 187.3 0 0 1 1485.63 1412.77L1479.22 1406.04A178 178 0 0 0 1479.6 1405.67ZM1483.15 1415.09A187.3 187.3 0 0 1 1482.77 1415.44L1476.5 1408.57A178 178 0 0 0 1476.86 1408.24Z" fill="#d8d8d8"/>
<path d="M1517.07 1373.54A187.3 187.3 0 0 1 1516.04 1375.23L1508.11 1370.36A178 178 0 0 0 1509.09 1368.75ZM1514.28 1378.02A187.3 187.3 0 0 1 1514.16 1378.21L1506.33 1373.19A178 178 0 0 0 1506.45 1373.01ZM1510 1384.42A187.3 187.3 0 0 1 1509.27 1385.46L1501.69 1380.08A178 178 0 0 0 1502.38 1379.09ZM1497.36 1400.55A187.3 187.3 0 0 1 1495.57 1402.56L1488.67 1396.33A178 178 0 0 0 1490.37 1394.42ZM1489.22 1409.26A187.3 187.3 0 0 1 1487.27 1411.19L1480.78 1404.53A178 178 0 0 0 1482.63 1402.7Z" fill="#c4c4c4"/>
<path d="M1516.09 1375.15A187.3 187.3 0 0 1 1514.78 1377.24L1506.92 1372.27A178 178 0 0 0 1508.16 1370.28ZM1511.25 1382.62A187.3 187.3 0 0 1 1510.62 1383.54L1502.97 1378.25A178 178 0 0 0 1503.57 1377.38ZM1495.37 1402.79A187.3 187.3 0 0 1 1494.92 1403.28L1488.05 1397.01A178 178 0 0 0 1488.47 1396.55ZM1489.97 1408.5A187.3 187.3 0 0 1 1489.15 1409.33L1482.56 1402.76A178 178 0 0 0 1483.35 1401.98ZM1485.26 1413.13A187.3 187.3 0 0 1 1484.17 1414.15L1477.83 1407.34A178 178 0 0 0 1478.86 1406.37ZM1482.18 1415.98A187.3 187.3 0 0 1 1481.54 1416.55L1475.33 1409.63A178 178 0 0 0 1475.94 1409.08Z" fill="#000000"/>
<path d="M1514.74 1377.31A187.3 187.3 0 0 1 1514.23 1378.1L1506.4 1373.09A178 178 0 0 0 1506.88 1372.34ZM1504.65 1391.7A187.3 187.3 0 0 1 1502.84 1394L1495.58 1388.19A178 178 0 0 0 1497.29 1386.01Z" fill="#1a1a1a"/>
<path d="M1510.67 1383.45A187.3 187.3 0 0 1 1510.07 1384.33L1502.44 1379.01A178 178 0 0 0 1503.02 1378.17ZM1497.53 1400.35A187.3 187.3 0 0 1 1497.3 1400.62L1490.31 1394.49A178 178 0 0 0 1490.53 1394.23ZM1492.32 1406.07A187.3 187.3 0 0 1 1491.74 1406.68L1485.02 1400.25A178 178 0 0 0 1485.58 1399.67Z" fill="#8c8c8c"/>
<path d="M1498.79 1398.9A187.3 187.3 0 0 1 1497.47 1400.42L1490.47 1394.3A178 178 0 0 0 1491.72 1392.85ZM1494.91 1403.29A187.3 187.3 0 0 1 1493.4 1404.92L1486.61 1398.57A178 178 0 0 0 1488.04 1397.02Z" fill="#5a5a5a"/>
<path d="M1506.75 1388.94A187.3 187.3 0 0 1 1505.49 1390.61L1498.09 1384.97A178 178 0 0 0 1499.29 1383.38Z" fill="#b8323a"/>
<path d="M1518.3 1371.46A187.3 187.3 0 0 1 1479.5 1418.35L1473.4 1411.34A178 178 0 0 0 1510.26 1366.77Z" fill="none" stroke="#111" stroke-width="1.25" stroke-linejoin="miter"/>
<text font-size="18.93" transform="translate(1520 1411.23) rotate(39.6) scale(0.962 1)" text-anchor="middle" fill="#1a1a1a" stroke="#1a1a1a" stroke-width="0.3">6</text>
<path d="M1480.56 1424.42A192.6 192.6 0 0 1 1430.52 1454.91" fill="none" stroke="#1c1ccc" stroke-width="2.6" />
<path d="M1476.77 1420.69A187.3 187.3 0 0 1 1476.57 1420.85L1470.61 1413.71A178 178 0 0 0 1470.8 1413.56ZM1476.65 1420.79A187.3 187.3 0 0 1 1475.38 1421.83L1469.48 1414.65A178 178 0 0 0 1470.68 1413.65ZM1475.26 1421.94A187.3 187.3 0 0 1 1474.93 1422.2L1469.05 1415A178 178 0 0 0 1469.36 1414.74ZM1474.63 1422.45A187.3 187.3 0 0 1 1474.08 1422.89L1468.24 1415.66A178 178 0 0 0 1468.77 1415.23ZM1474.16 1422.83A187.3 187.3 0 0 1 1473.97 1422.98L1468.14 1415.74A178 178 0 0 0 1468.32 1415.6ZM1460.98 1432.55A187.3 187.3 0 0 1 1460.66 1432.77L1455.48 1425.04A178 178 0 0 0 1455.79 1424.83ZM1460.38 1432.95A187.3 187.3 0 0 1 1459.9 1433.27L1454.77 1425.52A178 178 0 0 0 1455.22 1425.21ZM1442.54 1443.47A187.3 187.3 0 0 1 1441.78 1443.86L1437.54 1435.58A178 178 0 0 0 1438.27 1435.21ZM1441.86 1443.82A187.3 187.3 0 0 1 1441.73 1443.89L1437.49 1435.61A178 178 0 0 0 1437.62 1435.54ZM1441.81 1443.84A187.3 187.3 0 0 1 1440.75 1444.38L1436.57 1436.07A178 178 0 0 0 1437.58 1435.56ZM1433.08 1448.03A187.3 187.3 0 0 1 1432.96 1448.08L1429.17 1439.59A178 178 0 0 0 1429.28 1439.54ZM1431.23 1448.85A187.3 187.3 0 0 1 1430.69 1449.08L1427.01 1440.54A178 178 0 0 0 1427.52 1440.32Z" fill="#d8d8d8"/>
<path d="M1475.46 1421.77A187.3 187.3 0 0 1 1475.31 1421.89L1469.41 1414.7A178 178 0 0 0 1469.55 1414.59ZM1468.25 1427.41A187.3 187.3 0 0 1 1467.52 1427.95L1462.01 1420.46A178 178 0 0 0 1462.7 1419.95ZM1462.01 1431.85A187.3 187.3 0 0 1 1461.82 1431.98L1456.59 1424.29A178 178 0 0 0 1456.77 1424.17ZM1461.9 1431.93A187.3 187.3 0 0 1 1460.9 1432.61L1455.71 1424.89A178 178 0 0 0 1456.67 1424.24ZM1459.93 1433.25A187.3 187.3 0 0 1 1459.63 1433.45L1454.51 1425.69A178 178 0 0 0 1454.79 1425.5ZM1433.05 1448.04A187.3 187.3 0 0 1 1432.37 1448.34L1428.61 1439.84A178 178 0 0 0 1429.25 1439.55ZM1432.24 1448.4A187.3 187.3 0 0 1 1431.14 1448.88L1427.44 1440.36A178 178 0 0 0 1428.48 1439.9Z" fill="#000000"/>
<path d="M1475.39 1421.83A187.3 187.3 0 0 1 1475.18 1422L1469.29 1414.8A178 178 0 0 0 1469.49 1414.64ZM1468.59 1427.16A187.3 187.3 0 0 1 1468.17 1427.47L1462.63 1420A178 178 0 0 0 1463.02 1419.71ZM1445.93 1441.67A187.3 187.3 0 0 1 1442.45 1443.51L1438.19 1435.25A178 178 0 0 0 1441.49 1433.5Z" fill="#a8a8a8"/>
<path d="M1475.01 1422.14A187.3 187.3 0 0 1 1474.56 1422.51L1468.69 1415.29A178 178 0 0 0 1469.12 1414.94ZM1471.35 1425.05A187.3 187.3 0 0 1 1469.24 1426.67L1463.64 1419.24A178 178 0 0 0 1465.65 1417.71ZM1458.19 1434.39A187.3 187.3 0 0 1 1457.09 1435.1L1452.09 1427.25A178 178 0 0 0 1453.14 1426.58ZM1455.22 1436.27A187.3 187.3 0 0 1 1445.85 1441.72L1441.41 1433.54A178 178 0 0 0 1450.32 1428.37ZM1438.05 1445.71A187.3 187.3 0 0 1 1434.83 1447.23L1430.94 1438.79A178 178 0 0 0 1434 1437.34Z" fill="#8c8c8c"/>
<path d="M1474.05 1422.92A187.3 187.3 0 0 1 1471.28 1425.11L1465.58 1417.76A178 178 0 0 0 1468.21 1415.68ZM1467.6 1427.89A187.3 187.3 0 0 1 1465.26 1429.59L1459.86 1422.01A178 178 0 0 0 1462.09 1420.4ZM1438.57 1445.46A187.3 187.3 0 0 1 1437.99 1445.75L1433.94 1437.37A178 178 0 0 0 1434.49 1437.1ZM1434.24 1447.51A187.3 187.3 0 0 1 1434.09 1447.57L1430.23 1439.11A178 178 0 0 0 1430.38 1439.05ZM1434.18 1447.53A187.3 187.3 0 0 1 1434.07 1447.58L1430.22 1439.12A178 178 0 0 0 1430.32 1439.07ZM1430.78 1449.04A187.3 187.3 0 0 1 1428.97 1449.81L1425.37 1441.24A178 178 0 0 0 1427.09 1440.5ZM1429.06 1449.77A187.3 187.3 0 0 1 1428.84 1449.87L1425.25 1441.29A178 178 0 0 0 1425.46 1441.2Z" fill="#ffffff"/>
<path d="M1469.32 1426.61A187.3 187.3 0 0 1 1468.51 1427.22L1462.95 1419.76A178 178 0 0 0 1463.72 1419.18ZM1432.46 1448.3A187.3 187.3 0 0 1 1432.15 1448.44L1428.4 1439.93A178 178 0 0 0 1428.69 1439.8Z" fill="#1a1a1a"/>
<path d="M1465.34 1429.53A187.3 187.3 0 0 1 1464.22 1430.33L1458.87 1422.72A178 178 0 0 0 1459.94 1421.96ZM1460.74 1432.71A187.3 187.3 0 0 1 1460.3 1433.01L1455.15 1425.27A178 178 0 0 0 1455.56 1424.99ZM1459.71 1433.4A187.3 187.3 0 0 1 1458.94 1433.91L1453.85 1426.12A178 178 0 0 0 1454.58 1425.64ZM1438.07 1445.7A187.3 187.3 0 0 1 1437.96 1445.76L1433.92 1437.38A178 178 0 0 0 1434.02 1437.33ZM1434.92 1447.19A187.3 187.3 0 0 1 1434.15 1447.55L1430.29 1439.08A178 178 0 0 0 1431.03 1438.75Z" fill="#f0f0f0"/>
<path d="M1464.3 1430.27A187.3 187.3 0 0 1 1461.93 1431.91L1456.7 1424.22A178 178 0 0 0 1458.95 1422.66ZM1459.98 1433.22A187.3 187.3 0 0 1 1459.85 1433.31L1454.72 1425.55A178 178 0 0 0 1454.85 1425.46ZM1434.16 1447.54A187.3 187.3 0 0 1 1432.99 1448.07L1429.2 1439.58A178 178 0 0 0 1430.3 1439.08Z" fill="#c4c4c4"/>
<path d="M1459.02 1433.85A187.3 187.3 0 0 1 1458.11 1434.44L1453.07 1426.63A178 178 0 0 0 1453.93 1426.07ZM1457.17 1435.05A187.3 187.3 0 0 1 1455.13 1436.33L1450.24 1428.42A178 178 0 0 0 1452.17 1427.2ZM1440.84 1444.34A187.3 187.3 0 0 1 1438.48 1445.51L1434.41 1437.14A178 178 0 0 0 1436.65 1436.03Z" fill="#5a5a5a"/>
<path d="M1460.75 1432.71A187.3 187.3 0 0 1 1459 1433.86L1453.91 1426.08A178 178 0 0 0 1455.57 1424.98Z" fill="#b8323a"/>
<path d="M1476.77 1420.69A187.3 187.3 0 0 1 1428.93 1449.83L1425.33 1441.25A178 178 0 0 0 1470.8 1413.56Z" fill="none" stroke="#111" stroke-width="1.25" stroke-linejoin="miter"/>
<text font-size="18.93" transform="translate(1469.59 1451.21) rotate(58.65) scale(0.962 1)" text-anchor="middle" fill="#1a1a1a" stroke="#1a1a1a" stroke-width="0.3">7</text>
<path d="M1428.03 1455.93A192.6 192.6 0 0 1 1375.63 1468.75" fill="none" stroke="#a06048" stroke-width="2.6" />
<path d="M1425.6 1451.19A187.3 187.3 0 0 1 1423.57 1451.98L1420.24 1443.3A178 178 0 0 0 1422.17 1442.54ZM1419.84 1453.36A187.3 187.3 0 0 1 1419.66 1453.43L1416.52 1444.68A178 178 0 0 0 1416.7 1444.61ZM1413.67 1455.46A187.3 187.3 0 0 1 1413.48 1455.52L1410.65 1446.66A178 178 0 0 0 1410.84 1446.6ZM1403.67 1458.36A187.3 187.3 0 0 1 1402.19 1458.74L1399.92 1449.72A178 178 0 0 0 1401.33 1449.36ZM1400.65 1459.12A187.3 187.3 0 0 1 1397.56 1459.84L1395.52 1450.77A178 178 0 0 0 1398.46 1450.08ZM1392.73 1460.86A187.3 187.3 0 0 1 1392.14 1460.98L1390.37 1451.85A178 178 0 0 0 1390.93 1451.74ZM1384.86 1462.24A187.3 187.3 0 0 1 1383.66 1462.42L1382.32 1453.22A178 178 0 0 0 1383.45 1453.05ZM1383.76 1462.41A187.3 187.3 0 0 1 1383.65 1462.42L1382.3 1453.22A178 178 0 0 0 1382.41 1453.2ZM1383.75 1462.41A187.3 187.3 0 0 1 1383.34 1462.47L1382 1453.26A178 178 0 0 0 1382.39 1453.21ZM1381.53 1462.72A187.3 187.3 0 0 1 1379.89 1462.93L1378.73 1453.71A178 178 0 0 0 1380.29 1453.5ZM1379.17 1463.02A187.3 187.3 0 0 1 1376.88 1463.29L1375.87 1454.04A178 178 0 0 0 1378.05 1453.79ZM1376.98 1463.28A187.3 187.3 0 0 1 1375.96 1463.39L1374.99 1454.14A178 178 0 0 0 1375.96 1454.03Z" fill="#d8d8d8"/>
<path d="M1423.66 1451.95A187.3 187.3 0 0 1 1420.57 1453.1L1417.39 1444.36A178 178 0 0 0 1420.33 1443.26ZM1376.06 1463.38A187.3 187.3 0 0 1 1375.88 1463.39L1374.92 1454.14A178 178 0 0 0 1375.08 1454.13Z" fill="#1a1a1a"/>
<path d="M1420.66 1453.07A187.3 187.3 0 0 1 1419.75 1453.4L1416.61 1444.64A178 178 0 0 0 1417.48 1444.33ZM1396.83 1460.01A187.3 187.3 0 0 1 1394.86 1460.43L1392.96 1451.33A178 178 0 0 0 1394.83 1450.92ZM1392.24 1460.96A187.3 187.3 0 0 1 1390.33 1461.32L1388.65 1452.17A178 178 0 0 0 1390.46 1451.83ZM1379.98 1462.92A187.3 187.3 0 0 1 1379.08 1463.03L1377.96 1453.8A178 178 0 0 0 1378.82 1453.7Z" fill="#c4c4c4"/>
<path d="M1419.75 1453.4A187.3 187.3 0 0 1 1418.09 1453.98L1415.03 1445.2A178 178 0 0 0 1416.61 1444.64Z" fill="#8c8c8c"/>
<path d="M1418.18 1453.95A187.3 187.3 0 0 1 1416.32 1454.59L1413.35 1445.78A178 178 0 0 0 1415.12 1445.17ZM1383.43 1462.45A187.3 187.3 0 0 1 1381.43 1462.73L1380.2 1453.52A178 178 0 0 0 1382.1 1453.25ZM1375.98 1463.38A187.3 187.3 0 0 1 1375.49 1463.43L1374.55 1454.18A178 178 0 0 0 1375.01 1454.13Z" fill="#000000"/>
<path d="M1416.41 1454.56A187.3 187.3 0 0 1 1415.85 1454.75L1412.9 1445.93A178 178 0 0 0 1413.44 1445.75ZM1405.18 1457.96A187.3 187.3 0 0 1 1403.58 1458.39L1401.24 1449.39A178 178 0 0 0 1402.76 1448.98ZM1394.96 1460.41A187.3 187.3 0 0 1 1393.19 1460.77L1391.37 1451.65A178 178 0 0 0 1393.05 1451.31ZM1393.29 1460.75A187.3 187.3 0 0 1 1392.63 1460.88L1390.84 1451.76A178 178 0 0 0 1391.46 1451.63ZM1388.99 1461.56A187.3 187.3 0 0 1 1388.39 1461.67L1386.8 1452.5A178 178 0 0 0 1387.37 1452.4Z" fill="#ffffff"/>
<path d="M1415.94 1454.72A187.3 187.3 0 0 1 1414.27 1455.27L1411.4 1446.42A178 178 0 0 0 1412.99 1445.9ZM1414.36 1455.24A187.3 187.3 0 0 1 1414.13 1455.31L1411.27 1446.46A178 178 0 0 0 1411.49 1446.39ZM1409.68 1456.69A187.3 187.3 0 0 1 1407.27 1457.39L1404.75 1448.44A178 178 0 0 0 1407.04 1447.78ZM1407.36 1457.36A187.3 187.3 0 0 1 1406.12 1457.71L1403.66 1448.74A178 178 0 0 0 1404.84 1448.41ZM1402.28 1458.72A187.3 187.3 0 0 1 1401 1459.04L1398.79 1450A178 178 0 0 0 1400.01 1449.7ZM1390.43 1461.3A187.3 187.3 0 0 1 1388.89 1461.58L1387.28 1452.42A178 178 0 0 0 1388.74 1452.16ZM1385.4 1462.16A187.3 187.3 0 0 1 1384.76 1462.26L1383.36 1453.06A178 178 0 0 0 1383.97 1452.97Z" fill="#a8a8a8"/>
<path d="M1414.22 1455.28A187.3 187.3 0 0 1 1413.58 1455.49L1410.75 1446.63A178 178 0 0 0 1411.36 1446.44ZM1413.57 1455.49A187.3 187.3 0 0 1 1411.2 1456.24L1408.48 1447.34A178 178 0 0 0 1410.74 1446.64ZM1411.29 1456.21A187.3 187.3 0 0 1 1411.19 1456.24L1408.48 1447.34A178 178 0 0 0 1408.57 1447.31ZM1411.29 1456.21A187.3 187.3 0 0 1 1409.58 1456.72L1406.95 1447.8A178 178 0 0 0 1408.57 1447.31ZM1406.21 1457.68A187.3 187.3 0 0 1 1405.08 1457.99L1402.67 1449.01A178 178 0 0 0 1403.75 1448.72ZM1401.1 1459.01A187.3 187.3 0 0 1 1400.56 1459.15L1398.37 1450.11A178 178 0 0 0 1398.88 1449.98ZM1397.66 1459.82A187.3 187.3 0 0 1 1396.99 1459.97L1394.98 1450.89A178 178 0 0 0 1395.61 1450.75ZM1388.48 1461.65A187.3 187.3 0 0 1 1385.3 1462.17L1383.87 1452.98A178 178 0 0 0 1386.9 1452.49Z" fill="#f0f0f0"/>
<path d="M1397.08 1459.95A187.3 187.3 0 0 1 1396.74 1460.03L1394.74 1450.94A178 178 0 0 0 1395.07 1450.87Z" fill="#5a5a5a"/>
<path d="M1411.49 1456.15A187.3 187.3 0 0 1 1409.48 1456.75L1406.85 1447.83A178 178 0 0 0 1408.76 1447.26Z" fill="#b8323a"/>
<path d="M1425.6 1451.19A187.3 187.3 0 0 1 1375.59 1463.42L1374.64 1454.17A178 178 0 0 0 1422.17 1442.54Z" fill="none" stroke="#111" stroke-width="1.25" stroke-linejoin="miter"/>
<text font-size="18.93" transform="translate(1411.68 1474.94) rotate(76.25) scale(0.962 1)" text-anchor="middle" fill="#1a1a1a" stroke="#1a1a1a" stroke-width="0.3">8</text>
<path d="M1372.95 1469A192.6 192.6 0 0 1 1321.73 1466.54" fill="none" stroke="#c9669a" stroke-width="2.6" />
<path d="M1372.01 1463.76A187.3 187.3 0 0 1 1371.63 1463.79L1370.87 1454.52A178 178 0 0 0 1371.24 1454.49ZM1369.4 1463.96A187.3 187.3 0 0 1 1367.56 1464.07L1367.01 1454.79A178 178 0 0 0 1368.76 1454.68ZM1367.66 1464.07A187.3 187.3 0 0 1 1366.59 1464.13L1366.09 1454.84A178 178 0 0 0 1367.1 1454.78ZM1351.25 1464.33A187.3 187.3 0 0 1 1349.33 1464.26L1349.69 1454.97A178 178 0 0 0 1351.51 1455.03ZM1327.53 1462.15A187.3 187.3 0 0 1 1326.68 1462.01L1328.16 1452.83A178 178 0 0 0 1328.97 1452.96Z" fill="#5a5a5a"/>
<path d="M1371.72 1463.78A187.3 187.3 0 0 1 1371.19 1463.82L1370.46 1454.55A178 178 0 0 0 1370.97 1454.51ZM1366.69 1464.12A187.3 187.3 0 0 1 1365.72 1464.17L1365.26 1454.88A178 178 0 0 0 1366.18 1454.84ZM1365.81 1464.17A187.3 187.3 0 0 1 1364.77 1464.22L1364.36 1454.93A178 178 0 0 0 1365.35 1454.88ZM1362.36 1464.31A187.3 187.3 0 0 1 1362.25 1464.31L1361.97 1455.02A178 178 0 0 0 1362.07 1455.01ZM1362.35 1464.31A187.3 187.3 0 0 1 1361.94 1464.32L1361.67 1455.02A178 178 0 0 0 1362.06 1455.01ZM1349.43 1464.27A187.3 187.3 0 0 1 1348.26 1464.22L1348.67 1454.93A178 178 0 0 0 1349.78 1454.97ZM1327.93 1462.21A187.3 187.3 0 0 1 1327.71 1462.17L1329.14 1452.98A178 178 0 0 0 1329.35 1453.02ZM1326.74 1462.02A187.3 187.3 0 0 1 1325.82 1461.87L1327.35 1452.7A178 178 0 0 0 1328.22 1452.84ZM1324.35 1461.62A187.3 187.3 0 0 1 1323.07 1461.39L1324.73 1452.24A178 178 0 0 0 1325.95 1452.46Z" fill="#f0f0f0"/>
<path d="M1371.28 1463.82A187.3 187.3 0 0 1 1369.3 1463.96L1368.67 1454.68A178 178 0 0 0 1370.55 1454.54ZM1364.87 1464.21A187.3 187.3 0 0 1 1364.07 1464.25L1363.69 1454.95A178 178 0 0 0 1364.46 1454.92ZM1364.06 1464.25A187.3 187.3 0 0 1 1362.26 1464.31L1361.97 1455.02A178 178 0 0 0 1363.68 1454.96ZM1346.48 1464.13A187.3 187.3 0 0 1 1344.89 1464.04L1345.47 1454.76A178 178 0 0 0 1346.98 1454.84ZM1344.99 1464.05A187.3 187.3 0 0 1 1341.53 1463.8L1342.27 1454.53A178 178 0 0 0 1345.56 1454.76ZM1341.53 1463.8A187.3 187.3 0 0 1 1340.53 1463.72L1341.33 1454.45A178 178 0 0 0 1342.28 1454.53ZM1332.63 1462.87A187.3 187.3 0 0 1 1331.78 1462.76L1333 1453.54A178 178 0 0 0 1333.81 1453.65Z" fill="#d8d8d8"/>
<path d="M1364.17 1464.24A187.3 187.3 0 0 1 1363.96 1464.25L1363.59 1454.96A178 178 0 0 0 1363.79 1454.95ZM1353.84 1464.38A187.3 187.3 0 0 1 1352.91 1464.37L1353.09 1455.07A178 178 0 0 0 1353.98 1455.08ZM1347.98 1464.21A187.3 187.3 0 0 1 1347.2 1464.17L1347.66 1454.88A178 178 0 0 0 1348.4 1454.92ZM1341.62 1463.81A187.3 187.3 0 0 1 1341.44 1463.79L1342.18 1454.52A178 178 0 0 0 1342.36 1454.54ZM1336.37 1463.31A187.3 187.3 0 0 1 1332.53 1462.86L1333.72 1453.64A178 178 0 0 0 1337.37 1454.07ZM1328.84 1462.35A187.3 187.3 0 0 1 1327.83 1462.19L1329.25 1453A178 178 0 0 0 1330.21 1453.15ZM1326.77 1462.03A187.3 187.3 0 0 1 1326.64 1462L1328.13 1452.82A178 178 0 0 0 1328.25 1452.84ZM1325.92 1461.89A187.3 187.3 0 0 1 1324.67 1461.68L1326.25 1452.51A178 178 0 0 0 1327.44 1452.71Z" fill="#c4c4c4"/>
<path d="M1362.04 1464.32A187.3 187.3 0 0 1 1358.04 1464.39L1357.96 1455.09A178 178 0 0 0 1361.77 1455.02ZM1353.01 1464.37A187.3 187.3 0 0 1 1352.01 1464.35L1352.23 1455.05A178 178 0 0 0 1353.18 1455.07ZM1327.8 1462.19A187.3 187.3 0 0 1 1327.44 1462.13L1328.88 1452.94A178 178 0 0 0 1329.23 1453Z" fill="#8c8c8c"/>
<path d="M1358.14 1464.39A187.3 187.3 0 0 1 1354.09 1464.38L1354.21 1455.09A178 178 0 0 0 1358.06 1455.09Z" fill="#1a1a1a"/>
<path d="M1354.19 1464.39A187.3 187.3 0 0 1 1353.75 1464.38L1353.88 1455.08A178 178 0 0 0 1354.3 1455.09ZM1352.11 1464.35A187.3 187.3 0 0 1 1351.15 1464.32L1351.42 1455.03A178 178 0 0 0 1352.33 1455.05ZM1331.87 1462.77A187.3 187.3 0 0 1 1331.57 1462.73L1332.81 1453.52A178 178 0 0 0 1333.1 1453.55ZM1324.77 1461.69A187.3 187.3 0 0 1 1324.26 1461.6L1325.86 1452.44A178 178 0 0 0 1326.35 1452.53Z" fill="#ffffff"/>
<path d="M1348.36 1464.22A187.3 187.3 0 0 1 1347.88 1464.2L1348.31 1454.91A178 178 0 0 0 1348.76 1454.93ZM1347.3 1464.17A187.3 187.3 0 0 1 1346.38 1464.13L1346.88 1454.84A178 178 0 0 0 1347.75 1454.88ZM1340.63 1463.73A187.3 187.3 0 0 1 1336.27 1463.3L1337.27 1454.06A178 178 0 0 0 1341.42 1454.46ZM1331.67 1462.75A187.3 187.3 0 0 1 1328.74 1462.33L1330.12 1453.13A178 178 0 0 0 1332.9 1453.53Z" fill="#a8a8a8"/>
<path d="M1355.91 1464.4A187.3 187.3 0 0 1 1353.82 1464.38L1353.95 1455.08A178 178 0 0 0 1355.94 1455.1Z" fill="#b8323a"/>
<path d="M1353.82 1464.38A187.3 187.3 0 0 1 1351.27 1464.33L1351.53 1455.03A178 178 0 0 0 1353.95 1455.08Z" fill="#111"/>
<path d="M1372.01 1463.76A187.3 187.3 0 0 1 1323.17 1461.41L1324.83 1452.26A178 178 0 0 0 1371.24 1454.49Z" fill="none" stroke="#111" stroke-width="1.25" stroke-linejoin="miter"/>
<text font-size="18.93" transform="translate(1340.89 1481.01) rotate(-87.25) scale(0.962 1)" text-anchor="middle" fill="#1a1a1a" stroke="#1a1a1a" stroke-width="0.3">9</text>
<path d="M1319.09 1466.03A192.6 192.6 0 0 1 1271.16 1449.76" fill="none" stroke="#55b074" stroke-width="2.6" />
<path d="M1319.64 1460.74A187.3 187.3 0 0 1 1317.61 1460.32L1319.54 1451.22A178 178 0 0 0 1321.47 1451.62ZM1307.26 1457.81A187.3 187.3 0 0 1 1306.6 1457.63L1309.08 1448.67A178 178 0 0 0 1309.71 1448.84ZM1296.11 1454.4A187.3 187.3 0 0 1 1295.93 1454.33L1298.93 1445.53A178 178 0 0 0 1299.11 1445.6ZM1295.83 1454.3A187.3 187.3 0 0 1 1295.68 1454.25L1298.7 1445.45A178 178 0 0 0 1298.84 1445.5ZM1285.78 1450.53A187.3 187.3 0 0 1 1285.62 1450.47L1289.14 1441.86A178 178 0 0 0 1289.29 1441.92ZM1284.7 1450.09A187.3 187.3 0 0 1 1283.65 1449.65L1287.27 1441.08A178 178 0 0 0 1288.26 1441.5ZM1276.09 1446.26A187.3 187.3 0 0 1 1275.75 1446.1L1279.76 1437.71A178 178 0 0 0 1280.09 1437.86Z" fill="#d8d8d8"/>
<path d="M1317.71 1460.34A187.3 187.3 0 0 1 1316.97 1460.18L1318.94 1451.09A178 178 0 0 0 1319.63 1451.24ZM1298.96 1455.34A187.3 187.3 0 0 1 1296.57 1454.55L1299.55 1445.74A178 178 0 0 0 1301.82 1446.49ZM1282.08 1448.98A187.3 187.3 0 0 1 1281.96 1448.93L1285.66 1440.4A178 178 0 0 0 1285.77 1440.45ZM1275.84 1446.14A187.3 187.3 0 0 1 1274.66 1445.57L1278.72 1437.21A178 178 0 0 0 1279.85 1437.75ZM1274.75 1445.62A187.3 187.3 0 0 1 1274.03 1445.27L1278.13 1436.92A178 178 0 0 0 1278.81 1437.25Z" fill="#ffffff"/>
<path d="M1317.07 1460.2A187.3 187.3 0 0 1 1316.44 1460.07L1318.43 1450.98A178 178 0 0 0 1319.03 1451.11ZM1316.54 1460.09A187.3 187.3 0 0 1 1315.65 1459.89L1317.68 1450.82A178 178 0 0 0 1318.52 1451ZM1312.86 1459.24A187.3 187.3 0 0 1 1312.05 1459.05L1314.25 1450.01A178 178 0 0 0 1315.02 1450.2ZM1311.84 1459A187.3 187.3 0 0 1 1310.41 1458.64L1312.69 1449.63A178 178 0 0 0 1314.06 1449.97ZM1283.74 1449.69A187.3 187.3 0 0 1 1283.17 1449.45L1286.81 1440.89A178 178 0 0 0 1287.35 1441.12ZM1280.21 1448.16A187.3 187.3 0 0 1 1278.39 1447.33L1282.26 1438.88A178 178 0 0 0 1284 1439.67ZM1274.12 1445.31A187.3 187.3 0 0 1 1273.86 1445.19L1277.97 1436.84A178 178 0 0 0 1278.21 1436.96Z" fill="#f0f0f0"/>
<path d="M1315.75 1459.91A187.3 187.3 0 0 1 1315.2 1459.79L1317.25 1450.72A178 178 0 0 0 1317.77 1450.84ZM1296.67 1454.59A187.3 187.3 0 0 1 1296.1 1454.39L1299.1 1445.59A178 178 0 0 0 1299.64 1445.77ZM1295.77 1454.28A187.3 187.3 0 0 1 1289.99 1452.19L1293.29 1443.5A178 178 0 0 0 1298.78 1445.48ZM1277.62 1446.98A187.3 187.3 0 0 1 1277.36 1446.86L1281.29 1438.43A178 178 0 0 0 1281.53 1438.54Z" fill="#000000"/>
<path d="M1315.3 1459.81A187.3 187.3 0 0 1 1313.11 1459.3L1315.26 1450.26A178 178 0 0 0 1317.35 1450.74ZM1309.82 1458.49A187.3 187.3 0 0 1 1307.17 1457.79L1309.62 1448.82A178 178 0 0 0 1312.13 1449.48ZM1296.19 1454.43A187.3 187.3 0 0 1 1296.02 1454.37L1299.02 1445.57A178 178 0 0 0 1299.19 1445.62ZM1278.47 1447.37A187.3 187.3 0 0 1 1277.53 1446.94L1281.45 1438.5A178 178 0 0 0 1282.35 1438.92ZM1276.98 1446.68A187.3 187.3 0 0 1 1276 1446.22L1280 1437.82A178 178 0 0 0 1280.93 1438.26Z" fill="#a8a8a8"/>
<path d="M1313.2 1459.33A187.3 187.3 0 0 1 1312.76 1459.22L1314.93 1450.18A178 178 0 0 0 1315.35 1450.28ZM1306.7 1457.66A187.3 187.3 0 0 1 1303.07 1456.62L1305.73 1447.71A178 178 0 0 0 1309.17 1448.69ZM1299.48 1455.51A187.3 187.3 0 0 1 1298.87 1455.31L1301.73 1446.46A178 178 0 0 0 1302.31 1446.65Z" fill="#1a1a1a"/>
<path d="M1312.14 1459.07A187.3 187.3 0 0 1 1311.75 1458.97L1313.97 1449.94A178 178 0 0 0 1314.34 1450.04ZM1296.02 1454.37A187.3 187.3 0 0 1 1295.74 1454.27L1298.75 1445.47A178 178 0 0 0 1299.02 1445.56ZM1282.05 1448.97A187.3 187.3 0 0 1 1280.13 1448.12L1283.92 1439.63A178 178 0 0 0 1285.75 1440.43Z" fill="#5a5a5a"/>
<path d="M1310.5 1458.66A187.3 187.3 0 0 1 1309.72 1458.46L1312.04 1449.46A178 178 0 0 0 1312.78 1449.65ZM1303.17 1456.65A187.3 187.3 0 0 1 1301.83 1456.24L1304.54 1447.35A178 178 0 0 0 1305.82 1447.73ZM1301.92 1456.27A187.3 187.3 0 0 1 1299.39 1455.48L1302.23 1446.62A178 178 0 0 0 1304.63 1447.37ZM1290.08 1452.23A187.3 187.3 0 0 1 1285.69 1450.5L1289.2 1441.89A178 178 0 0 0 1293.38 1443.53ZM1277.45 1446.9A187.3 187.3 0 0 1 1276.89 1446.64L1280.84 1438.22A178 178 0 0 0 1281.37 1438.47Z" fill="#c4c4c4"/>
<path d="M1285.71 1450.51A187.3 187.3 0 0 1 1284.61 1450.05L1288.18 1441.47A178 178 0 0 0 1289.23 1441.9ZM1283.26 1449.49A187.3 187.3 0 0 1 1281.99 1448.94L1285.69 1440.41A178 178 0 0 0 1286.9 1440.93Z" fill="#8c8c8c"/>
<path d="M1306.54 1457.61A187.3 187.3 0 0 1 1304.53 1457.04L1307.11 1448.11A178 178 0 0 0 1309.02 1448.65Z" fill="#b8323a"/>
<path d="M1319.64 1460.74A187.3 187.3 0 0 1 1273.95 1445.23L1278.05 1436.88A178 178 0 0 0 1321.47 1451.62Z" fill="none" stroke="#111" stroke-width="1.25" stroke-linejoin="miter"/>
<text font-size="18.93" transform="translate(1284.42 1474.83) rotate(-71.25) scale(0.962 1)" text-anchor="middle" fill="#1a1a1a" stroke="#1a1a1a" stroke-width="0.3">10</text>
<path d="M1268.76 1448.55A192.6 192.6 0 0 1 1228.38 1420.9" fill="none" stroke="#8b3040" stroke-width="2.6" />
<path d="M1270.74 1443.61A187.3 187.3 0 0 1 1270.54 1443.51L1274.81 1435.25A178 178 0 0 0 1275 1435.35ZM1266.78 1441.51A187.3 187.3 0 0 1 1266.26 1441.23L1270.75 1433.08A178 178 0 0 0 1271.24 1433.35ZM1265.3 1440.7A187.3 187.3 0 0 1 1265.1 1440.59L1269.64 1432.47A178 178 0 0 0 1269.83 1432.57ZM1254.49 1434.19A187.3 187.3 0 0 1 1253.23 1433.36L1258.36 1425.6A178 178 0 0 0 1259.56 1426.39ZM1250.19 1431.31A187.3 187.3 0 0 1 1248.21 1429.92L1253.59 1422.33A178 178 0 0 0 1255.47 1423.65ZM1245.16 1427.72A187.3 187.3 0 0 1 1245.06 1427.64L1250.59 1420.16A178 178 0 0 0 1250.69 1420.24ZM1244.85 1427.49A187.3 187.3 0 0 1 1241.78 1425.16L1247.48 1417.81A178 178 0 0 0 1250.4 1420.02Z" fill="#ffffff"/>
<path d="M1270.63 1443.56A187.3 187.3 0 0 1 1270.18 1443.32L1274.46 1435.07A178 178 0 0 0 1274.9 1435.29ZM1265.19 1440.64A187.3 187.3 0 0 1 1264.51 1440.25L1269.08 1432.15A178 178 0 0 0 1269.72 1432.52ZM1260.78 1438.09A187.3 187.3 0 0 1 1260.5 1437.93L1265.27 1429.94A178 178 0 0 0 1265.53 1430.1ZM1247.27 1429.25A187.3 187.3 0 0 1 1246.17 1428.46L1251.65 1420.94A178 178 0 0 0 1252.7 1421.7ZM1245.95 1428.3A187.3 187.3 0 0 1 1245.34 1427.84L1250.86 1420.36A178 178 0 0 0 1251.44 1420.79ZM1234.48 1419.2A187.3 187.3 0 0 1 1232.2 1417.21L1238.37 1410.25A178 178 0 0 0 1240.54 1412.15Z" fill="#c4c4c4"/>
<path d="M1270.26 1443.37A187.3 187.3 0 0 1 1269.73 1443.09L1274.04 1434.85A178 178 0 0 0 1274.54 1435.11ZM1256.34 1435.37A187.3 187.3 0 0 1 1256.17 1435.26L1261.16 1427.41A178 178 0 0 0 1261.32 1427.51ZM1256.26 1435.32A187.3 187.3 0 0 1 1254.41 1434.13L1259.48 1426.34A178 178 0 0 0 1261.23 1427.46ZM1241.86 1425.22A187.3 187.3 0 0 1 1239.99 1423.75L1245.78 1416.47A178 178 0 0 0 1247.55 1417.86ZM1234.5 1419.22A187.3 187.3 0 0 1 1234.41 1419.14L1240.47 1412.09A178 178 0 0 0 1240.56 1412.16Z" fill="#d8d8d8"/>
<path d="M1269.82 1443.13A187.3 187.3 0 0 1 1266.7 1441.47L1271.16 1433.31A178 178 0 0 0 1274.12 1434.89ZM1262.37 1439.03A187.3 187.3 0 0 1 1261.47 1438.5L1266.19 1430.49A178 178 0 0 0 1267.04 1430.99ZM1261.56 1438.55A187.3 187.3 0 0 1 1261.35 1438.43L1266.08 1430.42A178 178 0 0 0 1266.27 1430.54ZM1256.53 1435.49A187.3 187.3 0 0 1 1256.26 1435.32L1261.24 1427.46A178 178 0 0 0 1261.49 1427.62ZM1245.41 1427.9A187.3 187.3 0 0 1 1245.08 1427.66L1250.61 1420.18A178 178 0 0 0 1250.93 1420.41ZM1245.14 1427.7A187.3 187.3 0 0 1 1244.78 1427.43L1250.32 1419.97A178 178 0 0 0 1250.67 1420.22Z" fill="#f0f0f0"/>
<path d="M1266.35 1441.28A187.3 187.3 0 0 1 1265.22 1440.65L1269.75 1432.53A178 178 0 0 0 1270.83 1433.13ZM1259.95 1437.6A187.3 187.3 0 0 1 1256.44 1435.44L1261.41 1427.57A178 178 0 0 0 1264.75 1429.63ZM1252.86 1433.11A187.3 187.3 0 0 1 1251.57 1432.25L1256.78 1424.55A178 178 0 0 0 1258.01 1425.37ZM1248.29 1429.98A187.3 187.3 0 0 1 1247.4 1429.35L1252.82 1421.79A178 178 0 0 0 1253.66 1422.39ZM1235.97 1420.46A187.3 187.3 0 0 1 1235.61 1420.16L1241.61 1413.06A178 178 0 0 0 1241.95 1413.34Z" fill="#5a5a5a"/>
<path d="M1264.6 1440.3A187.3 187.3 0 0 1 1262.28 1438.98L1266.96 1430.94A178 178 0 0 0 1269.16 1432.2Z" fill="#000000"/>
<path d="M1261.44 1438.48A187.3 187.3 0 0 1 1260.7 1438.04L1265.45 1430.05A178 178 0 0 0 1266.16 1430.47ZM1260.58 1437.98A187.3 187.3 0 0 1 1259.87 1437.55L1264.67 1429.58A178 178 0 0 0 1265.35 1429.99ZM1236.84 1421.19A187.3 187.3 0 0 1 1235.89 1420.4L1241.88 1413.28A178 178 0 0 0 1242.78 1414.03Z" fill="#a8a8a8"/>
<path d="M1253.31 1433.41A187.3 187.3 0 0 1 1252.78 1433.06L1257.93 1425.32A178 178 0 0 0 1258.43 1425.65Z" fill="#1a1a1a"/>
<path d="M1251.65 1432.3A187.3 187.3 0 0 1 1250.11 1431.25L1255.39 1423.6A178 178 0 0 0 1256.86 1424.6ZM1247.48 1429.4A187.3 187.3 0 0 1 1247.19 1429.2L1252.62 1421.64A178 178 0 0 0 1252.89 1421.84ZM1246.25 1428.51A187.3 187.3 0 0 1 1245.87 1428.24L1251.37 1420.73A178 178 0 0 0 1251.72 1421ZM1240.07 1423.82A187.3 187.3 0 0 1 1236.76 1421.13L1242.71 1413.97A178 178 0 0 0 1245.85 1416.53ZM1235.68 1420.22A187.3 187.3 0 0 1 1234.43 1419.16L1240.49 1412.1A178 178 0 0 0 1241.68 1413.12Z" fill="#8c8c8c"/>
<path d="M1255.45 1434.8A187.3 187.3 0 0 1 1253.7 1433.66L1258.8 1425.89A178 178 0 0 0 1260.47 1426.97Z" fill="#b8323a"/>
<path d="M1270.74 1443.61A187.3 187.3 0 0 1 1232.27 1417.27L1238.44 1410.31A178 178 0 0 0 1275 1435.35Z" fill="none" stroke="#111" stroke-width="1.25" stroke-linejoin="miter"/>
<text font-size="18.93" transform="translate(1232.85 1451.38) rotate(-55.6) scale(0.962 1)" text-anchor="middle" fill="#1a1a1a" stroke="#1a1a1a" stroke-width="0.3">11</text>
<path d="M1226.38 1419.1A192.6 192.6 0 0 1 1194.43 1381.15" fill="none" stroke="#e0825a" stroke-width="2.6" />
<path d="M1229.6 1414.86A187.3 187.3 0 0 1 1229 1414.3L1235.33 1407.49A178 178 0 0 0 1235.9 1408.02ZM1220.81 1406.21A187.3 187.3 0 0 1 1220.58 1405.97L1227.33 1399.57A178 178 0 0 0 1227.54 1399.8ZM1206.06 1388.68A187.3 187.3 0 0 1 1205.94 1388.51L1213.41 1382.98A178 178 0 0 0 1213.53 1383.14ZM1202.31 1383.43A187.3 187.3 0 0 1 1202.25 1383.34L1209.91 1378.07A178 178 0 0 0 1209.96 1378.15ZM1202.3 1383.42A187.3 187.3 0 0 1 1201.51 1382.27L1209.21 1377.05A178 178 0 0 0 1209.96 1378.14ZM1201 1381.51A187.3 187.3 0 0 1 1200.53 1380.81L1208.28 1375.66A178 178 0 0 0 1208.72 1376.33ZM1200.05 1380.08A187.3 187.3 0 0 1 1199.64 1379.45L1207.43 1374.37A178 178 0 0 0 1207.82 1374.97ZM1199.69 1379.53A187.3 187.3 0 0 1 1199.1 1378.62L1206.91 1373.58A178 178 0 0 0 1207.48 1374.45Z" fill="#d8d8d8"/>
<path d="M1229.07 1414.37A187.3 187.3 0 0 1 1228.59 1413.93L1234.95 1407.13A178 178 0 0 0 1235.4 1407.55ZM1211.11 1395.17A187.3 187.3 0 0 1 1209.5 1393.16L1216.79 1387.4A178 178 0 0 0 1218.32 1389.31ZM1209.56 1393.24A187.3 187.3 0 0 1 1209.26 1392.86L1216.57 1387.12A178 178 0 0 0 1216.85 1387.47ZM1202.92 1384.31A187.3 187.3 0 0 1 1202.25 1383.35L1209.91 1378.07A178 178 0 0 0 1210.54 1378.98ZM1201.48 1382.23A187.3 187.3 0 0 1 1200.95 1381.43L1208.67 1376.25A178 178 0 0 0 1209.18 1377.01Z" fill="#f0f0f0"/>
<path d="M1228.67 1413.99A187.3 187.3 0 0 1 1226.84 1412.27L1233.28 1405.56A178 178 0 0 0 1235.01 1407.2ZM1226.91 1412.34A187.3 187.3 0 0 1 1225.86 1411.32L1232.34 1404.65A178 178 0 0 0 1233.35 1405.62ZM1221.6 1407.04A187.3 187.3 0 0 1 1221.43 1406.86L1228.14 1400.42A178 178 0 0 0 1228.3 1400.58ZM1218.6 1403.85A187.3 187.3 0 0 1 1215.14 1399.97L1222.16 1393.87A178 178 0 0 0 1225.45 1397.55ZM1212.52 1396.9A187.3 187.3 0 0 1 1211.04 1395.1L1218.27 1389.24A178 178 0 0 0 1219.67 1390.95ZM1209.32 1392.94A187.3 187.3 0 0 1 1208.93 1392.44L1216.26 1386.71A178 178 0 0 0 1216.63 1387.19ZM1206 1388.59A187.3 187.3 0 0 1 1204.76 1386.89L1212.29 1381.44A178 178 0 0 0 1213.47 1383.06ZM1204.81 1386.97A187.3 187.3 0 0 1 1203.34 1384.92L1210.95 1379.56A178 178 0 0 0 1212.34 1381.52ZM1201.57 1382.35A187.3 187.3 0 0 1 1201.43 1382.14L1209.13 1376.93A178 178 0 0 0 1209.26 1377.13Z" fill="#ffffff"/>
<path d="M1225.93 1411.38A187.3 187.3 0 0 1 1224.58 1410.06L1231.13 1403.45A178 178 0 0 0 1232.41 1404.72ZM1224.65 1410.13A187.3 187.3 0 0 1 1222.33 1407.79L1228.99 1401.3A178 178 0 0 0 1231.19 1403.52ZM1222.4 1407.86A187.3 187.3 0 0 1 1222.16 1407.62L1228.83 1401.14A178 178 0 0 0 1229.06 1401.37ZM1207.52 1390.61A187.3 187.3 0 0 1 1207.32 1390.35L1214.73 1384.73A178 178 0 0 0 1214.91 1384.98ZM1206.61 1389.41A187.3 187.3 0 0 1 1206 1388.6L1213.48 1383.06A178 178 0 0 0 1214.05 1383.83Z" fill="#a8a8a8"/>
<path d="M1222.23 1407.69A187.3 187.3 0 0 1 1221.53 1406.97L1228.23 1400.52A178 178 0 0 0 1228.9 1401.2ZM1203.4 1385A187.3 187.3 0 0 1 1202.86 1384.23L1210.49 1378.91A178 178 0 0 0 1211 1379.64ZM1200.59 1380.89A187.3 187.3 0 0 1 1200 1380L1207.77 1374.89A178 178 0 0 0 1208.33 1375.74Z" fill="#8c8c8c"/>
<path d="M1221.5 1406.93A187.3 187.3 0 0 1 1220.74 1406.13L1227.48 1399.73A178 178 0 0 0 1228.2 1400.49Z" fill="#c4c4c4"/>
<path d="M1220.64 1406.04A187.3 187.3 0 0 1 1219.2 1404.5L1226.02 1398.17A178 178 0 0 0 1227.39 1399.63ZM1219.27 1404.57A187.3 187.3 0 0 1 1218.59 1403.83L1225.43 1397.54A178 178 0 0 0 1226.08 1398.24ZM1208.99 1392.52A187.3 187.3 0 0 1 1208.25 1391.57L1215.61 1385.89A178 178 0 0 0 1216.31 1386.79ZM1208.31 1391.65A187.3 187.3 0 0 1 1207.46 1390.53L1214.86 1384.9A178 178 0 0 0 1215.67 1385.96ZM1207.38 1390.43A187.3 187.3 0 0 1 1206.55 1389.33L1213.99 1383.76A178 178 0 0 0 1214.78 1384.8Z" fill="#5a5a5a"/>
<path d="M1218.65 1403.9A187.3 187.3 0 0 1 1218.53 1403.77L1225.38 1397.48A178 178 0 0 0 1225.5 1397.61ZM1215.2 1400.05A187.3 187.3 0 0 1 1215.1 1399.93L1222.12 1393.83A178 178 0 0 0 1222.22 1393.94ZM1215.17 1400.01A187.3 187.3 0 0 1 1214.1 1398.77L1221.17 1392.73A178 178 0 0 0 1222.18 1393.9Z" fill="#1a1a1a"/>
<path d="M1214.17 1398.85A187.3 187.3 0 0 1 1212.46 1396.82L1219.61 1390.88A178 178 0 0 0 1221.23 1392.8Z" fill="#000000"/>
<path d="M1221.21 1406.63A187.3 187.3 0 0 1 1219.77 1405.11L1226.56 1398.76A178 178 0 0 0 1227.93 1400.2Z" fill="#b8323a"/>
<path d="M1229.6 1414.86A187.3 187.3 0 0 1 1199.15 1378.7L1206.96 1373.65A178 178 0 0 0 1235.9 1408.02Z" fill="none" stroke="#111" stroke-width="1.25" stroke-linejoin="miter"/>
<text font-size="18.93" transform="translate(1190.01 1415.44) rotate(-40.1) scale(0.962 1)" text-anchor="middle" fill="#1a1a1a" stroke="#1a1a1a" stroke-width="0.3">12</text>
<path d="M1192.99 1378.88A192.6 192.6 0 0 1 1174.5 1340.12" fill="none" stroke="#4c7ab2" stroke-width="2.6" />
<path d="M1197.23 1375.66A187.3 187.3 0 0 1 1197.15 1375.53L1205.06 1370.64A178 178 0 0 0 1205.14 1370.77ZM1187.54 1357.93A187.3 187.3 0 0 1 1187.34 1357.51L1195.74 1353.52A178 178 0 0 0 1195.93 1353.92ZM1184.1 1350.3A187.3 187.3 0 0 1 1183.98 1350.02L1192.54 1346.4A178 178 0 0 0 1192.66 1346.67ZM1184.02 1350.11A187.3 187.3 0 0 1 1183.08 1347.85L1191.69 1344.33A178 178 0 0 0 1192.58 1346.48Z" fill="#c4c4c4"/>
<path d="M1197.2 1375.61A187.3 187.3 0 0 1 1197.08 1375.42L1205 1370.54A178 178 0 0 0 1205.11 1370.72ZM1196.57 1374.58A187.3 187.3 0 0 1 1195.26 1372.4L1203.26 1367.67A178 178 0 0 0 1204.51 1369.74ZM1190.24 1363.34A187.3 187.3 0 0 1 1190.18 1363.24L1198.44 1358.96A178 178 0 0 0 1198.49 1359.06ZM1189.01 1360.93A187.3 187.3 0 0 1 1188.54 1359.98L1196.88 1355.87A178 178 0 0 0 1197.32 1356.77Z" fill="#ffffff"/>
<path d="M1197.14 1375.51A187.3 187.3 0 0 1 1196.52 1374.5L1204.46 1369.66A178 178 0 0 0 1205.05 1370.62ZM1193.68 1369.67A187.3 187.3 0 0 1 1193.34 1369.08L1201.44 1364.52A178 178 0 0 0 1201.76 1365.08ZM1193.04 1368.55A187.3 187.3 0 0 1 1192.74 1368.01L1200.87 1363.49A178 178 0 0 0 1201.16 1364.01ZM1182.58 1346.63A187.3 187.3 0 0 1 1182.2 1345.66L1190.85 1342.26A178 178 0 0 0 1191.22 1343.18ZM1180.44 1341.01A187.3 187.3 0 0 1 1180.13 1340.15L1188.89 1337.02A178 178 0 0 0 1189.18 1337.84Z" fill="#a8a8a8"/>
<path d="M1195.31 1372.48A187.3 187.3 0 0 1 1193.63 1369.59L1201.72 1365A178 178 0 0 0 1203.31 1367.75ZM1193.39 1369.17A187.3 187.3 0 0 1 1192.99 1368.46L1201.11 1363.92A178 178 0 0 0 1201.49 1364.6ZM1181.61 1344.14A187.3 187.3 0 0 1 1180.41 1340.92L1189.15 1337.75A178 178 0 0 0 1190.29 1340.81Z" fill="#5a5a5a"/>
<path d="M1192.79 1368.09A187.3 187.3 0 0 1 1192.7 1367.94L1200.84 1363.43A178 178 0 0 0 1200.92 1363.58ZM1192.75 1368.03A187.3 187.3 0 0 1 1191.84 1366.36L1200.02 1361.93A178 178 0 0 0 1200.88 1363.51ZM1191.89 1366.45A187.3 187.3 0 0 1 1191.39 1365.53L1199.59 1361.14A178 178 0 0 0 1200.06 1362.01ZM1187.61 1358.07A187.3 187.3 0 0 1 1187.55 1357.96L1195.94 1353.95A178 178 0 0 0 1195.99 1354.05ZM1187.38 1357.6A187.3 187.3 0 0 1 1186.74 1356.25L1195.17 1352.32A178 178 0 0 0 1195.78 1353.6ZM1182.24 1345.75A187.3 187.3 0 0 1 1182.02 1345.2L1190.68 1341.82A178 178 0 0 0 1190.89 1342.34ZM1182.06 1345.3A187.3 187.3 0 0 1 1181.73 1344.46L1190.41 1341.12A178 178 0 0 0 1190.72 1341.91Z" fill="#d8d8d8"/>
<path d="M1191.44 1365.62A187.3 187.3 0 0 1 1190.19 1363.25L1198.45 1358.97A178 178 0 0 0 1199.63 1361.22ZM1190.23 1363.32A187.3 187.3 0 0 1 1188.96 1360.84L1197.28 1356.69A178 178 0 0 0 1198.48 1359.04ZM1187.6 1358.05A187.3 187.3 0 0 1 1187.5 1357.85L1195.89 1353.84A178 178 0 0 0 1195.98 1354.03ZM1186.79 1356.33A187.3 187.3 0 0 1 1185.38 1353.26L1193.88 1349.48A178 178 0 0 0 1195.21 1352.4Z" fill="#1a1a1a"/>
<path d="M1188.58 1360.07A187.3 187.3 0 0 1 1187.57 1357.98L1195.95 1353.97A178 178 0 0 0 1196.92 1355.95ZM1185.42 1353.35A187.3 187.3 0 0 1 1184.06 1350.21L1192.62 1346.58A178 178 0 0 0 1193.92 1349.56ZM1181.77 1344.55A187.3 187.3 0 0 1 1181.57 1344.05L1190.26 1340.72A178 178 0 0 0 1190.44 1341.2ZM1179.97 1339.7A187.3 187.3 0 0 1 1179.64 1338.76L1188.42 1335.7A178 178 0 0 0 1188.74 1336.6Z" fill="#f0f0f0"/>
<path d="M1183.11 1347.94A187.3 187.3 0 0 1 1182.91 1347.44L1191.53 1343.94A178 178 0 0 0 1191.72 1344.42ZM1182.95 1347.53A187.3 187.3 0 0 1 1182.55 1346.54L1191.18 1343.09A178 178 0 0 0 1191.56 1344.03ZM1180.16 1340.24A187.3 187.3 0 0 1 1179.94 1339.61L1188.71 1336.51A178 178 0 0 0 1188.92 1337.1Z" fill="#8c8c8c"/>
<path d="M1196.89 1375.1A187.3 187.3 0 0 1 1195.78 1373.29L1203.76 1368.51A178 178 0 0 0 1204.81 1370.24Z" fill="#7f9fbe"/>
<path d="M1195.78 1373.29A187.3 187.3 0 0 1 1195.2 1372.3L1203.21 1367.58A178 178 0 0 0 1203.76 1368.51Z" fill="#d0d0d0"/>
<path d="M1195.2 1372.3A187.3 187.3 0 0 1 1194.29 1370.75L1202.35 1366.1A178 178 0 0 0 1203.21 1367.58Z" fill="#b8323a"/>
<path d="M1197.23 1375.66A187.3 187.3 0 0 1 1179.67 1338.85L1188.45 1335.78A178 178 0 0 0 1205.14 1370.77Z" fill="none" stroke="#111" stroke-width="1.25" stroke-linejoin="miter"/>
<text font-size="18.93" transform="translate(1160.85 1371.75) rotate(-25.5) scale(0.962 1)" text-anchor="middle" fill="#1a1a1a" stroke="#1a1a1a" stroke-width="0.3">13</text>
<path d="M1173.64 1337.57A192.6 192.6 0 0 1 1165.18 1299.24" fill="none" stroke="#78d2c2" stroke-width="2.6" />
<path d="M1178.52 1335.45A187.3 187.3 0 0 1 1177.35 1331.74L1186.24 1329.03A178 178 0 0 0 1187.36 1332.55ZM1176.45 1328.7A187.3 187.3 0 0 1 1176.4 1328.53L1185.34 1325.97A178 178 0 0 0 1185.39 1326.14ZM1176.38 1328.45A187.3 187.3 0 0 1 1175.93 1326.86L1184.9 1324.39A178 178 0 0 0 1185.32 1325.9ZM1175.34 1324.67A187.3 187.3 0 0 1 1175.08 1323.67L1184.09 1321.36A178 178 0 0 0 1184.34 1322.31ZM1171.68 1307.47A187.3 187.3 0 0 1 1171.54 1306.59L1180.72 1305.12A178 178 0 0 0 1180.86 1305.97ZM1171.27 1304.89A187.3 187.3 0 0 1 1171.04 1303.26L1180.25 1301.96A178 178 0 0 0 1180.47 1303.51ZM1171.05 1303.36A187.3 187.3 0 0 1 1170.66 1300.41L1179.88 1299.25A178 178 0 0 0 1180.26 1302.06ZM1170.57 1299.71A187.3 187.3 0 0 1 1170.49 1299.02L1179.72 1297.93A178 178 0 0 0 1179.8 1298.59Z" fill="#a8a8a8"/>
<path d="M1177.38 1331.83A187.3 187.3 0 0 1 1177.35 1331.73L1186.24 1329.02A178 178 0 0 0 1186.27 1329.12ZM1176.81 1329.94A187.3 187.3 0 0 1 1176.77 1329.8L1185.69 1327.18A178 178 0 0 0 1185.73 1327.32Z" fill="#ffffff"/>
<path d="M1177.37 1331.83A187.3 187.3 0 0 1 1177.08 1330.87L1185.99 1328.2A178 178 0 0 0 1186.27 1329.11ZM1175.86 1326.61A187.3 187.3 0 0 1 1175.32 1324.57L1184.31 1322.22A178 178 0 0 0 1184.83 1324.15ZM1172.99 1314.59A187.3 187.3 0 0 1 1172.1 1309.96L1181.26 1308.33A178 178 0 0 0 1182.1 1312.73Z" fill="#f0f0f0"/>
<path d="M1177.11 1330.96A187.3 187.3 0 0 1 1176.78 1329.85L1185.7 1327.23A178 178 0 0 0 1186.02 1328.29ZM1176.79 1329.89A187.3 187.3 0 0 1 1176.72 1329.62L1185.64 1327.02A178 178 0 0 0 1185.72 1327.27ZM1175.11 1323.77A187.3 187.3 0 0 1 1175.07 1323.62L1184.08 1321.31A178 178 0 0 0 1184.11 1321.45ZM1174.14 1319.84A187.3 187.3 0 0 1 1174.09 1319.61L1183.14 1317.5A178 178 0 0 0 1183.2 1317.72ZM1173.43 1316.67A187.3 187.3 0 0 1 1172.97 1314.5L1182.08 1312.64A178 178 0 0 0 1182.52 1314.71ZM1170.61 1300.03A187.3 187.3 0 0 1 1170.56 1299.62L1179.79 1298.5A178 178 0 0 0 1179.84 1298.9Z" fill="#d8d8d8"/>
<path d="M1176.74 1329.72A187.3 187.3 0 0 1 1176.42 1328.61L1185.36 1326.05A178 178 0 0 0 1185.67 1327.1Z" fill="#5a5a5a"/>
<path d="M1176.43 1328.62A187.3 187.3 0 0 1 1176.35 1328.36L1185.3 1325.82A178 178 0 0 0 1185.37 1326.06ZM1175.96 1326.96A187.3 187.3 0 0 1 1175.84 1326.52L1184.81 1324.06A178 178 0 0 0 1184.92 1324.48ZM1174.11 1319.7A187.3 187.3 0 0 1 1173.89 1318.76L1182.96 1316.7A178 178 0 0 0 1183.17 1317.59ZM1170.67 1300.51A187.3 187.3 0 0 1 1170.6 1299.94L1179.83 1298.8A178 178 0 0 0 1179.9 1299.34Z" fill="#c4c4c4"/>
<path d="M1175.09 1323.71A187.3 187.3 0 0 1 1174.56 1321.59L1183.59 1319.38A178 178 0 0 0 1184.1 1321.4ZM1173.91 1318.86A187.3 187.3 0 0 1 1173.41 1316.58L1182.5 1314.62A178 178 0 0 0 1182.98 1316.79ZM1172.12 1310.06A187.3 187.3 0 0 1 1171.94 1309.02L1181.1 1307.44A178 178 0 0 0 1181.28 1308.42ZM1171.93 1308.95A187.3 187.3 0 0 1 1171.66 1307.38L1180.84 1305.87A178 178 0 0 0 1181.09 1307.37Z" fill="#8c8c8c"/>
<path d="M1174.58 1321.68A187.3 187.3 0 0 1 1174.12 1319.75L1183.18 1317.63A178 178 0 0 0 1183.62 1319.47ZM1171.96 1309.12A187.3 187.3 0 0 1 1171.91 1308.85L1181.08 1307.28A178 178 0 0 0 1181.12 1307.53ZM1171.55 1306.69A187.3 187.3 0 0 1 1171.26 1304.79L1180.46 1303.42A178 178 0 0 0 1180.73 1305.22Z" fill="#1a1a1a"/>
<path d="M1178.32 1334.82A187.3 187.3 0 0 1 1177.67 1332.8L1186.55 1330.03A178 178 0 0 0 1187.16 1331.96Z" fill="#7f9fbe"/>
<path d="M1177.67 1332.8A187.3 187.3 0 0 1 1177.34 1331.7L1186.23 1328.99A178 178 0 0 0 1186.55 1330.03Z" fill="#d0d0d0"/>
<path d="M1177.34 1331.7A187.3 187.3 0 0 1 1176.82 1329.98L1185.74 1327.36A178 178 0 0 0 1186.23 1328.99Z" fill="#b8323a"/>
<path d="M1178.52 1335.45A187.3 187.3 0 0 1 1170.5 1299.11L1179.73 1298.02A178 178 0 0 0 1187.36 1332.55Z" fill="none" stroke="#111" stroke-width="1.25" stroke-linejoin="miter"/>
<text font-size="18.93" transform="translate(1143.38 1327.5) rotate(-12.45) scale(0.962 1)" text-anchor="middle" fill="#1a1a1a" stroke="#1a1a1a" stroke-width="0.3">14</text>
<path d="M1164.89 1296.56A192.6 192.6 0 0 1 1164.82 1258.31" fill="none" stroke="#8a42d2" stroke-width="2.6" />
<path d="M1170.11 1295.54A187.3 187.3 0 0 1 1169.97 1294.06L1179.23 1293.22A178 178 0 0 0 1179.36 1294.62ZM1169.44 1286.49A187.3 187.3 0 0 1 1169.25 1281.37L1178.55 1281.15A178 178 0 0 0 1178.72 1286.03ZM1169.24 1273.02A187.3 187.3 0 0 1 1169.25 1272.63L1178.55 1272.85A178 178 0 0 0 1178.54 1273.22Z" fill="#a8a8a8"/>
<path d="M1169.98 1294.16A187.3 187.3 0 0 1 1169.79 1291.91L1179.06 1291.17A178 178 0 0 0 1179.24 1293.31ZM1169.46 1267.19A187.3 187.3 0 0 1 1169.83 1261.74L1179.1 1262.5A178 178 0 0 0 1178.75 1267.68Z" fill="#5a5a5a"/>
<path d="M1169.79 1292A187.3 187.3 0 0 1 1169.78 1291.79L1179.05 1291.06A178 178 0 0 0 1179.06 1291.26ZM1169.45 1267.34A187.3 187.3 0 0 1 1169.47 1267.11L1178.75 1267.6A178 178 0 0 0 1178.74 1267.82Z" fill="#c4c4c4"/>
<path d="M1169.78 1291.89A187.3 187.3 0 0 1 1169.62 1289.63L1178.9 1289A178 178 0 0 0 1179.06 1291.15ZM1169.25 1281.46A187.3 187.3 0 0 1 1169.23 1280.62L1178.53 1280.44A178 178 0 0 0 1178.55 1281.25ZM1169.21 1279.05A187.3 187.3 0 0 1 1169.2 1277.7L1178.5 1277.67A178 178 0 0 0 1178.51 1278.96ZM1169.2 1276.98A187.3 187.3 0 0 1 1169.2 1276.63L1178.5 1276.65A178 178 0 0 0 1178.5 1276.99ZM1169.2 1276.73A187.3 187.3 0 0 1 1169.2 1275.84L1178.5 1275.9A178 178 0 0 0 1178.5 1276.75ZM1169.2 1275.85A187.3 187.3 0 0 1 1169.22 1274.62L1178.52 1274.75A178 178 0 0 0 1178.5 1275.92ZM1169.22 1274.72A187.3 187.3 0 0 1 1169.25 1272.92L1178.54 1273.13A178 178 0 0 0 1178.51 1274.84ZM1169.25 1272.72A187.3 187.3 0 0 1 1169.28 1271.72L1178.57 1271.99A178 178 0 0 0 1178.55 1272.94ZM1169.27 1271.82A187.3 187.3 0 0 1 1169.3 1270.97L1178.6 1271.28A178 178 0 0 0 1178.57 1272.08ZM1169.82 1261.83A187.3 187.3 0 0 1 1169.86 1261.36L1179.13 1262.14A178 178 0 0 0 1179.09 1262.59Z" fill="#d8d8d8"/>
<path d="M1169.63 1289.72A187.3 187.3 0 0 1 1169.57 1288.82L1178.85 1288.24A178 178 0 0 0 1178.9 1289.1ZM1169.23 1280.2A187.3 187.3 0 0 1 1169.21 1278.95L1178.51 1278.86A178 178 0 0 0 1178.52 1280.05ZM1169.35 1269.54A187.3 187.3 0 0 1 1169.46 1267.24L1178.75 1267.73A178 178 0 0 0 1178.64 1269.92Z" fill="#000000"/>
<path d="M1169.57 1288.92A187.3 187.3 0 0 1 1169.43 1286.39L1178.72 1285.93A178 178 0 0 0 1178.85 1288.33ZM1169.23 1280.34A187.3 187.3 0 0 1 1169.22 1280.1L1178.52 1279.95A178 178 0 0 0 1178.53 1280.18ZM1169.3 1271.07A187.3 187.3 0 0 1 1169.35 1269.6L1178.64 1269.97A178 178 0 0 0 1178.59 1271.37ZM1169.46 1267.21A187.3 187.3 0 0 1 1169.47 1267.09L1178.75 1267.58A178 178 0 0 0 1178.75 1267.7ZM1169.85 1261.46A187.3 187.3 0 0 1 1169.97 1260.13L1179.23 1260.97A178 178 0 0 0 1179.12 1262.23ZM1169.96 1260.23A187.3 187.3 0 0 1 1170.06 1259.21L1179.31 1260.1A178 178 0 0 0 1179.22 1261.07Z" fill="#f0f0f0"/>
<path d="M1169.23 1280.72A187.3 187.3 0 0 1 1169.23 1280.25L1178.53 1280.09A178 178 0 0 0 1178.53 1280.54ZM1169.35 1269.69A187.3 187.3 0 0 1 1169.36 1269.45L1178.65 1269.83A178 178 0 0 0 1178.64 1270.06Z" fill="#8c8c8c"/>
<path d="M1169.2 1277.8A187.3 187.3 0 0 1 1169.2 1276.89L1178.5 1276.9A178 178 0 0 0 1178.5 1277.76ZM1169.2 1275.94A187.3 187.3 0 0 1 1169.2 1275.76L1178.5 1275.82A178 178 0 0 0 1178.5 1276Z" fill="#ffffff"/>
<path d="M1170.05 1294.89A187.3 187.3 0 0 1 1169.86 1292.77L1179.12 1291.99A178 178 0 0 0 1179.3 1294.01Z" fill="#7f9fbe"/>
<path d="M1169.86 1292.77A187.3 187.3 0 0 1 1169.76 1291.63L1179.04 1290.91A178 178 0 0 0 1179.12 1291.99Z" fill="#d0d0d0"/>
<path d="M1169.76 1291.63A187.3 187.3 0 0 1 1169.63 1289.84L1178.91 1289.21A178 178 0 0 0 1179.04 1290.91Z" fill="#b8323a"/>
<path d="M1170.11 1295.54A187.3 187.3 0 0 1 1170.05 1259.31L1179.3 1260.19A178 178 0 0 0 1179.36 1294.62Z" fill="none" stroke="#111" stroke-width="1.25" stroke-linejoin="miter"/>
<text font-size="18.93" transform="translate(1137.61 1283.62) rotate(-0.1) scale(0.962 1)" text-anchor="middle" fill="#1a1a1a" stroke="#1a1a1a" stroke-width="0.3">15</text>
<path d="M1165.1 1255.63A192.6 192.6 0 0 1 1171.83 1222.4" fill="none" stroke="#7fd832" stroke-width="2.6" />
<path d="M1170.42 1255.73A187.3 187.3 0 0 1 1170.44 1255.55L1179.68 1256.62A178 178 0 0 0 1179.66 1256.8ZM1172.73 1240.92A187.3 187.3 0 0 1 1172.75 1240.79L1181.88 1242.59A178 178 0 0 0 1181.85 1242.72ZM1174.89 1231.28A187.3 187.3 0 0 1 1175.18 1230.16L1184.18 1232.49A178 178 0 0 0 1183.91 1233.55ZM1175.21 1230.05A187.3 187.3 0 0 1 1175.25 1229.88L1184.25 1232.22A178 178 0 0 0 1184.21 1232.39ZM1175.23 1229.97A187.3 187.3 0 0 1 1175.37 1229.41L1184.37 1231.78A178 178 0 0 0 1184.23 1232.31ZM1176.45 1225.49A187.3 187.3 0 0 1 1176.8 1224.28L1185.72 1226.9A178 178 0 0 0 1185.39 1228.05Z" fill="#f0f0f0"/>
<path d="M1170.43 1255.65A187.3 187.3 0 0 1 1170.94 1251.66L1180.15 1252.92A178 178 0 0 0 1179.67 1256.71ZM1171.2 1249.83A187.3 187.3 0 0 1 1171.4 1248.46L1180.59 1249.88A178 178 0 0 0 1180.4 1251.18ZM1171.59 1247.25A187.3 187.3 0 0 1 1171.68 1246.72L1180.86 1248.22A178 178 0 0 0 1180.78 1248.73ZM1175.49 1228.98A187.3 187.3 0 0 1 1176.48 1225.39L1185.42 1227.96A178 178 0 0 0 1184.47 1231.37Z" fill="#d8d8d8"/>
<path d="M1170.92 1251.76A187.3 187.3 0 0 1 1171.21 1249.73L1180.41 1251.09A178 178 0 0 0 1180.14 1253.01Z" fill="#c4c4c4"/>
<path d="M1171.39 1248.56A187.3 187.3 0 0 1 1171.54 1247.59L1180.72 1249.06A178 178 0 0 0 1180.58 1249.98ZM1171.52 1247.69A187.3 187.3 0 0 1 1171.61 1247.15L1180.79 1248.64A178 178 0 0 0 1180.71 1249.15ZM1173.24 1238.4A187.3 187.3 0 0 1 1173.35 1237.88L1182.45 1239.82A178 178 0 0 0 1182.34 1240.33ZM1174.47 1232.98A187.3 187.3 0 0 1 1174.92 1231.18L1183.93 1233.46A178 178 0 0 0 1183.51 1235.17Z" fill="#a8a8a8"/>
<path d="M1171.67 1246.81A187.3 187.3 0 0 1 1171.75 1246.3L1180.92 1247.83A178 178 0 0 0 1180.84 1248.32ZM1173.86 1235.57A187.3 187.3 0 0 1 1174.49 1232.89L1183.53 1235.08A178 178 0 0 0 1182.93 1237.63Z" fill="#000000"/>
<path d="M1171.73 1246.4A187.3 187.3 0 0 1 1172.07 1244.44L1181.23 1246.07A178 178 0 0 0 1180.91 1247.92ZM1172.18 1243.82A187.3 187.3 0 0 1 1172.49 1242.15L1181.63 1243.88A178 178 0 0 0 1181.33 1245.47Z" fill="#1a1a1a"/>
<path d="M1172.05 1244.54A187.3 187.3 0 0 1 1172.08 1244.39L1181.23 1246.02A178 178 0 0 0 1181.21 1246.16ZM1173.33 1237.97A187.3 187.3 0 0 1 1173.85 1235.62L1182.92 1237.68A178 178 0 0 0 1182.43 1239.92ZM1173.83 1235.71A187.3 187.3 0 0 1 1173.88 1235.48L1182.95 1237.54A178 178 0 0 0 1182.9 1237.77ZM1175.15 1230.26A187.3 187.3 0 0 1 1175.23 1229.96L1184.23 1232.3A178 178 0 0 0 1184.16 1232.58Z" fill="#ffffff"/>
<path d="M1172.06 1244.49A187.3 187.3 0 0 1 1172.2 1243.72L1181.35 1245.38A178 178 0 0 0 1181.22 1246.11ZM1172.47 1242.24A187.3 187.3 0 0 1 1172.75 1240.82L1181.87 1242.63A178 178 0 0 0 1181.61 1243.97ZM1172.73 1240.89A187.3 187.3 0 0 1 1173.26 1238.31L1182.36 1240.23A178 178 0 0 0 1181.86 1242.69Z" fill="#5a5a5a"/>
<path d="M1175.35 1229.51A187.3 187.3 0 0 1 1175.51 1228.89L1184.5 1231.28A178 178 0 0 0 1184.34 1231.87Z" fill="#8c8c8c"/>
<path d="M1172.19 1243.78A187.3 187.3 0 0 1 1172.57 1241.72L1181.7 1243.48A178 178 0 0 0 1181.34 1245.43Z" fill="#b8323a"/>
<path d="M1172.57 1241.72A187.3 187.3 0 0 1 1173.07 1239.22L1182.18 1241.1A178 178 0 0 0 1181.7 1243.48Z" fill="#111"/>
<path d="M1170.42 1255.73A187.3 187.3 0 0 1 1176.77 1224.37L1185.7 1226.99A178 178 0 0 0 1179.66 1256.8Z" fill="none" stroke="#111" stroke-width="1.25" stroke-linejoin="miter"/>
<text font-size="18.93" transform="translate(1141.46 1242.71) rotate(11.45) scale(0.962 1)" text-anchor="middle" fill="#1a1a1a" stroke="#1a1a1a" stroke-width="0.3">16</text>
<path d="M1172.61 1219.83A192.6 192.6 0 0 1 1183.69 1192.07" fill="none" stroke="#8b1c1c" stroke-width="2.6" />
<path d="M1177.82 1220.93A187.3 187.3 0 0 1 1178.35 1219.27L1187.2 1222.15A178 178 0 0 0 1186.69 1223.72ZM1179.03 1217.21A187.3 187.3 0 0 1 1179.32 1216.36L1188.12 1219.37A178 178 0 0 0 1187.85 1220.18ZM1179.29 1216.45A187.3 187.3 0 0 1 1179.59 1215.57L1188.38 1218.63A178 178 0 0 0 1188.09 1219.46ZM1179.56 1215.67A187.3 187.3 0 0 1 1179.94 1214.6L1188.7 1217.7A178 178 0 0 0 1188.35 1218.72ZM1182.46 1207.88A187.3 187.3 0 0 1 1182.89 1206.8L1191.51 1210.29A178 178 0 0 0 1191.1 1211.31ZM1182.86 1206.89A187.3 187.3 0 0 1 1183.15 1206.17L1191.76 1209.69A178 178 0 0 0 1191.48 1210.38Z" fill="#c4c4c4"/>
<path d="M1178.32 1219.37A187.3 187.3 0 0 1 1179.06 1217.12L1187.87 1220.09A178 178 0 0 0 1187.17 1222.23Z" fill="#f0f0f0"/>
<path d="M1179.9 1214.69A187.3 187.3 0 0 1 1180.22 1213.79L1188.98 1216.94A178 178 0 0 0 1188.67 1217.79Z" fill="#1a1a1a"/>
<path d="M1180.19 1213.89A187.3 187.3 0 0 1 1181.94 1209.21L1190.6 1212.58A178 178 0 0 0 1188.94 1217.02ZM1185.62 1200.41A187.3 187.3 0 0 1 1185.74 1200.15L1194.22 1203.97A178 178 0 0 0 1194.1 1204.22ZM1186.29 1198.94A187.3 187.3 0 0 1 1186.85 1197.73L1195.27 1201.67A178 178 0 0 0 1194.74 1202.82Z" fill="#ffffff"/>
<path d="M1181.9 1209.3A187.3 187.3 0 0 1 1182.5 1207.78L1191.14 1211.23A178 178 0 0 0 1190.57 1212.67ZM1183.69 1204.87A187.3 187.3 0 0 1 1184.38 1203.23L1192.93 1206.9A178 178 0 0 0 1192.27 1208.46Z" fill="#5a5a5a"/>
<path d="M1183.11 1206.26A187.3 187.3 0 0 1 1183.72 1204.78L1192.3 1208.37A178 178 0 0 0 1191.72 1209.78ZM1185.7 1200.24A187.3 187.3 0 0 1 1185.78 1200.06L1194.26 1203.88A178 178 0 0 0 1194.18 1204.06ZM1185.74 1200.15A187.3 187.3 0 0 1 1186.33 1198.85L1194.78 1202.74A178 178 0 0 0 1194.22 1203.97ZM1186.81 1197.82A187.3 187.3 0 0 1 1186.95 1197.52L1195.37 1201.47A178 178 0 0 0 1195.23 1201.76ZM1186.91 1197.61A187.3 187.3 0 0 1 1186.98 1197.45L1195.4 1201.4A178 178 0 0 0 1195.33 1201.55Z" fill="#a8a8a8"/>
<path d="M1184.34 1203.32A187.3 187.3 0 0 1 1184.65 1202.6L1193.19 1206.3A178 178 0 0 0 1192.89 1206.98ZM1184.61 1202.69A187.3 187.3 0 0 1 1185.21 1201.34L1193.71 1205.1A178 178 0 0 0 1193.15 1206.38ZM1187.06 1197.28A187.3 187.3 0 0 1 1188.27 1194.76L1196.62 1198.85A178 178 0 0 0 1195.47 1201.24Z" fill="#d8d8d8"/>
<path d="M1185.17 1201.42A187.3 187.3 0 0 1 1185.66 1200.32L1194.14 1204.14A178 178 0 0 0 1193.68 1205.18ZM1186.94 1197.54A187.3 187.3 0 0 1 1187.1 1197.19L1195.51 1201.16A178 178 0 0 0 1195.36 1201.49Z" fill="#000000"/>
<path d="M1180.17 1213.93A187.3 187.3 0 0 1 1180.89 1211.97L1189.61 1215.2A178 178 0 0 0 1188.93 1217.07Z" fill="#b8323a"/>
<path d="M1177.82 1220.93A187.3 187.3 0 0 1 1188.23 1194.85L1196.58 1198.93A178 178 0 0 0 1186.69 1223.72Z" fill="none" stroke="#111" stroke-width="1.25" stroke-linejoin="miter"/>
<text font-size="18.93" transform="translate(1151.28 1206.52) rotate(21.75) scale(0.962 1)" text-anchor="middle" fill="#1a1a1a" stroke="#1a1a1a" stroke-width="0.3">17</text>
<path d="M1184.89 1189.66A192.6 192.6 0 0 1 1199.7 1165.26" fill="none" stroke="#3f8a80" stroke-width="2.6" />
<path d="M1189.84 1191.63A187.3 187.3 0 0 1 1190.3 1190.74L1198.55 1195.02A178 178 0 0 0 1198.11 1195.87ZM1192.49 1186.64A187.3 187.3 0 0 1 1193.61 1184.64L1201.7 1189.23A178 178 0 0 0 1200.63 1191.14ZM1196.02 1180.52A187.3 187.3 0 0 1 1196.21 1180.2L1204.17 1185.01A178 178 0 0 0 1203.99 1185.31ZM1199.49 1174.98A187.3 187.3 0 0 1 1200.31 1173.73L1208.07 1178.86A178 178 0 0 0 1207.28 1180.05Z" fill="#c4c4c4"/>
<path d="M1190.25 1190.82A187.3 187.3 0 0 1 1192.54 1186.56L1200.68 1191.05A178 178 0 0 0 1198.51 1195.11ZM1195.05 1182.15A187.3 187.3 0 0 1 1195.36 1181.63L1203.36 1186.37A178 178 0 0 0 1203.07 1186.86ZM1195.31 1181.72A187.3 187.3 0 0 1 1195.53 1181.34L1203.52 1186.09A178 178 0 0 0 1203.31 1186.45ZM1195.48 1181.42A187.3 187.3 0 0 1 1196.07 1180.43L1204.04 1185.23A178 178 0 0 0 1203.48 1186.17ZM1201.09 1172.56A187.3 187.3 0 0 1 1201.16 1172.45L1208.87 1177.65A178 178 0 0 0 1208.81 1177.75Z" fill="#d8d8d8"/>
<path d="M1193.57 1184.72A187.3 187.3 0 0 1 1194.22 1183.57L1202.28 1188.22A178 178 0 0 0 1201.66 1189.31Z" fill="#000000"/>
<path d="M1194.17 1183.66A187.3 187.3 0 0 1 1194.59 1182.93L1202.63 1187.61A178 178 0 0 0 1202.23 1188.3ZM1196.16 1180.29A187.3 187.3 0 0 1 1196.57 1179.61L1204.51 1184.45A178 178 0 0 0 1204.12 1185.09ZM1203.45 1169.13A187.3 187.3 0 0 1 1203.79 1168.65L1211.37 1174.04A178 178 0 0 0 1211.05 1174.49Z" fill="#a8a8a8"/>
<path d="M1194.54 1183.02A187.3 187.3 0 0 1 1195.1 1182.06L1203.12 1186.78A178 178 0 0 0 1202.58 1187.69ZM1196.52 1179.69A187.3 187.3 0 0 1 1196.78 1179.27L1204.71 1184.12A178 178 0 0 0 1204.47 1184.53Z" fill="#5a5a5a"/>
<path d="M1196.73 1179.35A187.3 187.3 0 0 1 1197.18 1178.62L1205.09 1183.51A178 178 0 0 0 1204.66 1184.2ZM1200.26 1173.81A187.3 187.3 0 0 1 1201.15 1172.47L1208.86 1177.67A178 178 0 0 0 1208.01 1178.94ZM1201.11 1172.53A187.3 187.3 0 0 1 1201.67 1171.7L1209.36 1176.93A178 178 0 0 0 1208.82 1177.72Z" fill="#ffffff"/>
<path d="M1197.13 1178.7A187.3 187.3 0 0 1 1198.2 1177L1206.06 1181.97A178 178 0 0 0 1205.04 1183.58Z" fill="#8c8c8c"/>
<path d="M1198.14 1177.08A187.3 187.3 0 0 1 1199.54 1174.9L1207.33 1179.97A178 178 0 0 0 1206.01 1182.04ZM1202.16 1170.99A187.3 187.3 0 0 1 1203.51 1169.05L1211.1 1174.42A178 178 0 0 0 1209.82 1176.25Z" fill="#1a1a1a"/>
<path d="M1201.62 1171.78A187.3 187.3 0 0 1 1202.22 1170.9L1209.88 1176.18A178 178 0 0 0 1209.31 1177.01Z" fill="#f0f0f0"/>
<path d="M1192.11 1187.34A187.3 187.3 0 0 1 1193.12 1185.51L1201.23 1190.06A178 178 0 0 0 1200.27 1191.8Z" fill="#b8323a"/>
<path d="M1189.84 1191.63A187.3 187.3 0 0 1 1203.73 1168.73L1211.32 1174.11A178 178 0 0 0 1198.11 1195.87Z" fill="none" stroke="#111" stroke-width="1.25" stroke-linejoin="miter"/>
<text font-size="18.93" transform="translate(1165.71 1174.47) rotate(31.25) scale(0.962 1)" text-anchor="middle" fill="#1a1a1a" stroke="#1a1a1a" stroke-width="0.3">18</text>
<path d="M1201.28 1163.08A192.6 192.6 0 0 1 1215.87 1145.5" fill="none" stroke="#d26c62" stroke-width="2.6" />
<path d="M1205.84 1165.82A187.3 187.3 0 0 1 1206.37 1165.11L1213.82 1170.67A178 178 0 0 0 1213.32 1171.35Z" fill="#1a1a1a"/>
<path d="M1206.31 1165.19A187.3 187.3 0 0 1 1207.19 1164.02L1214.6 1169.63A178 178 0 0 0 1213.77 1170.75ZM1214.68 1154.75A187.3 187.3 0 0 1 1214.94 1154.45L1221.97 1160.54A178 178 0 0 0 1221.73 1160.83Z" fill="#a8a8a8"/>
<path d="M1207.13 1164.1A187.3 187.3 0 0 1 1208.22 1162.67L1215.58 1168.35A178 178 0 0 0 1214.55 1169.71ZM1213.92 1155.64A187.3 187.3 0 0 1 1214.05 1155.49L1221.12 1161.53A178 178 0 0 0 1221 1161.67ZM1213.99 1155.56A187.3 187.3 0 0 1 1214.19 1155.32L1221.26 1161.37A178 178 0 0 0 1221.06 1161.6ZM1214.13 1155.4A187.3 187.3 0 0 1 1214.62 1154.82L1221.67 1160.89A178 178 0 0 0 1221.2 1161.44ZM1214.56 1154.89A187.3 187.3 0 0 1 1214.75 1154.68L1221.79 1160.75A178 178 0 0 0 1221.61 1160.96Z" fill="#d8d8d8"/>
<path d="M1208.16 1162.75A187.3 187.3 0 0 1 1208.63 1162.14L1215.97 1167.85A178 178 0 0 0 1215.53 1168.42ZM1208.57 1162.22A187.3 187.3 0 0 1 1211.88 1158.07L1219.06 1163.98A178 178 0 0 0 1215.91 1167.93ZM1218.11 1150.89A187.3 187.3 0 0 1 1219.47 1149.41L1226.28 1155.75A178 178 0 0 0 1224.98 1157.16Z" fill="#5a5a5a"/>
<path d="M1211.82 1158.15A187.3 187.3 0 0 1 1213.77 1155.82L1220.86 1161.84A178 178 0 0 0 1219.01 1164.06ZM1216.02 1153.22A187.3 187.3 0 0 1 1216.25 1152.96L1223.22 1159.12A178 178 0 0 0 1223 1159.37Z" fill="#c4c4c4"/>
<path d="M1213.71 1155.89A187.3 187.3 0 0 1 1213.98 1155.57L1221.06 1161.6A178 178 0 0 0 1220.8 1161.91ZM1216.39 1152.8A187.3 187.3 0 0 1 1218.17 1150.82L1225.04 1157.09A178 178 0 0 0 1223.35 1158.97Z" fill="#f0f0f0"/>
<path d="M1214.88 1154.53A187.3 187.3 0 0 1 1215.16 1154.2L1222.18 1160.31A178 178 0 0 0 1221.91 1160.61Z" fill="#000000"/>
<path d="M1215.09 1154.28A187.3 187.3 0 0 1 1216.09 1153.14L1223.06 1159.3A178 178 0 0 0 1222.11 1160.38ZM1216.19 1153.03A187.3 187.3 0 0 1 1216.46 1152.73L1223.41 1158.9A178 178 0 0 0 1223.15 1159.19Z" fill="#ffffff"/>
<path d="M1211.05 1159.09A187.3 187.3 0 0 1 1212.38 1157.47L1219.54 1163.41A178 178 0 0 0 1218.28 1164.95Z" fill="#b8323a"/>
<path d="M1205.84 1165.82A187.3 187.3 0 0 1 1219.41 1149.48L1226.21 1155.82A178 178 0 0 0 1213.32 1171.35Z" fill="none" stroke="#111" stroke-width="1.25" stroke-linejoin="miter"/>
<text font-size="18.93" transform="translate(1182.36 1149.31) rotate(39.7) scale(0.962 1)" text-anchor="middle" fill="#1a1a1a" stroke="#1a1a1a" stroke-width="0.3">19</text>
<path d="M1217.72 1143.55A192.6 192.6 0 0 1 1235.29 1127.42" fill="none" stroke="#8cbad8" stroke-width="2.6" />
<path d="M1221.88 1146.87A187.3 187.3 0 0 1 1222.02 1146.73L1228.7 1153.2A178 178 0 0 0 1228.57 1153.34ZM1223.47 1145.25A187.3 187.3 0 0 1 1224.32 1144.4L1230.88 1150.99A178 178 0 0 0 1230.07 1151.8ZM1228 1140.83A187.3 187.3 0 0 1 1228.49 1140.38L1234.84 1147.16A178 178 0 0 0 1234.38 1147.59ZM1228.97 1139.93A187.3 187.3 0 0 1 1229.51 1139.42L1235.82 1146.26A178 178 0 0 0 1235.3 1146.74Z" fill="#f0f0f0"/>
<path d="M1221.96 1146.8A187.3 187.3 0 0 1 1222.17 1146.58L1228.84 1153.06A178 178 0 0 0 1228.64 1153.27Z" fill="#000000"/>
<path d="M1222.1 1146.65A187.3 187.3 0 0 1 1222.19 1146.55L1228.86 1153.04A178 178 0 0 0 1228.77 1153.12ZM1224.25 1144.47A187.3 187.3 0 0 1 1225.27 1143.45L1231.79 1150.09A178 178 0 0 0 1230.82 1151.05ZM1229.44 1139.49A187.3 187.3 0 0 1 1231.15 1137.93L1237.38 1144.84A178 178 0 0 0 1235.75 1146.32ZM1236.85 1133A187.3 187.3 0 0 1 1237.25 1132.67L1243.17 1139.84A178 178 0 0 0 1242.79 1140.15Z" fill="#ffffff"/>
<path d="M1222.12 1146.63A187.3 187.3 0 0 1 1223.54 1145.18L1230.14 1151.73A178 178 0 0 0 1228.79 1153.1ZM1232.23 1136.97A187.3 187.3 0 0 1 1232.95 1136.32L1239.09 1143.31A178 178 0 0 0 1238.4 1143.92Z" fill="#1a1a1a"/>
<path d="M1225.2 1143.52A187.3 187.3 0 0 1 1228.08 1140.76L1234.45 1147.53A178 178 0 0 0 1231.72 1150.16ZM1228.41 1140.44A187.3 187.3 0 0 1 1229.04 1139.86L1235.37 1146.67A178 178 0 0 0 1234.77 1147.23ZM1231.08 1137.99A187.3 187.3 0 0 1 1231.43 1137.68L1237.64 1144.6A178 178 0 0 0 1237.31 1144.9ZM1231.36 1137.74A187.3 187.3 0 0 1 1232.3 1136.9L1238.47 1143.86A178 178 0 0 0 1237.57 1144.66ZM1232.88 1136.39A187.3 187.3 0 0 1 1236.93 1132.94L1242.86 1140.09A178 178 0 0 0 1239.02 1143.38ZM1237.92 1132.12A187.3 187.3 0 0 1 1238.32 1131.79L1244.19 1139A178 178 0 0 0 1243.8 1139.32Z" fill="#8c8c8c"/>
<path d="M1237.18 1132.73A187.3 187.3 0 0 1 1237.99 1132.06L1243.88 1139.26A178 178 0 0 0 1243.1 1139.9Z" fill="#a8a8a8"/>
<path d="M1228.1 1140.74A187.3 187.3 0 0 1 1229.63 1139.31L1235.93 1146.15A178 178 0 0 0 1234.47 1147.51Z" fill="#b8323a"/>
<path d="M1221.88 1146.87A187.3 187.3 0 0 1 1238.25 1131.85L1244.12 1139.06A178 178 0 0 0 1228.57 1153.34Z" fill="none" stroke="#111" stroke-width="1.25" stroke-linejoin="miter"/>
<text font-size="18.93" transform="translate(1199.36 1128.1) rotate(47.45) scale(0.962 1)" text-anchor="middle" fill="#1a1a1a" stroke="#1a1a1a" stroke-width="0.3">20</text>
<path d="M1237.39 1125.74A192.6 192.6 0 0 1 1252.45 1115.03" fill="none" stroke="#8ce0c2" stroke-width="2.6" />
<path d="M1241.06 1129.61A187.3 187.3 0 0 1 1241.29 1129.43L1247.01 1136.76A178 178 0 0 0 1246.79 1136.93Z" fill="#1a1a1a"/>
<path d="M1241.21 1129.49A187.3 187.3 0 0 1 1241.33 1129.39L1247.05 1136.73A178 178 0 0 0 1246.93 1136.82ZM1243.29 1127.88A187.3 187.3 0 0 1 1244.57 1126.93L1250.13 1134.38A178 178 0 0 0 1248.91 1135.29Z" fill="#c4c4c4"/>
<path d="M1241.26 1129.45A187.3 187.3 0 0 1 1242.21 1128.72L1247.88 1136.08A178 178 0 0 0 1246.98 1136.78Z" fill="#ffffff"/>
<path d="M1242.13 1128.78A187.3 187.3 0 0 1 1243.37 1127.82L1248.99 1135.24A178 178 0 0 0 1247.81 1136.14ZM1244.49 1126.98A187.3 187.3 0 0 1 1245.35 1126.35L1250.87 1133.83A178 178 0 0 0 1250.05 1134.44ZM1250.9 1122.41A187.3 187.3 0 0 1 1251.15 1122.24L1256.38 1129.93A178 178 0 0 0 1256.14 1130.09ZM1253.94 1120.38A187.3 187.3 0 0 1 1254.47 1120.03L1259.54 1127.83A178 178 0 0 0 1259.03 1128.16ZM1254.39 1120.08A187.3 187.3 0 0 1 1254.98 1119.7L1260.02 1127.51A178 178 0 0 0 1259.46 1127.88Z" fill="#d8d8d8"/>
<path d="M1245.27 1126.41A187.3 187.3 0 0 1 1247.4 1124.85L1252.82 1132.41A178 178 0 0 0 1250.79 1133.89ZM1251.07 1122.29A187.3 187.3 0 0 1 1252.39 1121.4L1257.56 1129.13A178 178 0 0 0 1256.3 1129.98ZM1252.31 1121.46A187.3 187.3 0 0 1 1254.02 1120.32L1259.11 1128.11A178 178 0 0 0 1257.48 1129.18Z" fill="#a8a8a8"/>
<path d="M1247.32 1124.91A187.3 187.3 0 0 1 1250.05 1122.99L1255.33 1130.65A178 178 0 0 0 1252.74 1132.47Z" fill="#f0f0f0"/>
<path d="M1249.96 1123.05A187.3 187.3 0 0 1 1250.98 1122.35L1256.22 1130.04A178 178 0 0 0 1255.25 1130.7Z" fill="#5a5a5a"/>
<path d="M1241.57 1129.2A187.3 187.3 0 0 1 1243.26 1127.91L1248.88 1135.32A178 178 0 0 0 1247.28 1136.55Z" fill="#7f9fbe"/>
<path d="M1243.26 1127.91A187.3 187.3 0 0 1 1244.17 1127.22L1249.75 1134.66A178 178 0 0 0 1248.88 1135.32Z" fill="#d0d0d0"/>
<path d="M1244.17 1127.22A187.3 187.3 0 0 1 1245.62 1126.15L1251.12 1133.64A178 178 0 0 0 1249.75 1134.66Z" fill="#b8323a"/>
<path d="M1241.06 1129.61A187.3 187.3 0 0 1 1254.9 1119.75L1259.95 1127.56A178 178 0 0 0 1246.79 1136.93Z" fill="none" stroke="#111" stroke-width="1.25" stroke-linejoin="miter"/>
<text font-size="18.93" transform="translate(1219.32 1112.09) rotate(54.55) scale(0.962 1)" text-anchor="middle" fill="#1a1a1a" stroke="#1a1a1a" stroke-width="0.3">21</text>
<path d="M1254.72 1113.59A192.6 192.6 0 0 1 1271.77 1104.14" fill="none" stroke="#8852c8" stroke-width="2.6" />
<path d="M1257.94 1117.83A187.3 187.3 0 0 1 1258.95 1117.21L1263.8 1125.15A178 178 0 0 0 1262.83 1125.74ZM1258.87 1117.26A187.3 187.3 0 0 1 1262.53 1115.08L1267.2 1123.12A178 178 0 0 0 1263.72 1125.19ZM1263.07 1114.77A187.3 187.3 0 0 1 1266.83 1112.66L1271.29 1120.82A178 178 0 0 0 1267.71 1122.83ZM1270.2 1110.86A187.3 187.3 0 0 1 1270.32 1110.81L1274.6 1119.06A178 178 0 0 0 1274.49 1119.12ZM1270.89 1110.51A187.3 187.3 0 0 1 1271.04 1110.43L1275.28 1118.71A178 178 0 0 0 1275.14 1118.78ZM1270.95 1110.48A187.3 187.3 0 0 1 1272.86 1109.51L1277.01 1117.83A178 178 0 0 0 1275.2 1118.75Z" fill="#d8d8d8"/>
<path d="M1262.45 1115.13A187.3 187.3 0 0 1 1263.15 1114.72L1267.79 1122.78A178 178 0 0 0 1267.12 1123.17ZM1267.36 1112.37A187.3 187.3 0 0 1 1269 1111.5L1273.34 1119.72A178 178 0 0 0 1271.79 1120.55ZM1273.3 1109.3A187.3 187.3 0 0 1 1273.75 1109.07L1277.86 1117.42A178 178 0 0 0 1277.43 1117.63Z" fill="#1a1a1a"/>
<path d="M1266.75 1112.7A187.3 187.3 0 0 1 1267.38 1112.36L1271.8 1120.54A178 178 0 0 0 1271.2 1120.87ZM1267.29 1112.41A187.3 187.3 0 0 1 1267.45 1112.32L1271.87 1120.5A178 178 0 0 0 1271.72 1120.59Z" fill="#a8a8a8"/>
<path d="M1268.91 1111.54A187.3 187.3 0 0 1 1270.29 1110.82L1274.57 1119.08A178 178 0 0 0 1273.26 1119.76ZM1273.24 1109.32A187.3 187.3 0 0 1 1273.38 1109.25L1277.51 1117.59A178 178 0 0 0 1277.37 1117.65Z" fill="#5a5a5a"/>
<path d="M1270.23 1110.85A187.3 187.3 0 0 1 1270.97 1110.47L1275.22 1118.74A178 178 0 0 0 1274.51 1119.11Z" fill="#ffffff"/>
<path d="M1272.77 1109.56A187.3 187.3 0 0 1 1273.33 1109.28L1277.46 1117.61A178 178 0 0 0 1276.93 1117.88Z" fill="#c4c4c4"/>
<path d="M1258.5 1117.49A187.3 187.3 0 0 1 1260.31 1116.38L1265.09 1124.36A178 178 0 0 0 1263.36 1125.41Z" fill="#7f9fbe"/>
<path d="M1260.31 1116.38A187.3 187.3 0 0 1 1261.3 1115.8L1266.02 1123.81A178 178 0 0 0 1265.09 1124.36Z" fill="#d0d0d0"/>
<path d="M1261.3 1115.8A187.3 187.3 0 0 1 1262.85 1114.89L1267.5 1122.95A178 178 0 0 0 1266.02 1123.81Z" fill="#b8323a"/>
<path d="M1257.94 1117.83A187.3 187.3 0 0 1 1273.66 1109.12L1277.77 1117.46A178 178 0 0 0 1262.83 1125.74Z" fill="none" stroke="#111" stroke-width="1.25" stroke-linejoin="miter"/>
<text font-size="18.93" transform="translate(1238.82 1098.95) rotate(61) scale(0.962 1)" text-anchor="middle" fill="#1a1a1a" stroke="#1a1a1a" stroke-width="0.3">22</text>
<path d="M1274.19 1102.97A192.6 192.6 0 0 1 1328.7 1086.52" fill="none" stroke="#d8827a" stroke-width="2.6" />
<path d="M1276.9 1107.56A187.3 187.3 0 0 1 1279.08 1106.55L1282.93 1115.02A178 178 0 0 0 1280.85 1115.97ZM1281.26 1105.58A187.3 187.3 0 0 1 1284.43 1104.22L1288 1112.81A178 178 0 0 0 1284.99 1114.09ZM1288.58 1102.55A187.3 187.3 0 0 1 1288.73 1102.49L1292.1 1111.16A178 178 0 0 0 1291.95 1111.22ZM1288.64 1102.53A187.3 187.3 0 0 1 1289.79 1102.08L1293.1 1110.77A178 178 0 0 0 1292.01 1111.19ZM1306.13 1096.7A187.3 187.3 0 0 1 1306.63 1096.56L1309.11 1105.52A178 178 0 0 0 1308.63 1105.66ZM1307.98 1096.19A187.3 187.3 0 0 1 1311.81 1095.21L1314.03 1104.24A178 178 0 0 0 1310.39 1105.18ZM1311.72 1095.23A187.3 187.3 0 0 1 1312.18 1095.12L1314.38 1104.15A178 178 0 0 0 1313.94 1104.26ZM1317.78 1093.84A187.3 187.3 0 0 1 1318.19 1093.76L1320.09 1102.86A178 178 0 0 0 1319.71 1102.94Z" fill="#ffffff"/>
<path d="M1279 1106.59A187.3 187.3 0 0 1 1281.22 1105.6L1284.95 1114.11A178 178 0 0 0 1282.84 1115.05ZM1289.7 1102.12A187.3 187.3 0 0 1 1290.76 1101.71L1294.03 1110.42A178 178 0 0 0 1293.01 1110.81ZM1301.14 1098.17A187.3 187.3 0 0 1 1303.36 1097.5L1306 1106.41A178 178 0 0 0 1303.89 1107.05ZM1305.18 1096.97A187.3 187.3 0 0 1 1305.84 1096.78L1308.35 1105.74A178 178 0 0 0 1307.72 1105.91ZM1315.62 1094.32A187.3 187.3 0 0 1 1316.84 1094.05L1318.81 1103.14A178 178 0 0 0 1317.65 1103.39ZM1318.86 1093.62A187.3 187.3 0 0 1 1320.1 1093.37L1321.91 1102.49A178 178 0 0 0 1320.73 1102.73ZM1322.79 1092.86A187.3 187.3 0 0 1 1323.52 1092.73L1325.16 1101.88A178 178 0 0 0 1324.46 1102.01Z" fill="#000000"/>
<path d="M1281.13 1105.64A187.3 187.3 0 0 1 1281.35 1105.54L1285.08 1114.06A178 178 0 0 0 1284.87 1114.15ZM1286.93 1103.2A187.3 187.3 0 0 1 1287.34 1103.04L1290.77 1111.68A178 178 0 0 0 1290.39 1111.83ZM1297.29 1099.4A187.3 187.3 0 0 1 1300.36 1098.41L1303.14 1107.28A178 178 0 0 0 1300.23 1108.23ZM1300.55 1098.35A187.3 187.3 0 0 1 1301.24 1098.14L1303.98 1107.02A178 178 0 0 0 1303.33 1107.23ZM1318.58 1093.68A187.3 187.3 0 0 1 1318.7 1093.65L1320.58 1102.76A178 178 0 0 0 1320.46 1102.79ZM1324.33 1092.58A187.3 187.3 0 0 1 1325.39 1092.4L1326.94 1101.57A178 178 0 0 0 1325.93 1101.75Z" fill="#d8d8d8"/>
<path d="M1284.34 1104.26A187.3 187.3 0 0 1 1286.03 1103.56L1289.53 1112.18A178 178 0 0 0 1287.92 1112.84ZM1286.52 1103.36A187.3 187.3 0 0 1 1287.03 1103.16L1290.47 1111.8A178 178 0 0 0 1290 1111.99ZM1318.09 1093.78A187.3 187.3 0 0 1 1318.68 1093.66L1320.56 1102.77A178 178 0 0 0 1320 1102.88ZM1321.83 1093.04A187.3 187.3 0 0 1 1322.89 1092.84L1324.55 1101.99A178 178 0 0 0 1323.55 1102.18ZM1323.42 1092.74A187.3 187.3 0 0 1 1324.43 1092.57L1326.02 1101.73A178 178 0 0 0 1325.07 1101.9Z" fill="#a8a8a8"/>
<path d="M1285.94 1103.6A187.3 187.3 0 0 1 1286.45 1103.39L1289.93 1112.02A178 178 0 0 0 1289.44 1112.22ZM1300.26 1098.44A187.3 187.3 0 0 1 1300.65 1098.32L1303.42 1107.2A178 178 0 0 0 1303.06 1107.31ZM1303.51 1097.45A187.3 187.3 0 0 1 1305.27 1096.94L1307.81 1105.89A178 178 0 0 0 1306.14 1106.37Z" fill="#5a5a5a"/>
<path d="M1286.36 1103.43A187.3 187.3 0 0 1 1286.61 1103.33L1290.08 1111.95A178 178 0 0 0 1289.85 1112.05ZM1305.74 1096.81A187.3 187.3 0 0 1 1306.23 1096.67L1308.72 1105.63A178 178 0 0 0 1308.26 1105.76ZM1306.54 1096.59A187.3 187.3 0 0 1 1307.15 1096.42L1309.6 1105.39A178 178 0 0 0 1309.02 1105.55ZM1307.05 1096.45A187.3 187.3 0 0 1 1308.07 1096.17L1310.48 1105.15A178 178 0 0 0 1309.51 1105.42ZM1318.61 1093.67A187.3 187.3 0 0 1 1318.95 1093.6L1320.82 1102.71A178 178 0 0 0 1320.49 1102.78ZM1320.01 1093.39A187.3 187.3 0 0 1 1321.07 1093.18L1322.82 1102.31A178 178 0 0 0 1321.82 1102.51Z" fill="#f0f0f0"/>
<path d="M1287.25 1103.07A187.3 187.3 0 0 1 1288.67 1102.51L1292.04 1111.18A178 178 0 0 0 1290.69 1111.71ZM1294.42 1100.39A187.3 187.3 0 0 1 1295.33 1100.07L1298.37 1108.86A178 178 0 0 0 1297.5 1109.16ZM1295.24 1100.1A187.3 187.3 0 0 1 1297.38 1099.37L1300.32 1108.2A178 178 0 0 0 1298.28 1108.89ZM1312.09 1095.14A187.3 187.3 0 0 1 1313.05 1094.91L1315.21 1103.95A178 178 0 0 0 1314.29 1104.18ZM1315.57 1094.33A187.3 187.3 0 0 1 1315.72 1094.29L1317.74 1103.37A178 178 0 0 0 1317.6 1103.4ZM1320.97 1093.2A187.3 187.3 0 0 1 1321.92 1093.02L1323.64 1102.16A178 178 0 0 0 1322.73 1102.33ZM1325.3 1092.42A187.3 187.3 0 0 1 1329.07 1091.82L1330.44 1101.02A178 178 0 0 0 1326.85 1101.59Z" fill="#c4c4c4"/>
<path d="M1290.67 1101.75A187.3 187.3 0 0 1 1294.51 1100.36L1297.59 1109.13A178 178 0 0 0 1293.94 1110.46ZM1312.96 1094.93A187.3 187.3 0 0 1 1315.67 1094.31L1317.69 1103.38A178 178 0 0 0 1315.12 1103.98ZM1316.74 1094.07A187.3 187.3 0 0 1 1317.88 1093.82L1319.8 1102.92A178 178 0 0 0 1318.72 1103.16Z" fill="#1a1a1a"/>
<path d="M1303.26 1097.52A187.3 187.3 0 0 1 1303.6 1097.43L1306.23 1106.35A178 178 0 0 0 1305.91 1106.44Z" fill="#8c8c8c"/>
<path d="M1295.65 1099.96A187.3 187.3 0 0 1 1297.64 1099.29L1300.56 1108.12A178 178 0 0 0 1298.68 1108.75Z" fill="#b8323a"/>
<path d="M1276.9 1107.56A187.3 187.3 0 0 1 1328.98 1091.83L1330.34 1101.03A178 178 0 0 0 1280.85 1115.97Z" fill="none" stroke="#111" stroke-width="1.25" stroke-linejoin="miter"/>
<text font-size="18.93" transform="translate(1281.43 1084.61) rotate(73.2) scale(0.962 1)" text-anchor="middle" fill="#1a1a1a" stroke="#1a1a1a" stroke-width="0.3">X</text>
<path d="M1331.36 1086.15A192.6 192.6 0 0 1 1355.16 1084.5" fill="none" stroke="#cc8a46" stroke-width="2.6" />
<path d="M1332.54 1091.34A187.3 187.3 0 0 1 1333.49 1091.22L1334.63 1100.45A178 178 0 0 0 1333.73 1100.56ZM1336.06 1090.92A187.3 187.3 0 0 1 1337.53 1090.76L1338.47 1100.02A178 178 0 0 0 1337.08 1100.16Z" fill="#8c8c8c"/>
<path d="M1333.39 1091.23A187.3 187.3 0 0 1 1333.67 1091.2L1334.81 1100.43A178 178 0 0 0 1334.54 1100.46Z" fill="#000000"/>
<path d="M1333.58 1091.21A187.3 187.3 0 0 1 1333.87 1091.17L1334.99 1100.4A178 178 0 0 0 1334.71 1100.44Z" fill="#a8a8a8"/>
<path d="M1333.77 1091.18A187.3 187.3 0 0 1 1335.83 1090.94L1336.86 1100.19A178 178 0 0 0 1334.9 1100.42ZM1338.19 1090.7A187.3 187.3 0 0 1 1340.42 1090.49L1341.21 1099.76A178 178 0 0 0 1339.1 1099.95Z" fill="#d8d8d8"/>
<path d="M1335.73 1090.95A187.3 187.3 0 0 1 1336.16 1090.91L1337.17 1100.15A178 178 0 0 0 1336.77 1100.2Z" fill="#c4c4c4"/>
<path d="M1337.43 1090.77A187.3 187.3 0 0 1 1338.29 1090.69L1339.19 1099.94A178 178 0 0 0 1338.38 1100.02Z" fill="#ffffff"/>
<path d="M1340.32 1090.5A187.3 187.3 0 0 1 1346.95 1090.04L1347.42 1099.33A178 178 0 0 0 1341.12 1099.77Z" fill="#f0f0f0"/>
<path d="M1346.85 1090.05A187.3 187.3 0 0 1 1348.35 1089.98L1348.75 1099.27A178 178 0 0 0 1347.33 1099.34ZM1348.25 1089.98A187.3 187.3 0 0 1 1350.05 1089.91L1350.37 1099.21A178 178 0 0 0 1348.66 1099.27ZM1349.95 1089.91A187.3 187.3 0 0 1 1351.18 1089.88L1351.45 1099.17A178 178 0 0 0 1350.28 1099.21ZM1351.08 1089.88A187.3 187.3 0 0 1 1352.64 1089.84L1352.83 1099.14A178 178 0 0 0 1351.35 1099.17ZM1352.54 1089.84A187.3 187.3 0 0 1 1352.68 1089.84L1352.87 1099.14A178 178 0 0 0 1352.74 1099.14ZM1352.58 1089.84A187.3 187.3 0 0 1 1354.04 1089.82L1354.16 1099.12A178 178 0 0 0 1352.78 1099.14ZM1353.94 1089.82A187.3 187.3 0 0 1 1354.48 1089.81L1354.58 1099.11A178 178 0 0 0 1354.07 1099.12ZM1354.38 1089.81A187.3 187.3 0 0 1 1354.62 1089.81L1354.71 1099.11A178 178 0 0 0 1354.48 1099.11ZM1354.52 1089.81A187.3 187.3 0 0 1 1354.8 1089.81L1354.88 1099.11A178 178 0 0 0 1354.62 1099.11Z" fill="#d4d4d4"/>
<path d="M1336.14 1090.91A187.3 187.3 0 0 1 1338.22 1090.69L1339.12 1099.95A178 178 0 0 0 1337.15 1100.16Z" fill="#b8323a"/>
<path d="M1332.54 1091.34A187.3 187.3 0 0 1 1354.7 1089.81L1354.79 1099.11A178 178 0 0 0 1333.73 1100.56Z" fill="none" stroke="#111" stroke-width="1.25" stroke-linejoin="miter"/>
<text font-size="18.93" transform="translate(1325.85 1074.98) rotate(86.05) scale(0.962 1)" text-anchor="middle" fill="#1a1a1a" stroke="#1a1a1a" stroke-width="0.3">Y</text>
<line x1="1418.84" y1="1124.33" x2="1421.94" y2="1116.74" stroke="#1a1a1a" stroke-width="1.3" />
<text font-size="21.32" transform="translate(1424.43 1130.07) rotate(-67.8) scale(0.962 1)" text-anchor="end" fill="#1a1a1a" stroke="#1a1a1a" stroke-width="0.3">KDM5B</text>
<line x1="1430.89" y1="1424.38" x2="1434.59" y2="1431.7" stroke="#1a1a1a" stroke-width="1.3" />
<text font-size="21.32" transform="translate(1422.9 1424.83) rotate(63.2) scale(0.962 1)" text-anchor="end" fill="#1a1a1a" stroke="#1a1a1a" stroke-width="0.3">FAM3C</text>
<line x1="1294.69" y1="1430.09" x2="1291.62" y2="1437.69" stroke="#1a1a1a" stroke-width="1.3" />
<text font-size="21.32" transform="translate(1302.69 1429.87) rotate(-68) scale(0.962 1)" fill="#1a1a1a" stroke="#1a1a1a" stroke-width="0.3">MARVELD1</text>
<line x1="1212.89" y1="1358.35" x2="1205.75" y2="1362.39" stroke="#1a1a1a" stroke-width="1.3" />
<text font-size="21.32" transform="translate(1219.29 1363.16) rotate(-29.5) scale(0.962 1)" fill="#1a1a1a" stroke="#1a1a1a" stroke-width="0.3">GJB2</text>
<line x1="1246.52" y1="1154.1" x2="1241.06" y2="1147.98" stroke="#1a1a1a" stroke-width="1.3" />
<text font-size="21.32" transform="translate(1243.18 1161.37) rotate(48.2) scale(0.962 1)" fill="#1a1a1a" stroke="#1a1a1a" stroke-width="0.3">TGM2</text>
</g>
</svg>
</body>
</html>
